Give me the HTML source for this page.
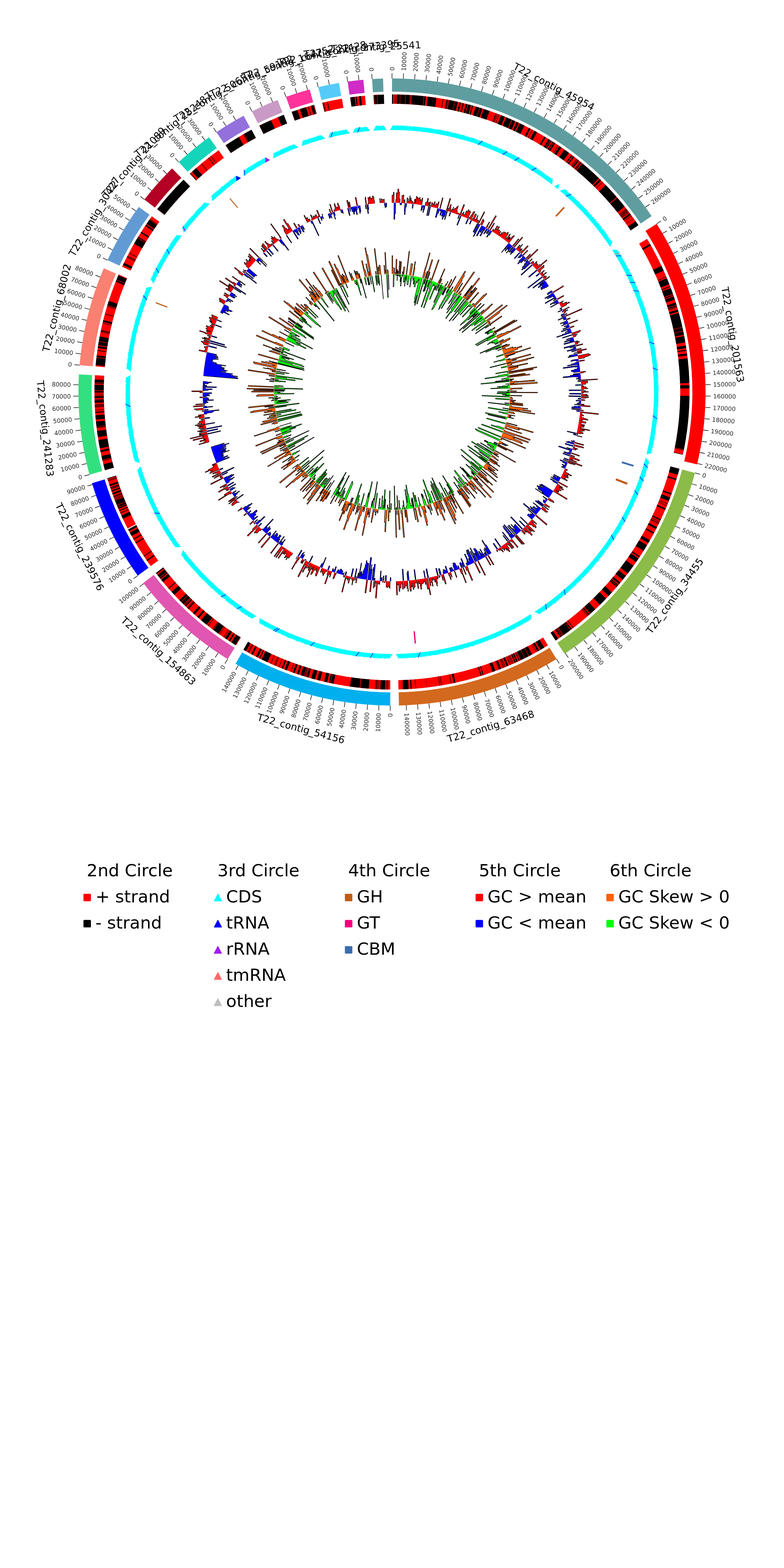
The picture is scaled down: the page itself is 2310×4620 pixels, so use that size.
<!DOCTYPE html><html><head><meta charset="utf-8"><title>Circos</title><style>html,body{margin:0;padding:0;background:#fff;}svg{display:block;}text{font-family:"DejaVu Sans","Liberation Sans",sans-serif;}</style></head><body><svg width="2310" height="4620" viewBox="0 0 2310 4620"><rect width="2310" height="4620" fill="#fff"/><path d="M1155 231A924 924 0 0 1 1920 636.8L1887.8 658.7A885 885 0 0 0 1155 270Z" fill="#5F9EA0"/><path d="M1934.8 659.4A924 924 0 0 1 2054 1368.3L2016.1 1359.3A885 885 0 0 0 1901.9 680.3Z" fill="#FF0000"/><path d="M2047.7 1393.4A924 924 0 0 1 1663.5 1926.5L1642 1893.9A885 885 0 0 0 2010 1383.3Z" fill="#8BBB48"/><path d="M1639.7 1941.7A924 924 0 0 1 1175.5 2078.8L1174.6 2039.8A885 885 0 0 0 1619.3 1908.5Z" fill="#D2691E"/><path d="M1149.8 2079A924 924 0 0 1 694 1955.8L713.4 1922A885 885 0 0 0 1150.1 2040Z" fill="#00B0EE"/><path d="M670.8 1942A924 924 0 0 1 422.1 1717.7L453.1 1694A885 885 0 0 0 691.3 1908.8Z" fill="#E056B0"/><path d="M405.9 1695.9A924 924 0 0 1 271 1423.8L308.3 1412.4A885 885 0 0 0 437.5 1673.1Z" fill="#0000FF"/><path d="M263.6 1398.4A924 924 0 0 1 232.5 1103.1L271.4 1105.3A885 885 0 0 0 301.2 1388.1Z" fill="#33E080"/><path d="M234.4 1075.9A924 924 0 0 1 305.9 790.6L341.7 805.9A885 885 0 0 0 273.2 1079.3Z" fill="#FA8072"/><path d="M316.7 766.4A924 924 0 0 1 409 609.8L440.5 632.8A885 885 0 0 0 352.1 782.8Z" fill="#629BD3"/><path d="M425.5 587.9A924 924 0 0 1 507 496.3L534.4 524.1A885 885 0 0 0 456.3 611.8Z" fill="#B40024"/><path d="M526.7 477.5A924 924 0 0 1 615.9 404.5L638.7 436.2A885 885 0 0 0 553.2 506.1Z" fill="#14D4BA"/><path d="M637.6 389.4A924 924 0 0 1 717.9 340.9L736.4 375.3A885 885 0 0 0 659.5 421.7Z" fill="#9370DB"/><path d="M742.3 328.3A924 924 0 0 1 818 294.6L832.2 331A885 885 0 0 0 759.7 363.2Z" fill="#C99AC6"/><path d="M842.6 285.4A924 924 0 0 1 912.4 263.4L922.7 301A885 885 0 0 0 855.8 322.1Z" fill="#FF3399"/><path d="M937.7 256.9A924 924 0 0 1 998.8 244.3L1005.4 282.7A885 885 0 0 0 946.9 294.8Z" fill="#56CBF9"/><path d="M1024.3 240.3A924 924 0 0 1 1070.6 234.9L1074.2 273.7A885 885 0 0 0 1029.8 278.9Z" fill="#D02BC4"/><path d="M1096.3 232.9A924 924 0 0 1 1128.7 231.4L1129.8 270.4A885 885 0 0 0 1098.8 271.8Z" fill="#5F9EA0"/><path d="M1155 231L1155 215.7M1188.4 231.6L1189 216.3M1221.8 233.4L1222.9 218.2M1255.1 236.4L1256.8 221.2M1288.3 240.7L1290.5 225.5M1321.3 246.1L1324.1 231M1354.1 252.7L1357.4 237.8M1386.6 260.5L1390.4 245.7M1418.8 269.5L1423.2 254.8M1450.7 279.6L1455.6 265.1M1482.2 290.9L1487.6 276.6M1513.2 303.3L1519.2 289.2M1543.8 316.8L1550.3 302.9M1573.9 331.4L1580.8 317.8M1603.4 347.1L1610.9 333.7M1632.4 363.9L1640.3 350.8M1660.7 381.7L1669.1 368.9M1688.3 400.5L1697.2 388M1715.3 420.3L1724.6 408.1M1741.5 441L1751.2 429.2M1767 462.7L1777.1 451.2M1791.6 485.3L1802.2 474.2M1815.4 508.8L1826.4 498.1M1838.4 533.1L1849.7 522.8M1860.4 558.2L1872.1 548.4M1881.6 584.2L1893.6 574.7M1901.8 610.8L1914.1 601.8M1934.8 659.4L1947.7 651.1M1952.2 687.9L1965.4 680.2M1968.6 717.1L1982.1 709.8M1983.9 746.8L1997.7 740M1998.2 777L2012.1 770.8M2011.3 807.8L2025.5 802.1M2023.3 839L2037.7 833.8M2034.2 870.6L2048.7 865.9M2043.9 902.6L2058.6 898.5M2052.4 935L2067.3 931.3M2059.8 967.6L2074.8 964.5M2066 1000.5L2081.1 997.9M2071 1033.5L2086.1 1031.5M2074.8 1066.7L2090 1065.3M2077.4 1100.1L2092.6 1099.2M2078.7 1133.5L2094 1133.1M2078.9 1166.9L2094.2 1167.1M2077.9 1200.4L2093.2 1201.1M2075.6 1233.7L2090.9 1235M2072.2 1267L2087.4 1268.9M2067.5 1300.1L2082.6 1302.5M2061.7 1333L2076.7 1336M2054.6 1365.7L2069.5 1369.2M2047.7 1393.4L2062.5 1397.3M2038.5 1425.5L2053.1 1430M2028.1 1457.3L2042.6 1462.3M2016.6 1488.7L2030.9 1494.2M2004 1519.7L2018.1 1525.7M1990.2 1550.2L2004.1 1556.7M1975.4 1580.1L1989 1587.2M1959.5 1609.5L1972.8 1617.1M1942.5 1638.3L1955.5 1646.3M1924.5 1666.5L1937.2 1675M1905.5 1694L1917.9 1703M1885.5 1720.8L1897.6 1730.2M1864.5 1746.9L1876.3 1756.7M1842.6 1772.2L1854 1782.4M1819.9 1796.7L1830.9 1807.3M1796.2 1820.3L1806.8 1831.3M1771.7 1843.1L1781.9 1854.5M1746.4 1864.9L1756.2 1876.7M1720.3 1885.9L1729.7 1898M1693.5 1905.9L1702.4 1918.3M1666 1924.9L1674.4 1937.6M1639.7 1941.7L1647.7 1954.7M1610.9 1958.7L1618.5 1972M1581.5 1974.7L1588.6 1988.2M1551.6 1989.6L1558.2 2003.4M1521.1 2003.4L1527.2 2017.4M1490.2 2016.1L1495.8 2030.3M1458.8 2027.6L1463.9 2042.1M1427.1 2038L1431.6 2052.7M1394.9 2047.3L1398.9 2062.1M1362.5 2055.4L1365.9 2070.3M1329.8 2062.3L1332.6 2077.3M1296.8 2068.1L1299.2 2083.2M1263.7 2072.6L1265.5 2087.8M1230.4 2075.9L1231.6 2091.2M1197 2078L1197.7 2093.3M1149.8 2079L1149.8 2094.3M1116.4 2078.2L1115.8 2093.5M1083 2076.2L1081.8 2091.4M1049.7 2073L1048 2088.2M1016.6 2068.6L1014.3 2083.7M983.6 2063L980.8 2078M950.9 2056.2L947.5 2071.1M918.4 2048.2L914.5 2063M886.2 2039L881.8 2053.7M854.4 2028.7L849.4 2043.2M823 2017.3L817.5 2031.6M792 2004.7L786 2018.8M761.5 1991L755 2004.9M731.5 1976.2L724.5 1989.8M702.1 1960.4L694.6 1973.7M670.8 1942L662.8 1955M642.7 1924L634.2 1936.7M615.2 1904.9L606.2 1917.3M588.4 1884.9L579 1897M562.4 1863.9L552.5 1875.6M537.1 1842L526.9 1853.4M512.6 1819.2L502 1830.2M489 1795.5L478 1806.1M466.3 1771L454.9 1781.2M444.4 1745.7L432.7 1755.4M423.5 1719.6L411.4 1728.9M405.9 1695.9L393.5 1704.8M386.8 1668.4L374.1 1676.9M368.7 1640.3L355.7 1648.3M351.7 1611.5L338.4 1619.1M335.7 1582.2L322.1 1589.2M320.7 1552.2L306.9 1558.8M306.9 1521.8L292.9 1527.8M294.2 1490.8L279.9 1496.4M282.6 1459.5L268.2 1464.5M272.2 1427.7L257.5 1432.2M263.6 1398.4L248.9 1402.4M255.4 1365.9L240.5 1369.4M248.4 1333.2L233.3 1336.2M242.5 1300.3L227.4 1302.7M237.8 1267.2L222.7 1269.1M234.4 1233.9L219.1 1235.2M232.1 1200.6L216.8 1201.3M231.1 1167.1L215.8 1167.4M231.2 1133.7L215.9 1133.4M234.4 1075.9L219.1 1074.6M237.9 1042.7L222.7 1040.8M242.5 1009.5L227.4 1007.1M248.4 976.6L233.4 973.7M255.4 943.9L240.5 940.4M263.7 911.5L248.9 907.5M273.1 879.4L258.5 874.8M283.6 847.7L269.2 842.6M295.3 816.3L281.1 810.7M316.7 766.4L302.8 760M331.3 736.3L317.7 729.4M347 706.8L333.6 699.4M363.7 677.8L350.6 669.9M381.5 649.5L368.7 641.2M400.3 621.9L387.8 613M425.5 587.9L413.4 578.5M446.5 561.9L434.8 552.1M468.4 536.6L457 526.4M491.2 512.2L480.3 501.5M526.7 477.5L516.3 466.3M551.7 455.2L541.7 443.6M577.4 433.8L567.8 421.9M603.8 413.4L594.7 401.1M637.6 389.4L629.1 376.7M665.7 371.2L657.6 358.2M694.4 354L686.7 340.7M742.3 328.3L735.4 314.6M772.5 313.9L766.1 300M803.2 300.6L797.3 286.5M842.6 285.4L837.4 271M874.3 274.7L869.6 260.1M906.3 265.1L902.2 250.4M937.7 256.9L934.1 242M970.4 249.6L967.3 234.6M1024.3 240.3L1022.2 225.1M1057.5 236.2L1055.9 220.9M1096.3 232.9L1095.4 217.6" stroke="#1e1e1e" stroke-width="1.8" fill="none"/><g font-size="17.6" fill="#262626"><text x="1155" y="208.5" transform="rotate(-90 1155 208.5)" text-anchor="start" dy="0.37em">0</text><text x="1189.3" y="209.1" transform="rotate(-87.9 1189.3 209.1)" text-anchor="start" dy="0.37em">10000</text><text x="1223.5" y="211" transform="rotate(-85.9 1223.5 211)" text-anchor="start" dy="0.37em">20000</text><text x="1257.6" y="214.1" transform="rotate(-83.8 1257.6 214.1)" text-anchor="start" dy="0.37em">30000</text><text x="1291.6" y="218.4" transform="rotate(-81.7 1291.6 218.4)" text-anchor="start" dy="0.37em">40000</text><text x="1325.4" y="224" transform="rotate(-79.6 1325.4 224)" text-anchor="start" dy="0.37em">50000</text><text x="1358.9" y="230.7" transform="rotate(-77.6 1358.9 230.7)" text-anchor="start" dy="0.37em">60000</text><text x="1392.3" y="238.7" transform="rotate(-75.5 1392.3 238.7)" text-anchor="start" dy="0.37em">70000</text><text x="1425.3" y="247.9" transform="rotate(-73.4 1425.3 247.9)" text-anchor="start" dy="0.37em">80000</text><text x="1457.9" y="258.3" transform="rotate(-71.3 1457.9 258.3)" text-anchor="start" dy="0.37em">90000</text><text x="1490.2" y="269.8" transform="rotate(-69.3 1490.2 269.8)" text-anchor="start" dy="0.37em">100000</text><text x="1522" y="282.5" transform="rotate(-67.2 1522 282.5)" text-anchor="start" dy="0.37em">110000</text><text x="1553.3" y="296.4" transform="rotate(-65.1 1553.3 296.4)" text-anchor="start" dy="0.37em">120000</text><text x="1584.1" y="311.4" transform="rotate(-63 1584.1 311.4)" text-anchor="start" dy="0.37em">130000</text><text x="1614.4" y="327.4" transform="rotate(-61 1614.4 327.4)" text-anchor="start" dy="0.37em">140000</text><text x="1644" y="344.6" transform="rotate(-58.9 1644 344.6)" text-anchor="start" dy="0.37em">150000</text><text x="1673" y="362.8" transform="rotate(-56.8 1673 362.8)" text-anchor="start" dy="0.37em">160000</text><text x="1701.3" y="382.1" transform="rotate(-54.7 1701.3 382.1)" text-anchor="start" dy="0.37em">170000</text><text x="1728.9" y="402.4" transform="rotate(-52.7 1728.9 402.4)" text-anchor="start" dy="0.37em">180000</text><text x="1755.8" y="423.6" transform="rotate(-50.6 1755.8 423.6)" text-anchor="start" dy="0.37em">190000</text><text x="1781.9" y="445.9" transform="rotate(-48.5 1781.9 445.9)" text-anchor="start" dy="0.37em">200000</text><text x="1807.1" y="469" transform="rotate(-46.5 1807.1 469)" text-anchor="start" dy="0.37em">210000</text><text x="1831.5" y="493" transform="rotate(-44.4 1831.5 493)" text-anchor="start" dy="0.37em">220000</text><text x="1855" y="518" transform="rotate(-42.3 1855 518)" text-anchor="start" dy="0.37em">230000</text><text x="1877.6" y="543.7" transform="rotate(-40.2 1877.6 543.7)" text-anchor="start" dy="0.37em">240000</text><text x="1899.3" y="570.3" transform="rotate(-38.2 1899.3 570.3)" text-anchor="start" dy="0.37em">250000</text><text x="1919.9" y="597.6" transform="rotate(-36.1 1919.9 597.6)" text-anchor="start" dy="0.37em">260000</text><text x="1953.8" y="647.3" transform="rotate(-32.4 1953.8 647.3)" text-anchor="start" dy="0.37em">0</text><text x="1971.7" y="676.5" transform="rotate(-30.4 1971.7 676.5)" text-anchor="start" dy="0.37em">10000</text><text x="1988.4" y="706.4" transform="rotate(-28.3 1988.4 706.4)" text-anchor="start" dy="0.37em">20000</text><text x="2004.1" y="736.8" transform="rotate(-26.2 2004.1 736.8)" text-anchor="start" dy="0.37em">30000</text><text x="2018.7" y="767.8" transform="rotate(-24.1 2018.7 767.8)" text-anchor="start" dy="0.37em">40000</text><text x="2032.1" y="799.3" transform="rotate(-22.1 2032.1 799.3)" text-anchor="start" dy="0.37em">50000</text><text x="2044.4" y="831.3" transform="rotate(-20 2044.4 831.3)" text-anchor="start" dy="0.37em">60000</text><text x="2055.6" y="863.7" transform="rotate(-17.9 2055.6 863.7)" text-anchor="start" dy="0.37em">70000</text><text x="2065.5" y="896.5" transform="rotate(-15.8 2065.5 896.5)" text-anchor="start" dy="0.37em">80000</text><text x="2074.3" y="929.6" transform="rotate(-13.8 2074.3 929.6)" text-anchor="start" dy="0.37em">90000</text><text x="2081.8" y="963" transform="rotate(-11.7 2081.8 963)" text-anchor="start" dy="0.37em">100000</text><text x="2088.2" y="996.7" transform="rotate(-9.6 2088.2 996.7)" text-anchor="start" dy="0.37em">110000</text><text x="2093.3" y="1030.6" transform="rotate(-7.6 2093.3 1030.6)" text-anchor="start" dy="0.37em">120000</text><text x="2097.2" y="1064.6" transform="rotate(-5.5 2097.2 1064.6)" text-anchor="start" dy="0.37em">130000</text><text x="2099.8" y="1098.8" transform="rotate(-3.4 2099.8 1098.8)" text-anchor="start" dy="0.37em">140000</text><text x="2101.2" y="1133" transform="rotate(-1.3 2101.2 1133)" text-anchor="start" dy="0.37em">150000</text><text x="2101.4" y="1167.2" transform="rotate(0.7 2101.4 1167.2)" text-anchor="start" dy="0.37em">160000</text><text x="2100.4" y="1201.5" transform="rotate(2.8 2100.4 1201.5)" text-anchor="start" dy="0.37em">170000</text><text x="2098.1" y="1235.7" transform="rotate(4.9 2098.1 1235.7)" text-anchor="start" dy="0.37em">180000</text><text x="2094.5" y="1269.7" transform="rotate(7 2094.5 1269.7)" text-anchor="start" dy="0.37em">190000</text><text x="2089.8" y="1303.7" transform="rotate(9 2089.8 1303.7)" text-anchor="start" dy="0.37em">200000</text><text x="2083.8" y="1337.4" transform="rotate(11.1 2083.8 1337.4)" text-anchor="start" dy="0.37em">210000</text><text x="2076.6" y="1370.9" transform="rotate(13.2 2076.6 1370.9)" text-anchor="start" dy="0.37em">220000</text><text x="2069.5" y="1399.2" transform="rotate(15 2069.5 1399.2)" text-anchor="start" dy="0.37em">0</text><text x="2060" y="1432.1" transform="rotate(17 2060 1432.1)" text-anchor="start" dy="0.37em">10000</text><text x="2049.4" y="1464.7" transform="rotate(19.1 2049.4 1464.7)" text-anchor="start" dy="0.37em">20000</text><text x="2037.6" y="1496.8" transform="rotate(21.2 2037.6 1496.8)" text-anchor="start" dy="0.37em">30000</text><text x="2024.7" y="1528.6" transform="rotate(23.2 2024.7 1528.6)" text-anchor="start" dy="0.37em">40000</text><text x="2010.6" y="1559.8" transform="rotate(25.3 2010.6 1559.8)" text-anchor="start" dy="0.37em">50000</text><text x="1995.4" y="1590.5" transform="rotate(27.4 1995.4 1590.5)" text-anchor="start" dy="0.37em">60000</text><text x="1979.1" y="1620.6" transform="rotate(29.5 1979.1 1620.6)" text-anchor="start" dy="0.37em">70000</text><text x="1961.7" y="1650.1" transform="rotate(31.5 1961.7 1650.1)" text-anchor="start" dy="0.37em">80000</text><text x="1943.2" y="1679" transform="rotate(33.6 1943.2 1679)" text-anchor="start" dy="0.37em">90000</text><text x="1923.8" y="1707.2" transform="rotate(35.7 1923.8 1707.2)" text-anchor="start" dy="0.37em">100000</text><text x="1903.3" y="1734.6" transform="rotate(37.8 1903.3 1734.6)" text-anchor="start" dy="0.37em">110000</text><text x="1881.8" y="1761.3" transform="rotate(39.8 1881.8 1761.3)" text-anchor="start" dy="0.37em">120000</text><text x="1859.4" y="1787.2" transform="rotate(41.9 1859.4 1787.2)" text-anchor="start" dy="0.37em">130000</text><text x="1836" y="1812.3" transform="rotate(44 1836 1812.3)" text-anchor="start" dy="0.37em">140000</text><text x="1811.8" y="1836.5" transform="rotate(46.1 1811.8 1836.5)" text-anchor="start" dy="0.37em">150000</text><text x="1786.7" y="1859.8" transform="rotate(48.1 1786.7 1859.8)" text-anchor="start" dy="0.37em">160000</text><text x="1760.8" y="1882.2" transform="rotate(50.2 1760.8 1882.2)" text-anchor="start" dy="0.37em">170000</text><text x="1734.1" y="1903.7" transform="rotate(52.3 1734.1 1903.7)" text-anchor="start" dy="0.37em">180000</text><text x="1706.6" y="1924.1" transform="rotate(54.4 1706.6 1924.1)" text-anchor="start" dy="0.37em">190000</text><text x="1678.4" y="1943.6" transform="rotate(56.4 1678.4 1943.6)" text-anchor="start" dy="0.37em">200000</text><text x="1651.5" y="1960.8" transform="rotate(58.4 1651.5 1960.8)" text-anchor="start" dy="0.37em">0</text><text x="1622" y="1978.3" transform="rotate(60.4 1622 1978.3)" text-anchor="start" dy="0.37em">10000</text><text x="1591.9" y="1994.6" transform="rotate(62.5 1591.9 1994.6)" text-anchor="start" dy="0.37em">20000</text><text x="1561.3" y="2009.9" transform="rotate(64.6 1561.3 2009.9)" text-anchor="start" dy="0.37em">30000</text><text x="1530.1" y="2024" transform="rotate(66.7 1530.1 2024)" text-anchor="start" dy="0.37em">40000</text><text x="1498.4" y="2037" transform="rotate(68.7 1498.4 2037)" text-anchor="start" dy="0.37em">50000</text><text x="1466.2" y="2048.9" transform="rotate(70.8 1466.2 2048.9)" text-anchor="start" dy="0.37em">60000</text><text x="1433.7" y="2059.5" transform="rotate(72.9 1433.7 2059.5)" text-anchor="start" dy="0.37em">70000</text><text x="1400.8" y="2069" transform="rotate(75 1400.8 2069)" text-anchor="start" dy="0.37em">80000</text><text x="1367.5" y="2077.3" transform="rotate(77 1367.5 2077.3)" text-anchor="start" dy="0.37em">90000</text><text x="1334" y="2084.4" transform="rotate(79.1 1334 2084.4)" text-anchor="start" dy="0.37em">100000</text><text x="1300.3" y="2090.3" transform="rotate(81.2 1300.3 2090.3)" text-anchor="start" dy="0.37em">110000</text><text x="1266.3" y="2094.9" transform="rotate(83.2 1266.3 2094.9)" text-anchor="start" dy="0.37em">120000</text><text x="1232.2" y="2098.3" transform="rotate(85.3 1232.2 2098.3)" text-anchor="start" dy="0.37em">130000</text><text x="1198" y="2100.5" transform="rotate(87.4 1198 2100.5)" text-anchor="start" dy="0.37em">140000</text><text x="1149.7" y="2101.5" transform="rotate(-89.7 1149.7 2101.5)" text-anchor="end" dy="0.37em">0</text><text x="1115.5" y="2100.7" transform="rotate(-87.6 1115.5 2100.7)" text-anchor="end" dy="0.37em">10000</text><text x="1081.3" y="2098.6" transform="rotate(-85.5 1081.3 2098.6)" text-anchor="end" dy="0.37em">20000</text><text x="1047.2" y="2095.3" transform="rotate(-83.5 1047.2 2095.3)" text-anchor="end" dy="0.37em">30000</text><text x="1013.2" y="2090.8" transform="rotate(-81.4 1013.2 2090.8)" text-anchor="end" dy="0.37em">40000</text><text x="979.4" y="2085.1" transform="rotate(-79.3 979.4 2085.1)" text-anchor="end" dy="0.37em">50000</text><text x="945.9" y="2078.1" transform="rotate(-77.2 945.9 2078.1)" text-anchor="end" dy="0.37em">60000</text><text x="912.6" y="2069.9" transform="rotate(-75.2 912.6 2069.9)" text-anchor="end" dy="0.37em">70000</text><text x="879.7" y="2060.6" transform="rotate(-73.1 879.7 2060.6)" text-anchor="end" dy="0.37em">80000</text><text x="847.1" y="2050" transform="rotate(-71 847.1 2050)" text-anchor="end" dy="0.37em">90000</text><text x="814.9" y="2038.3" transform="rotate(-68.9 814.9 2038.3)" text-anchor="end" dy="0.37em">100000</text><text x="783.2" y="2025.4" transform="rotate(-66.9 783.2 2025.4)" text-anchor="end" dy="0.37em">110000</text><text x="751.9" y="2011.4" transform="rotate(-64.8 751.9 2011.4)" text-anchor="end" dy="0.37em">120000</text><text x="721.2" y="1996.2" transform="rotate(-62.7 721.2 1996.2)" text-anchor="end" dy="0.37em">130000</text><text x="691" y="1980" transform="rotate(-60.6 691 1980)" text-anchor="end" dy="0.37em">140000</text><text x="659" y="1961.2" transform="rotate(-58.4 659 1961.2)" text-anchor="end" dy="0.37em">0</text><text x="630.2" y="1942.7" transform="rotate(-56.3 630.2 1942.7)" text-anchor="end" dy="0.37em">10000</text><text x="602" y="1923.2" transform="rotate(-54.3 602 1923.2)" text-anchor="end" dy="0.37em">20000</text><text x="574.6" y="1902.7" transform="rotate(-52.2 574.6 1902.7)" text-anchor="end" dy="0.37em">30000</text><text x="547.9" y="1881.2" transform="rotate(-50.1 547.9 1881.2)" text-anchor="end" dy="0.37em">40000</text><text x="522" y="1858.7" transform="rotate(-48 522 1858.7)" text-anchor="end" dy="0.37em">50000</text><text x="497" y="1835.4" transform="rotate(-46 497 1835.4)" text-anchor="end" dy="0.37em">60000</text><text x="472.8" y="1811.1" transform="rotate(-43.9 472.8 1811.1)" text-anchor="end" dy="0.37em">70000</text><text x="449.5" y="1786" transform="rotate(-41.8 449.5 1786)" text-anchor="end" dy="0.37em">80000</text><text x="427.1" y="1760" transform="rotate(-39.7 427.1 1760)" text-anchor="end" dy="0.37em">90000</text><text x="405.7" y="1733.3" transform="rotate(-37.7 405.7 1733.3)" text-anchor="end" dy="0.37em">100000</text><text x="387.6" y="1709.1" transform="rotate(-35.8 387.6 1709.1)" text-anchor="end" dy="0.37em">0</text><text x="368.1" y="1680.9" transform="rotate(-33.8 368.1 1680.9)" text-anchor="end" dy="0.37em">10000</text><text x="349.6" y="1652.1" transform="rotate(-31.7 349.6 1652.1)" text-anchor="end" dy="0.37em">20000</text><text x="332.1" y="1622.6" transform="rotate(-29.6 332.1 1622.6)" text-anchor="end" dy="0.37em">30000</text><text x="315.7" y="1592.6" transform="rotate(-27.5 315.7 1592.6)" text-anchor="end" dy="0.37em">40000</text><text x="300.4" y="1561.9" transform="rotate(-25.5 300.4 1561.9)" text-anchor="end" dy="0.37em">50000</text><text x="286.3" y="1530.7" transform="rotate(-23.4 286.3 1530.7)" text-anchor="end" dy="0.37em">60000</text><text x="273.2" y="1499" transform="rotate(-21.3 273.2 1499)" text-anchor="end" dy="0.37em">70000</text><text x="261.4" y="1466.9" transform="rotate(-19.2 261.4 1466.9)" text-anchor="end" dy="0.37em">80000</text><text x="250.7" y="1434.3" transform="rotate(-17.2 250.7 1434.3)" text-anchor="end" dy="0.37em">90000</text><text x="241.9" y="1404.3" transform="rotate(-15.3 241.9 1404.3)" text-anchor="end" dy="0.37em">0</text><text x="233.5" y="1371.1" transform="rotate(-13.2 233.5 1371.1)" text-anchor="end" dy="0.37em">10000</text><text x="226.3" y="1337.6" transform="rotate(-11.1 226.3 1337.6)" text-anchor="end" dy="0.37em">20000</text><text x="220.3" y="1303.9" transform="rotate(-9 220.3 1303.9)" text-anchor="end" dy="0.37em">30000</text><text x="215.5" y="1269.9" transform="rotate(-7 215.5 1269.9)" text-anchor="end" dy="0.37em">40000</text><text x="212" y="1235.9" transform="rotate(-4.9 212 1235.9)" text-anchor="end" dy="0.37em">50000</text><text x="209.7" y="1201.7" transform="rotate(-2.8 209.7 1201.7)" text-anchor="end" dy="0.37em">60000</text><text x="208.6" y="1167.4" transform="rotate(-0.8 208.6 1167.4)" text-anchor="end" dy="0.37em">70000</text><text x="208.8" y="1133.2" transform="rotate(1.3 208.8 1133.2)" text-anchor="end" dy="0.37em">80000</text><text x="212" y="1074" transform="rotate(4.9 212 1074)" text-anchor="end" dy="0.37em">0</text><text x="215.5" y="1039.9" transform="rotate(7 215.5 1039.9)" text-anchor="end" dy="0.37em">10000</text><text x="220.3" y="1006" transform="rotate(9.1 220.3 1006)" text-anchor="end" dy="0.37em">20000</text><text x="226.3" y="972.3" transform="rotate(11.1 226.3 972.3)" text-anchor="end" dy="0.37em">30000</text><text x="233.5" y="938.8" transform="rotate(13.2 233.5 938.8)" text-anchor="end" dy="0.37em">40000</text><text x="242" y="905.6" transform="rotate(15.3 242 905.6)" text-anchor="end" dy="0.37em">50000</text><text x="251.6" y="872.7" transform="rotate(17.4 251.6 872.7)" text-anchor="end" dy="0.37em">60000</text><text x="262.4" y="840.2" transform="rotate(19.4 262.4 840.2)" text-anchor="end" dy="0.37em">70000</text><text x="274.4" y="808.1" transform="rotate(21.5 274.4 808.1)" text-anchor="end" dy="0.37em">80000</text><text x="296.3" y="756.9" transform="rotate(24.9 296.3 756.9)" text-anchor="end" dy="0.37em">0</text><text x="311.2" y="726.1" transform="rotate(26.9 311.2 726.1)" text-anchor="end" dy="0.37em">10000</text><text x="327.3" y="695.9" transform="rotate(29 327.3 695.9)" text-anchor="end" dy="0.37em">20000</text><text x="344.5" y="666.2" transform="rotate(31.1 344.5 666.2)" text-anchor="end" dy="0.37em">30000</text><text x="362.7" y="637.2" transform="rotate(33.2 362.7 637.2)" text-anchor="end" dy="0.37em">40000</text><text x="381.9" y="608.9" transform="rotate(35.2 381.9 608.9)" text-anchor="end" dy="0.37em">50000</text><text x="407.7" y="574.1" transform="rotate(37.9 407.7 574.1)" text-anchor="end" dy="0.37em">0</text><text x="429.2" y="547.4" transform="rotate(39.9 429.2 547.4)" text-anchor="end" dy="0.37em">10000</text><text x="451.7" y="521.6" transform="rotate(42 451.7 521.6)" text-anchor="end" dy="0.37em">20000</text><text x="475.1" y="496.5" transform="rotate(44.1 475.1 496.5)" text-anchor="end" dy="0.37em">30000</text><text x="511.4" y="461" transform="rotate(47.2 511.4 461)" text-anchor="end" dy="0.37em">0</text><text x="537" y="438.1" transform="rotate(49.2 537 438.1)" text-anchor="end" dy="0.37em">10000</text><text x="563.3" y="416.2" transform="rotate(51.3 563.3 416.2)" text-anchor="end" dy="0.37em">20000</text><text x="590.4" y="395.3" transform="rotate(53.4 590.4 395.3)" text-anchor="end" dy="0.37em">30000</text><text x="625" y="370.8" transform="rotate(55.9 625 370.8)" text-anchor="end" dy="0.37em">0</text><text x="653.8" y="352.1" transform="rotate(58 653.8 352.1)" text-anchor="end" dy="0.37em">10000</text><text x="683.1" y="334.5" transform="rotate(60.1 683.1 334.5)" text-anchor="end" dy="0.37em">20000</text><text x="732.2" y="308.2" transform="rotate(63.5 732.2 308.2)" text-anchor="end" dy="0.37em">0</text><text x="763.2" y="293.4" transform="rotate(65.5 763.2 293.4)" text-anchor="end" dy="0.37em">10000</text><text x="794.6" y="279.8" transform="rotate(67.6 794.6 279.8)" text-anchor="end" dy="0.37em">20000</text><text x="835" y="264.2" transform="rotate(70.2 835 264.2)" text-anchor="end" dy="0.37em">0</text><text x="867.4" y="253.2" transform="rotate(72.3 867.4 253.2)" text-anchor="end" dy="0.37em">10000</text><text x="900.3" y="243.4" transform="rotate(74.4 900.3 243.4)" text-anchor="end" dy="0.37em">20000</text><text x="932.4" y="235" transform="rotate(76.4 932.4 235)" text-anchor="end" dy="0.37em">0</text><text x="965.9" y="227.6" transform="rotate(78.5 965.9 227.6)" text-anchor="end" dy="0.37em">10000</text><text x="1021.1" y="218" transform="rotate(81.9 1021.1 218)" text-anchor="end" dy="0.37em">0</text><text x="1055.1" y="213.8" transform="rotate(83.9 1055.1 213.8)" text-anchor="end" dy="0.37em">10000</text><text x="1094.9" y="210.4" transform="rotate(86.4 1094.9 210.4)" text-anchor="end" dy="0.37em">0</text></g><g font-size="29" fill="#000"><text x="1627.4" y="264.5" transform="rotate(27.9 1627.4 264.5)" text-anchor="middle">T22_contig_45954</text><text x="2149" y="987.8" transform="rotate(80.5 2149 987.8)" text-anchor="middle">T22_contig_201563</text><text x="1996.7" y="1761.6" transform="rotate(-54.2 1996.7 1761.6)" text-anchor="middle">T22_contig_34455</text><text x="1448.9" y="2150" transform="rotate(-16.5 1448.9 2150)" text-anchor="middle">T22_contig_63468</text><text x="884.3" y="2156.6" transform="rotate(15.1 884.3 2156.6)" text-anchor="middle">T22_contig_54156</text><text x="460.2" y="1925.5" transform="rotate(42 460.2 1925.5)" text-anchor="middle">T22_contig_154863</text><text x="225.5" y="1615.8" transform="rotate(63.6 225.5 1615.8)" text-anchor="middle">T22_contig_239576</text><text x="123.2" y="1263.9" transform="rotate(84 123.2 1263.9)" text-anchor="middle">T22_contig_241283</text><text x="177.2" y="909.9" transform="rotate(284.1 177.2 909.9)" text-anchor="middle">T22_contig_68002</text><text x="286.6" y="643.2" transform="rotate(300.5 286.6 643.2)" text-anchor="middle">T22_contig_30427</text><text x="402" y="484.9" transform="rotate(311.7 402 484.9)" text-anchor="middle">T22_contig_21089</text><text x="517" y="374.6" transform="rotate(320.7 517 374.6)" text-anchor="middle">T22_contig_252487</text><text x="633.7" y="292.3" transform="rotate(328.9 633.7 292.3)" text-anchor="middle">T22_contig_50657</text><text x="745.7" y="233.9" transform="rotate(336 745.7 233.9)" text-anchor="middle">T22_contig_59142</text><text x="852.1" y="193.6" transform="rotate(342.5 852.1 193.6)" text-anchor="middle">T22_contig_164752</text><text x="951.2" y="167.8" transform="rotate(348.3 951.2 167.8)" text-anchor="middle">T22_contig_27428</text><text x="1037.7" y="153.9" transform="rotate(353.3 1037.7 153.9)" text-anchor="middle">T22_contig_273395</text><text x="1108.7" y="148.1" transform="rotate(357.4 1108.7 148.1)" text-anchor="middle">T22_contig_25541</text></g><circle cx="1155" cy="1155" r="863" fill="none" stroke="#FF0000" stroke-width="27.4" transform="rotate(-90 1155 1155)" stroke-dasharray="0.00 0.00 841.84 47.00 649.71 42.22 627.50 26.35 457.45 23.94 445.99 25.16 314.52 25.44 124.94 3.12 156.90 24.71 278.50 25.46 275.94 24.70 170.05 25.61 114.64 25.44 107.70 24.70 87.65 25.62 77.43 24.54 68.38 24.41 58.29 24.10 43.54 24.09 30.27 26.56"/><circle cx="1155" cy="1155" r="863" fill="none" stroke="#000" stroke-width="27.4" transform="rotate(-90 1155 1155)" stroke-dasharray="0.00 0.00 3.27 5.26 1.50 3.84 9.10 1.41 14.16 1.41 11.37 1.41 1.90 2.76 35.06 1.41 5.05 4.93 21.13 0.00 4.69 18.69 1.41 9.77 3.17 1.41 1.41 1.84 15.72 1.41 8.09 5.09 4.32 3.97 1.41 1.41 2.14 5.70 5.18 1.88 8.18 3.02 3.31 7.91 11.14 1.41 7.93 3.72 10.88 0.00 6.79 19.60 2.51 2.34 1.41 3.36 1.41 5.51 11.79 4.25 16.99 1.88 9.69 4.51 7.07 3.04 14.94 14.47 5.24 5.45 1.41 6.04 8.49 24.87 4.36 9.74 5.52 1.41 3.10 3.68 1.41 0.14 1.41 1.42 4.60 10.25 1.41 2.98 7.40 10.74 15.88 9.97 3.03 2.68 4.12 8.45 1.41 1.41 1.41 1.41 3.32 4.45 1.52 1.41 2.71 2.30 0.54 0.00 56.22 0.00 7.16 3.62 5.87 5.64 1.41 11.48 2.30 0.00 45.28 2.49 8.45 0.00 24.99 7.54 1.41 1.41 1.41 1.41 2.08 1.41 1.41 1.41 1.41 3.39 0.74 0.00 4.76 3.21 1.45 8.53 0.78 9.45 14.01 64.03 4.84 67.00 15.07 18.67 1.41 3.75 12.79 0.00 5.95 6.05 2.28 3.65 0.80 0.00 17.61 2.00 2.94 2.44 9.57 9.17 6.73 1.41 3.64 2.12 1.64 6.00 5.89 3.81 18.74 0.00 12.49 0.00 11.20 1.41 9.85 1.41 1.12 0.00 9.17 3.32 18.74 9.37 7.62 4.87 2.95 7.78 6.06 8.06 0.14 0.00 71.84 6.25 9.37 21.87 62.47 0.00 3.12 0.00 90.58 1.41 1.41 11.76 1.05 42.22 12.49 0.00 5.35 12.22 3.98 40.93 4.26 8.23 10.66 1.45 0.38 6.62 1.50 4.07 1.41 8.21 4.38 30.05 3.79 3.70 1.41 2.90 1.41 1.41 1.00 9.62 6.46 11.27 4.05 21.71 9.18 7.39 8.41 0.00 10.70 19.10 3.52 4.17 12.49 13.00 11.99 0.00 15.68 9.21 14.34 10.75 5.83 2.92 3.39 1.41 3.42 20.52 12.49 0.00 1.41 10.72 0.37 0.00 24.99 18.74 18.74 2.82 3.62 2.07 1.41 1.92 0.66 51.38 2.01 4.89 3.59 1.41 5.44 0.00 17.82 1.41 1.54 1.10 2.36 1.41 4.11 7.74 9.03 38.92 12.67 4.27 5.82 2.77 1.41 13.58 9.88 1.41 11.85 1.41 12.13 3.02 2.53 4.02 3.73 2.07 3.74 4.08 1.41 2.64 1.41 3.38 1.87 5.46 5.18 3.47 1.41 2.13 1.41 1.44 1.41 6.60 4.00 1.41 1.73 10.67 8.54 27.27 2.50 3.53 0.60 0.00 2.10 75.99 5.05 3.89 0.43 2.78 1.41 27.00 1.48 3.56 1.41 36.79 0.54 31.45 1.41 11.18 2.95 6.11 16.32 43.40 2.78 2.20 1.41 2.40 3.71 0.00 10.09 3.94 1.41 2.55 1.41 1.41 1.81 1.41 0.98 18.74 21.87 0.00 2.47 1.97 8.06 0.00 18.74 0.00 1.41 48.57 8.36 1.41 3.71 5.26 9.00 12.24 8.75 6.58 11.16 8.61 5.91 1.96 1.41 1.41 2.24 1.41 9.03 6.13 4.94 7.38 5.70 5.04 1.41 11.98 6.89 5.24 3.83 8.07 1.41 10.01 1.45 1.41 1.54 9.80 1.41 10.09 18.59 5.11 2.41 4.89 5.75 10.92 4.80 7.72 1.41 1.41 1.46 5.16 8.68 26.56 14.08 5.57 3.93 6.25 7.29 3.14 1.47 13.09 1.41 3.07 14.27 0.00 4.47 1.56 1.77 15.29 1.78 3.71 21.39 8.58 5.33 10.89 6.44 17.09 3.33 1.41 1.41 5.07 2.93 1.41 2.11 1.90 9.17 1.41 6.94 21.35 11.59 12.04 2.49 23.31 8.94 2.79 3.88 1.41 9.00 3.92 3.45 43.19 3.57 12.10 2.34 42.33 3.12 9.37 3.12 9.37 9.37 0.00 1.41 4.84 6.25 34.36 10.01 6.71 2.02 5.33 2.68 4.07 3.76 1.41 1.41 0.08 4.20 1.41 14.46 1.80 1.41 1.41 1.41 2.09 1.41 1.41 2.77 4.21 2.63 0.00 2.66 4.00 3.71 3.55 2.06 1.41 1.35 0.00 1.41 3.50 4.96 9.93 1.41 1.58 1.43 2.55 2.07 24.71 17.53 10.31 1.41 1.41 11.47 11.30 5.95 5.59 24.27 8.73 17.95 9.04 2.31 1.41 14.77 5.73 7.02 0.00 5.21 7.23 3.05 4.01 1.41 7.62 1.41 1.30 2.21 1.41 1.77 5.05 7.33 1.41 1.41 3.71 5.34 2.45 1.55 4.59 1.41 1.79 3.77 1.65 16.13 3.22 2.01 1.42 8.45 41.90 21.54 1.49 5.50 13.16 2.06 6.36 5.73 2.57 6.85 0.00 3.51 1.41 13.82 12.86 1.41 1.88 2.60 20.15 1.41 2.70 5.47 17.76 1.41 21.24 1.41 2.50 13.43 59.35 3.12 0.00 2.00 1.41 13.73 32.83 7.04 18.13 1.41 1.41 1.64 8.66 1.41 29.83 18.74 1.43 3.21 13.21 4.02 20.37 4.62 2.64 12.97 0.00 1.41 1.41 1.41 35.26 114.64 25.44 2.07 6.35 15.81 19.18 1.52 25.21 1.90 6.45 1.41 52.50 45.21 14.34 1.41 1.41 25.29 25.62 21.87 0.00 15.38 21.98 0.13 0.00 18.09 24.54 15.62 0.00 1.41 8.11 6.10 0.00 12.49 5.96 1.92 6.73 7.62 1.41 1.01 24.41 1.42 1.41 1.41 9.38 1.97 66.81 12.49 3.12 3.12 6.25 6.25 37.96 8.34 1.41 18.96 26.56"/><path d="M1148.9 383A772 772 0 0 1 1626.8 543.9L1628.7 529.8 1628.2 526.8 1624.9 528 1624.8 524.2 1621.7 524.5 1620.9 521.4 1616.8 523 1617 518.5 1613.9 519.3 1613.7 516.1 1609.6 517.6 1610.1 513.5 1606.3 515.4 1606.4 510.9 1602.7 512.2 1602.8 508.4 1599.1 509.1 1599 505.8 1595.7 506.3 1594.8 502.9 1591.7 504.2 1591.2 500.5 1588.2 500.4 1587.6 498.1 1583.8 500.2 1584.3 496 1580.7 496.6 1579.9 493.1 1577.2 493.4 1576.3 490.9 1573.6 491.4 1572.4 488.4 1569.6 489.5 1568.9 486.2 1565.6 487.8 1565.6 484.2 1562.2 486.1 1562 482 1558.2 483.8 1558.5 479.9 1555.6 480.7 1555.1 477.8 1551.5 479.9 1551.2 475.6 1547.3 477.8 1547.6 473.5 1544.5 474.7 1543.8 471.3 1540.4 473.6 1540.1 469.2 1536.6 471.1 1536.5 467.2 1532.6 468.8 1532.2 464.9 1529 466.4 1528.2 462.7 1524.4 464.1 1524.1 460.5 1520.3 462.5 1520.4 458.5 1516.8 459.9 1515.9 456.2 1513.3 456.7 1512.1 454.3 1508.6 457 1508.4 452.4 1505.6 452.7 1504.7 450.5 1501.3 452.2 1500.6 448.5 1497.5 450.7 1496.9 446.7 1493 449 1492.6 444.7 1489.8 444.9 1488.6 442.8 1486.3 443.3 1484.6 440.9 1480.9 443.6 1480.2 438.9 1477.7 439.5 1476.2 437.1 1472.4 439.4 1471.7 435.1 1468.7 437 1467.6 433.3 1463.9 435.6 1463.5 431.5 1460.5 433.1 1459.6 429.9 1456.6 432.3 1455.7 428.2 1451.8 431 1451.2 426.4 1447.5 429.2 1446.6 424.6 1444 426.1 1442.8 423.1 1439.5 425.2 1438.7 421.4 1435.5 423.3 1434.4 419.8 1431.3 421.7 1430.7 418.4 1427.5 420.1 1426.7 416.9 1423.7 417.9 1422.3 415.3 1419.6 417.3 1418.8 414 1416 416.2 1415.3 412.8 1412.3 414.6 1411.5 411.5 1408.1 414.4 1407 410 1403.9 411.7 1403 408.6 1400 410.8 1398.4 407.1 1396.1 408.2 1394.1 405.7 1391.3 406.7 1390 404.4 1386.7 406.2 1385 402.9 1381.5 405.6 1380.2 401.4 1376.6 404.4 1375.7 400.1 1372.4 402.9 1370.9 398.7 1368.5 399.9 1367.2 397.7 1364.6 398.5 1363.2 396.5 1360.5 398.6 1359.3 395.5 1356.6 398.5 1355.7 394.5 1352.6 396 1350.7 393.2 1348.4 394.6 1347.1 392.3 1344.3 394 1342.9 391.3 1339.8 393.1 1338.2 390.1 1334.9 393.3 1333.2 388.9 1330.2 391.3 1328.5 387.9 1326.3 388.7 1324.3 386.9 1321.9 388.4 1320.2 386 1317.9 387.6 1316.5 385.3 1313.4 388.1 1311.8 384.3 1308.8 386.2 1307 383.3 1304.2 386.9 1303.2 382.6 1300.9 384.6 1299.2 381.8 1296.8 383 1295.2 381.1 1292.9 383 1291.5 380.4 1289.2 383.2 1287.9 379.8 1285.3 382.9 1283.6 379.1 1280.8 382.2 1279.1 378.4 1276.4 381.7 1274.4 377.6 1271.9 381 1270.6 377 1268.1 378.3 1265.9 376.4 1263.3 379.4 1262 375.8 1259.4 378 1257.7 375.2 1255 377.8 1252.8 374.6 1250 377.7 1247.8 374 1245.8 376.4 1243.9 373.5 1241.6 377.2 1239.6 373.1 1237.5 375.4 1235.2 372.6 1233 375.9 1231 372.2 1228.6 374.3 1226.4 371.7 1224.2 374.8 1222.4 371.4 1220.5 372.8 1218.2 371 1215.5 374.9 1213.3 370.7 1210.7 373.3 1208.5 370.3 1206.1 373.6 1204.5 370.1 1202.3 373.9 1200.5 369.8 1197.9 371.8 1195.5 369.5 1193 372.8 1190.9 369.3 1188.7 371.1 1186.5 369.1 1184.4 371.4 1181.9 369 1179.9 370.5 1178.2 368.8 1176.1 372.2 1173.8 368.7 1171.1 370.7 1169.1 368.6 1166.5 371.8 1164.6 368.6 1162 370.9 1159.7 368.5 1157.3 369.9 1156 372ZM1649.5 562.1A772 772 0 0 1 1797.6 727.1L1804.2 714.1 1804.3 711.2 1800.5 710.7 1801.5 707.1 1797.6 707.1 1799.1 703.7 1794.6 704 1796.3 699.7 1791.9 700.5 1794.1 696.6 1790.1 696.4 1791.5 693 1787.2 693.9 1789.1 689.7 1786 689.1 1786.2 685.8 1783.2 685.8 1783.9 682.7 1781 681.8 1780.9 678.7 1778.4 678.3 1778.2 675.2 1773.6 675.5 1775.4 671.6 1771.1 672.6 1772.7 668.2 1769.4 667.7 1769.6 664.3 1765.6 664.5 1767 661 1764.3 660.8 1764.6 658.1 1761.1 658.4 1762.2 655.1 1758.4 655.7 1759.4 651.8 1755.6 652.2 1756.4 648.1 1753.7 647.6 1753.5 644.7 1750.1 645.3 1750.9 641.7 1747 641.9 1747.8 638.1 1743.7 638.7 1744.6 634.5 1742 634.3 1742.1 631.7 1738.3 632.7 1739.3 628.5 1734.5 629.3 1736.1 625 1733.2 624.6 1733.3 621.9 1729.5 622.4 1730.1 618.5 1727.7 618 1727.4 615.6 1724.5 615.6 1724.5 612.6 1721.5 612.8 1721.9 609.9 1718.7 609.6 1718.5 606.4 1714.7 606.9 1715.4 603.2 1712.8 602.8 1712.6 600.4 1708 601.4 1709.5 597.2 1706.9 596.9 1706.5 594.2 1703.9 593.9 1703.6 591.4 1700.2 591.8 1700.3 588.2 1696.9 588.2 1697 585.1 1693 586.3 1693.7 582 1690.6 581.8 1690.6 579.1 1687.7 579 1687.4 576 1684.1 576.9 1684.1 573.1 1680.2 574.4 1681.1 570.4 1678.2 570.1 1677.9 567.5 1674.3 568.8 1675 564.9 1670.9 566.2 1671.8 562.1 1669.4 561.9 1668.5 559.2 1666.2 559.1 1665.7 556.8 1662 558.3ZM1803.3 735.8A772 772 0 0 1 1904.7 1339.1L1919.2 1335.4 1921 1333.3 1918.8 1330.3 1922 1329 1918.8 1325.9 1922.9 1324.9 1919.5 1321.9 1923.8 1320.7 1922.2 1317.9 1924.8 1316.2 1922.5 1313.3 1925.7 1312 1923.2 1309.2 1926.6 1307.4 1924.2 1304.4 1927.5 1302.7 1925.1 1299.8 1928.3 1298.4 1927.1 1295.7 1929.2 1293.6 1927.9 1291 1930 1288.9 1927.6 1286.2 1930.7 1284.6 1927.3 1281.7 1931.5 1280.2 1929.8 1277.5 1932.2 1275.5 1929.6 1273.1 1932.8 1271.4 1930.3 1268.7 1933.5 1266.8 1930.3 1263.7 1934.2 1261.9 1931.5 1259.1 1934.8 1257.3 1931.2 1254.2 1935.4 1252.5 1933.8 1250.4 1936 1248 1932.4 1245.4 1936.5 1243.6 1934.7 1241.1 1937 1239.1 1935.5 1236.6 1937.5 1234.6 1936.2 1232.4 1937.9 1230.6 1935.1 1227.9 1938.3 1225.8 1937.1 1223.8 1938.7 1221.8 1935.5 1219.8 1939 1217.9 1936.2 1215.9 1939.3 1214 1936.4 1211.4 1939.6 1209.7 1937.7 1207.6 1939.9 1205.1 1936.6 1202.7 1940.2 1200.4 1936.8 1198.1 1940.4 1196.5 1938.7 1193.9 1940.6 1191.7 1938.2 1189.4 1940.8 1187.6 1937.8 1184.8 1941 1182.6 1939.3 1180.1 1941.2 1178 1938.7 1175.9 1941.3 1174.1 1938.2 1171.5 1941.4 1169.1 1938.4 1167 1941.4 1165.1 1937.9 1162.9 1941.5 1161.2 1938.2 1158.7 1941.5 1156.8 1938.7 1154.8 1941.5 1152.6 1939.2 1150.3 1941.5 1148.2 1939.7 1145.6 1941.4 1143.8 1939.8 1141.3 1941.3 1138.9 1939.5 1137 1941.2 1134.7 1937.1 1133 1941.1 1130.3 1937.6 1128.1 1941 1126.1 1937.5 1124.3 1940.8 1121.8 1937 1119.8 1940.6 1117.1 1936.8 1114.9 1940.3 1112.1 1938.3 1109.9 1940.1 1107.5 1938 1105.1 1939.7 1102.4 1937.5 1100.7 1939.5 1098.3 1936.4 1096.1 1939.1 1093.3 1935.6 1091.4 1938.7 1089.1 1935.9 1087.5 1938.4 1085.4 1934.5 1083.6 1938 1081.1 1935.2 1079.1 1937.6 1076.4 1935.6 1074.8 1937.2 1072.5 1934.7 1070.4 1936.6 1067.7 1933.5 1066 1936.1 1063 1933.6 1061.5 1935.6 1058.9 1933 1057.4 1935.1 1054.8 1931.6 1052.6 1934.4 1049.6 1931.4 1047.8 1933.8 1044.9 1931.4 1043.4 1933.2 1040.8 1931.2 1039 1932.6 1036.7 1929.6 1035 1931.8 1032.2 1928.7 1030.7 1931.2 1028.1 1929.1 1026.2 1930.5 1023.9 1927.2 1022 1929.7 1019.3 1926.7 1017.8 1928.9 1014.7 1926.6 1012.8 1928.1 1010.4 1924.5 1009 1927.3 1006.2 1925 1004.2 1926.5 1002.1 1924.4 1000.1 1925.6 997.6 1922 996.5 1924.9 994.1 1923 992.5 1924 989.9 1921.6 988 1922.9 985.1 1920.1 983.4 1921.9 980.6 1919 978.8 1920.9 976 1918.2 974.6 1919.9 972 1915.6 970.5 1918.9 967.8 1916.6 966.5 1917.8 963.5 1914.3 962 1916.6 958.8 1913.6 957.1 1915.5 954.5 1912.2 953.3 1914.5 950.6 1911.7 949.1 1913.2 946 1910.3 945 1912.3 942.6 1910 941.3 1911.1 938.6 1907.7 936.9 1909.9 934.4 1907 933.1 1908.6 929.9 1905.2 928.2 1907.2 925.3 1904.5 924.2 1906.1 921.7 1901.7 921.1 1905 918.2 1900.7 917.1 1903.5 913.5 1901.3 912.2 1902.3 909.9 1899.8 908.9 1901.2 906.4 1897 905.2 1899.8 902.4 1897 900.7 1898.2 897.7 1893.8 896.7 1896.7 893.2 1893.2 891.9 1895 888.5 1893 887.1 1893.5 884.4 1889.1 884.1 1892.1 880.5 1887.6 879.6 1890.5 876.3 1886.2 875.4 1888.7 871.7 1884.3 871.1 1887.2 867.7 1883.7 866.7 1885.5 863.4 1883 862.4 1884 859.7 1880.9 858.5 1882.3 855.6 1879.7 854.4 1880.5 851.3 1877.2 850 1878.7 847.1 1876.8 846 1877.1 843.3 1873.2 842.2 1875.2 838.9 1872.5 837.2 1873.2 834.4 1869.7 833.7 1871.3 830.2 1868.4 829.2 1869.5 826.2 1866.7 824.7 1867.6 822.1 1863.8 821.9 1865.9 818.5 1863.3 817.3 1863.8 814.2 1861.4 813.3 1862 810.3 1858.6 809.2 1860 806.3 1857.2 804.8 1857.8 801.9 1853.8 801 1855.8 798 1853.1 796.8 1853.9 794.2 1851.4 792.8 1851.8 790.3 1848.8 789.3 1849.8 786.4 1845.9 786.3 1847.7 782.5 1844.1 781.7 1845.7 778.7 1842.8 777.5 1843.5 774.8 1841 773.6 1841.2 770.6 1837.7 770 1839 766.7 1834.9 766.8 1837.1 763.4 1833.2 762.8 1834.7 759.3 1831.4 758.8 1832.7 755.9 1830.7 755 1830.7 752.5 1827.8 752.1 1828.5 748.8 1825.4 748.5 1826.4 745.4 1821.8 745.6 1824.3 742 1821.5 740.7 1821.8 737.9 1817.7 737.8 1816.3 735.8ZM1902.4 1348.3A772 772 0 0 1 1574.8 1802.9L1587 1808.7 1590.8 1809.7 1591.8 1806.9 1595 1806.9 1594.4 1802.5 1598.2 1804.7 1597.6 1800.4 1601.3 1802.6 1602.2 1799.9 1605 1800.1 1606.2 1797.3 1608.6 1797.5 1608.7 1793.8 1612 1795.1 1612.1 1790.9 1615.9 1792.3 1617 1789.8 1619.7 1789.5 1619.7 1786 1622.9 1787.2 1624.2 1784.5 1626.6 1784.4 1626 1780.6 1629.7 1782.1 1630.8 1779.3 1633.7 1779 1634 1776.4 1637 1776.5 1638.1 1774 1640.3 1773.9 1640.6 1771.2 1643.8 1771.1 1643.6 1767.1 1647.5 1768.2 1647 1763.8 1651 1765.4 1650.1 1761.3 1654.2 1762.8 1653.5 1758.9 1657.1 1760.4 1656.3 1755.7 1660.8 1757.3 1659.7 1753 1664.2 1754.4 1664.7 1752 1667.6 1751.5 1667.1 1747 1671.2 1748.4 1671.6 1746.1 1674.5 1745.5 1674.3 1741.9 1677.7 1742.6 1677.8 1738.9 1681.3 1739.4 1680.4 1735.6 1684.1 1736.9 1684.1 1733.5 1687.2 1734.1 1686.8 1729.9 1690.7 1730.9 1689.8 1727.2 1693.9 1727.9 1692.9 1723.8 1697 1725 1697.4 1722.4 1699.8 1722.3 1698.9 1717.6 1703.5 1718.7 1702.7 1714.5 1706.8 1715.5 1705.8 1711.7 1709.6 1712.7 1710.1 1710.3 1712.9 1709.4 1712 1704.8 1716.1 1706.1 1715.1 1701.5 1719.6 1702.5 1720 1700.1 1722.2 1699.8 1721.7 1695.9 1725.3 1696.7 1725.2 1694.2 1728 1693.8 1727.2 1690.4 1731.1 1690.5 1730.6 1687.3 1733.7 1687.7 1733.5 1684.9 1736.6 1684.5 1735 1680.4 1739.1 1681.7 1738.6 1678.2 1742 1678.5 1741.5 1675.4 1744.9 1675.2 1744.7 1671.7 1747.8 1671.9 1747.4 1669.2 1750.4 1668.9 1748.9 1664.5 1753.5 1665.2 1753.6 1662.5 1756.5 1661.7 1754.8 1657.4 1759.6 1658.1 1759.7 1655.3 1762.2 1654.8 1762.1 1652.2 1764.8 1651.7 1763.6 1648.3 1767.4 1648.5 1766.5 1645.5 1769.9 1645.4 1768.3 1641.3 1772.7 1641.8 1773 1638.8 1775.5 1638.2 1774.6 1634.5 1778.5 1634.4 1778.3 1632 1781.2 1630.9 1780.4 1627.6 1783.8 1627.4 1781.9 1623.2 1786.7 1623.5 1785 1619.8 1789 1620.4 1788.7 1617.8 1791.2 1617.4 1790.6 1614.6 1793.4 1614.3 1792.5 1611.5 1795.8 1611 1795.4 1608 1798.2 1607.7 1797.9 1604.4 1800.6 1604.1 1799.5 1601.1 1803 1600.8 1801 1597 1805.3 1597.4 1804.3 1594.4 1807.8 1593.7 1806.7 1590.8 1810.2 1590.1 1809.7 1587.6 1812.6 1586.4 1811.3 1583 1815.2 1582.5 1813.8 1579 1817.8 1578.5 1816.4 1574.7 1820.1 1574.7 1818.8 1571.5 1822.6 1570.8 1822.6 1567.8 1825.2 1566.5 1823.2 1562.4 1827.7 1562.5 1827.8 1559.5 1830.1 1558.6 1829.2 1555.6 1832.2 1554.9 1830 1551 1834.4 1551.2 1832 1547.2 1836.5 1547.6 1836.1 1544.4 1839.1 1543.1 1838.6 1540.2 1841.5 1538.9 1839.2 1534.7 1843.8 1534.6 1842.9 1531.8 1845.7 1531.1 1845.5 1528.4 1847.9 1527.1 1846.5 1524.1 1849.9 1523.5 1848.2 1519.6 1852 1519.4 1849.8 1515.5 1854.1 1515.3 1853 1511.7 1856.2 1511.2 1854.9 1508 1858.1 1507.5 1855.6 1504.2 1859.8 1504 1857.8 1500.7 1861.6 1500.4 1860.1 1497.6 1863.5 1496.4 1862.3 1493.3 1865.5 1492.3 1864.4 1489.6 1867.3 1488.5 1866.1 1485.5 1869.1 1484.5 1866.9 1481.3 1870.8 1480.9 1869 1477.6 1872.7 1476.8 1870.5 1473.9 1874.4 1472.9 1872.9 1470 1876.1 1469.1 1875.7 1466.7 1877.7 1465.4 1875.3 1461.7 1879.4 1461.4 1877.7 1458 1881 1457.4 1879.2 1454.4 1882.8 1453.2 1880.2 1450.2 1884.4 1449.1 1881.9 1445.5 1886.1 1444.9 1884.8 1442.2 1887.7 1440.9 1886.9 1437.9 1889.4 1436.5 1888.4 1433.5 1891.1 1431.9 1890.1 1429.2 1892.7 1427.6 1890.1 1423.9 1894.5 1422.9 1893.2 1420.5 1895.9 1419 1895.3 1416.5 1897.3 1414.8 1896.2 1412.2 1898.9 1410.4 1896.7 1407.3 1900.3 1406.2 1899 1403.5 1901.6 1402.2 1899.9 1399.4 1902.9 1398.2 1901.8 1395.7 1904.3 1393.9 1902.3 1390.9 1905.6 1389.9 1902.7 1386.9 1906.9 1385.8 1903.8 1382.5 1908.3 1381.2 1907.2 1378.7 1909.6 1376.8 1906.9 1373.3 1910.9 1372.3 1907.7 1368.7 1912.1 1368.1 1910.1 1365.2 1913.4 1363.4 1911.5 1360.4 1911.2 1357.9ZM1565.1 1809A772 772 0 0 1 1166 1926.9L1173.3 1938.6 1175.6 1941.2 1177.9 1938.2 1180 1941.1 1182.2 1937.9 1184.9 1940.9 1187.2 1938.2 1189.1 1940.8 1191.1 1937.7 1193.5 1940.6 1195.7 1938.8 1198.4 1940.3 1200.4 1937.3 1202.9 1940 1205.3 1936.7 1207.7 1939.7 1209.9 1935.9 1212.2 1939.4 1214.7 1937.4 1217.1 1939 1218.8 1937.3 1221.3 1938.7 1223.6 1937.2 1226.3 1938.3 1228.1 1934.4 1230.4 1937.9 1232.4 1935 1234.6 1937.5 1236.2 1934.9 1238.8 1937 1240.7 1935.5 1243.1 1936.5 1244.6 1933.4 1247.4 1936.1 1249.1 1933.7 1251.1 1935.6 1252.9 1933.6 1255.4 1935.1 1257.3 1931.2 1259.9 1934.5 1261.7 1930.8 1264.5 1933.8 1266.5 1932.2 1268.9 1933.2 1270.5 1929.2 1272.9 1932.6 1274.7 1928.5 1277.1 1932 1278.6 1929.1 1281.5 1931.3 1283.5 1929.1 1285.6 1930.6 1287 1928.4 1289.3 1929.9 1291.1 1926.5 1293.6 1929.2 1294.8 1925.1 1298 1928.4 1299.7 1924.9 1302.4 1927.6 1303.7 1923.3 1307 1926.7 1308.9 1924.8 1311.3 1925.8 1312.9 1922 1315.3 1925 1317.5 1922.8 1319.9 1924 1322 1921.7 1324.4 1923.1 1326.3 1921.2 1328.7 1922.1 1330.5 1918.2 1333.3 1921 1334.9 1917.1 1337.6 1920 1339.5 1916.7 1342.5 1918.8 1343.5 1914.8 1346.4 1917.8 1348 1916 1350.3 1916.9 1351.5 1912.7 1354.6 1915.7 1355.9 1912.3 1358.4 1914.7 1359.7 1912.5 1362.2 1913.7 1363.2 1909.8 1366.1 1912.7 1366.9 1908.3 1370.2 1911.5 1371.2 1907.4 1374.5 1910.3 1375.3 1906.5 1378.7 1909 1379.6 1905.8 1382.9 1907.8 1384.2 1903.6 1387.2 1906.4 1388.6 1902.8 1392 1904.9 1393.4 1903 1395.9 1903.7 1396.9 1900.4 1399.6 1902.5 1400.8 1898.6 1404.3 1900.9 1405.5 1897.3 1408.3 1899.6 1409.4 1895.5 1412.9 1898 1413.8 1894.9 1416.8 1896.7 1418 1894.2 1420.7 1895.3 1422 1892.1 1424.8 1893.8 1425.4 1889.4 1428.5 1892.4 1429.8 1888.5 1433.1 1890.7 1433.9 1887.7 1436.8 1889.3 1437.7 1885.4 1440.5 1887.8 1441.2 1883.9 1444.2 1886.4 1445.2 1882.4 1448.4 1884.7 1450 1882 1453.1 1882.8 1454 1878.4 1457.3 1881.1 1458.1 1878.4 1461.1 1879.5 1461.9 1876 1465.2 1877.8 1466 1873.7 1469.7 1875.8 1470.6 1872.8 1473.3 1874.2 1474.4 1872 1477.2 1872.5 1477.8 1867.8 1481 1870.7 1481.3 1866.7 1484.6 1869.1 1484.8 1864.6 1488.4 1867.4 1488.9 1863.1 1492.7 1865.3 1493.9 1862.4 1496.6 1863.5 1497.6 1860.6 1500.4 1861.6 1501.2 1859.3 1504.2 1859.8 1504.2 1855.3 1508.2 1857.7 1508.5 1853.2 1512 1855.8 1512.8 1853.3 1515.4 1854.1 1516.8 1851.1 1519.3 1852 1520 1848.3 1523.6 1849.8 1524.2 1845.7 1527.4 1847.7 1528.3 1844 1532 1845.3 1533.1 1842.4 1536.2 1842.9 1536.9 1839.3 1539.8 1840.9 1540.5 1837.2 1543.8 1838.7 1544.2 1834.1 1548.2 1836.2 1548.7 1833.4 1551.9 1834 1552.3 1830.8 1555.9 1831.7 1556.5 1828.3 1559.6 1829.5 1559.5 1825.9 1562.9 1827.4 1562.9 1823.7 1566.2 1825.4 1564.9 1822.1ZM1156.8 1927A772 772 0 0 1 764.6 1821L764.5 1835.2 765.1 1838.1 768.2 1836.7 768.7 1840.1 772.5 1838.7 772.8 1842.4 776.8 1840.4 777 1844.7 779.6 1844.1 780.7 1846.7 784.6 1844.7 785 1849 788.3 1847.6 789.1 1851.2 793.1 1849 793.1 1853.3 796.6 1851.1 796.6 1855.1 800 1852.8 800.5 1857.1 804.1 1854.7 804.3 1859 807.6 1857.2 807.9 1860.8 811.4 1857.9 812 1862.7 815.8 1860.3 816.3 1864.8 819.8 1863.7 820.4 1866.8 823.6 1865.1 824.1 1868.5 827.8 1865.7 828.5 1870.5 831.6 1869.3 832.9 1872.5 836.5 1870.4 836.9 1874.3 840.2 1871.4 840.9 1876 844.5 1874 844.9 1877.8 847.7 1877.1 849.4 1879.7 851.9 1878.7 853.5 1881.4 857 1879.4 857.5 1883.1 861 1881 861.8 1884.8 865 1882.8 866.2 1886.5 869.5 1883.6 870.1 1888.1 872.9 1887.2 874.5 1889.8 877.4 1889.3 879 1891.5 882.3 1888.8 882.9 1892.9 886.4 1890.1 887.3 1894.5 890.1 1892.5 891.6 1896.1 894.6 1892.9 895.3 1897.4 897.8 1896.1 898.8 1898.6 901.7 1897.8 903.5 1900.2 906.6 1897.8 907.8 1901.6 910.8 1899.5 911.8 1903 914.6 1901.5 916.2 1904.4 919.8 1901.7 920.6 1905.8 923.4 1904 924.7 1907 927.6 1903.9 928.5 1908.2 930.9 1907.5 933 1909.5 935.8 1908.9 937.9 1911 940.7 1909.8 941.9 1912.1 944.8 1910.4 946.1 1913.3 948.7 1912.5 950.4 1914.4 953.5 1911.9 954.7 1915.6 958.2 1912.3 959 1916.7 962 1914.5 963.1 1917.7 966.1 1915.3 967.6 1918.8 970.3 1916.8 971.8 1919.9 974.8 1916.7 975.8 1920.8 978.8 1918.9 980.1 1921.8 983.3 1919 984.3 1922.8 987.2 1919.9 988.6 1923.7 991.6 1920.8 993.1 1924.6 995.4 1922.4 997.1 1925.5 999.5 1923 1000.7 1926.2 1003.2 1925 1005 1927.1 1007.8 1925.6 1009.2 1927.9 1012.2 1926.3 1013.6 1928.7 1016.6 1926.2 1018 1929.5 1021 1927.4 1023 1930.3 1025.1 1928.7 1026.6 1930.9 1029 1928.2 1030.3 1931.6 1033.1 1928.4 1034.6 1932.2 1037.4 1929.7 1039.4 1933 1042 1931.7 1044 1933.6 1046.7 1932.3 1048.4 1934.2 1051.2 1931.5 1053.2 1934.9 1055.8 1933.4 1057.4 1935.4 1059.7 1933.7 1062.1 1936 1064.9 1932.3 1066.7 1936.5 1068.9 1934.2 1071 1937 1073 1935.7 1075.2 1937.4 1077.6 1934.1 1079.4 1937.9 1082.1 1935.6 1083.7 1938.3 1085.8 1934.6 1087.9 1938.6 1090.1 1936.3 1091.9 1939 1094.5 1936.1 1096.1 1939.3 1098.8 1936.9 1101 1939.6 1103.6 1938.4 1105.3 1939.9 1107.5 1936.4 1109.5 1940.2 1112.1 1938.5 1113.8 1940.4 1115.9 1938.7 1118.1 1940.6 1120.3 1938 1122.1 1940.8 1124.8 1937.9 1127.2 1941 1129.6 1937.2 1131.5 1941.1 1133.5 1939.6 1135.8 1941.3 1137.6 1937.7 1139.6 1941.3 1141.9 1938.9 1143.9 1941.4 1146 1937.4 1148.3 1941.5 1149.7 1938ZM755.7 1815.7A772 772 0 0 1 539 1620.3L535 1632.3 533.1 1636.5 537.8 1636.1 535.9 1640 540 1639.8 538.6 1643.5 542.6 1643.1 541.4 1647 543.9 1647.8 544.4 1650.8 547.5 1650.5 547.1 1654 550.2 1654.8 550.2 1657.8 554 1657.6 553 1661.1 555.8 1661.9 556.2 1665 560.2 1664.6 559.4 1668.6 563 1668.7 562.5 1672.2 565.7 1672.1 565.2 1675.3 568.8 1674.6 567.8 1678.2 571.6 1678.4 570.9 1681.7 574.8 1680.9 573.7 1684.7 577.9 1683.4 576.6 1688 580.2 1687.6 579.7 1691.2 583.7 1690.3 582.3 1694.1 586 1693.3 585.3 1697.3 588 1697.9 588.3 1700.4 591.9 1700.5 591.4 1703.6 594.5 1703.2 594.6 1706.8 597.4 1706.9 597.5 1709.8 602.1 1708.8 600.9 1713.2 605 1712.6 604.1 1716.3 607.9 1715 606.8 1719 611 1718.1 610.1 1722.1 613.1 1721.7 613.3 1725.2 617.4 1724.2 616.7 1728.5 620.3 1728.5 620 1731.5 622.9 1732 623.3 1734.6 627.1 1733.2 626.4 1737.3 629.8 1737.3 630.2 1740.8 633.7 1739.7 633.4 1743.7 637.1 1743 637 1746.8 641.1 1745.2 640.1 1749.5 643 1748.9 643 1752.1 646.3 1751.6 646.2 1754.8 650.5 1753.1 649.9 1757.8 652.4 1758.3 653 1760.4 656.1 1760.3 656.4 1763.2 660.1 1761.6 659.2 1765.6 663.6 1764.1 663.1 1768.7 666.4 1768 666.5 1771.4 669.7 1771 670.1 1774.2 673 1773.9 673.3 1776.7 676.4 1776.6 677.1 1779.7 679.9 1779.4 680.8 1782.5 684.6 1781.1 684.3 1785.1 688.6 1783.7 687.9 1787.7 690.9 1787.2 691.6 1790.5 694 1790.6 694.9 1792.8 699.1 1791.1 698.3 1795.3 702.1 1793.2 701.6 1797.7 705.5 1796 705.6 1800.5 709.4 1798.6 708.9 1802.7 711.7 1802.8 712.4 1805.2 715 1804.6 715.6 1807.3 719.2 1806.5 719.7 1810 722.4 1809.6 723.2 1812.4 725.8 1812.2 726.5 1814.5 730.6 1812.5 730.5 1817.1 733.2 1816.8 733.8 1819.2 737.3 1817.9 737.9 1821.8 741.3 1821.2 741.7 1824.2 743.9 1821.4ZM532.7 1611.8A772 772 0 0 1 414.6 1373.8L406 1383.7 403.4 1386.7 407.4 1387.6 404.7 1390.9 408.5 1392.2 406.2 1395.7 409.2 1396.8 407.4 1399.4 409.8 1401.2 408.8 1403.6 411.3 1405.4 410.3 1407.9 413.5 1408.9 411.7 1412.2 414.4 1413.3 413.1 1416.2 416.2 1417.4 414.7 1420.6 416.9 1421.9 416.1 1424.4 418.5 1426.1 417.6 1428.5 419.7 1430.4 419.2 1432.8 423.4 1433.1 420.7 1436.9 422.8 1438 422.1 1440.3 426.5 1441.2 423.7 1444.3 428.1 1445.1 425.3 1448.4 428.2 1450 427.2 1453.2 431.9 1454.1 429 1457.4 431.9 1458.9 430.6 1461.4 434.7 1462 432.3 1465.4 436.8 1465.5 434.1 1469.5 436.4 1470.7 435.7 1473.1 440 1473.6 437.4 1477 440.2 1477.9 439 1480.5 442.5 1481.6 440.8 1484.4 444.1 1485.1 442.8 1488.6 446.8 1489 444.8 1492.8 447.7 1494.3 446.7 1496.9 450.6 1497.2 448.4 1500.3 451.6 1500.7 450.1 1503.8 453.9 1504.5 451.9 1507.4 455 1508.5 454 1511.6 456.9 1512.6 456.2 1515.9 459.2 1517.2 458.3 1520 461.9 1520.5 460.5 1524.1 464.2 1524.6 462.5 1527.9 464.6 1528.9 464.2 1531.1 466.7 1532.4 466.3 1534.9 470.1 1535.4 468.4 1538.6 472.6 1538.4 470.6 1542.5 473.1 1543.8 472.7 1546.2 476.6 1546.6 475 1550.2 478.9 1550.6 477.5 1554.4 480.1 1554.9 479.7 1558.1 482.9 1558.8 482.2 1562.3 485.2 1562.8 484.5 1566 487.3 1566.7 486.7 1569.6 489.9 1570.2 489.1 1573.5 492.2 1574 491.4 1577.1 494.4 1577.5 493.5 1580.5 497.2 1581.1 496.2 1584.6 499.7 1585 498.5 1588.1 500.8 1588.9 500.8 1591.6 504.2 1591.9 503.4 1595.5 507.5 1595.1 505.9 1599.2 509 1599.6 508.6 1603 511.4 1604.1 511.1 1606.6 513.7 1607.3 513.7 1610.3 517.8 1609.7 515.9 1613.5 519.6 1612.6ZM411.9 1364.2A772 772 0 0 1 384.6 1105.6L372.8 1112 369.6 1114.2 372.3 1116.6 369.4 1118.3 370.6 1120.5 369.2 1122.8 371.8 1125.1 369 1127.4 372.6 1130 368.8 1132.2 371.4 1134.4 368.7 1136.3 371.8 1138.4 368.6 1140.5 372.1 1142.3 368.6 1144.5 372.1 1146.4 368.5 1148.7 371.7 1150.7 368.5 1152.7 372.3 1155.2 368.5 1157.5 372.1 1160 368.5 1162.2 370.9 1164.6 368.6 1166.7 371.5 1168.5 368.7 1170.6 372 1172.9 368.8 1175.1 370.6 1177.4 368.9 1179.5 371.4 1181.6 369 1184.2 370.5 1186.1 369.2 1188.5 371.5 1190.5 369.4 1192.7 371.5 1194.4 369.6 1196.6 372.4 1198.7 369.9 1201.4 374 1203.5 370.2 1206.1 373.1 1208.1 370.5 1210.7 373.4 1212.7 370.8 1215.4 373.7 1217.3 371.2 1219.8 373.6 1222.1 371.6 1224.6 375.8 1226.4 372 1229.1 374.2 1231.2 372.5 1233.8 376.1 1235.3 372.8 1237.5 376.9 1239.5 373.3 1241.8 376.1 1243.9 373.8 1246 376.2 1248.1 374.3 1250.5 376.7 1252 374.8 1254.4 376.4 1256.5 375.4 1259.1 379.4 1261.1 376 1263.7 380.4 1265.3 376.7 1268.5 380.4 1270 377.3 1272.5 379.3 1274.2 378 1276.7 381.2 1278.4 378.6 1280.6 380.6 1282.4 379.3 1285.1 383.1 1287 380.1 1289.5 383 1290.8 380.8 1293.3 383.8 1295 381.6 1297.7 383.8 1299.4 382.3 1301.7 385.3 1303.7 383.1 1306 386.1 1307.5 383.9 1310.1 387.5 1311.6 384.8 1314.2 388.5 1316 385.8 1319 388.7 1320.9 386.8 1323.5 390.1 1325.4 387.9 1328.5 391.1 1329.6 388.8 1332.6 390.9 1333.9 389.6 1336.1 393.7 1337.5 390.8 1340.8 393.1 1342.6 391.8 1345.2 394.6 1346.9 392.9 1349.4 395.1 1350.9 393.9 1353.1 397.9 1354.7 395 1357.4 397.3 1358.7 399.4 1360.3ZM385.3 1095A772 772 0 0 1 448 844.9L434.6 846.8 431 847.8 431.6 850.3 429.3 851.8 432.2 855.1 427.6 855.8 428.6 858.1 426.2 859.3 427.7 862.1 424.7 863.1 427.3 866.5 422.9 867.5 423.8 870.1 421.5 871.2 421.9 874 419.8 875.5 422 878.2 418.4 879.3 420.1 882.1 417.1 882.9 418.2 885.7 415.6 887 418.3 890.5 413.9 891.5 414.7 893.8 412.4 895.8 414.1 899.1 410.9 900.2 412.2 902.8 409.6 904.2 412.4 907.9 408.1 908.7 409.6 911.9 406.6 913.3 409.5 916.1 405.4 916.9 406.3 919.9 404 921.2 407.1 924.9 402.6 925.9 404.9 929.3 401.1 930.9 404.2 934.2 399.9 935.1 402.5 938.1 398.6 939.5 399.9 941.9 397.5 943.3 399.5 945.7 396.6 946.8 397.8 949.5 395.4 951.2 398.7 954.3 394.2 955.4 396 957.8 393.3 959.1 395.8 962 392.2 963.3 395.2 966.4 391.2 967.4 393.7 970.7 390 972.4 392.1 975.5 389 976.7 390.2 978.9 388.1 980.3 390.2 983 387.3 984.3 390.3 987.2 386.3 988.6 388.8 991.4 385.4 992.6 388.5 995.4 384.6 996.6 385.9 998.8 383.8 1000.6 387.3 1003.9 382.8 1005.7 384.2 1008.2 382 1010.1 384.9 1013 381.1 1014.8 384.1 1017.3 380.4 1018.4 382.7 1021 379.7 1022.5 383.1 1025.6 378.9 1027.2 381 1029.6 378.2 1031.6 381.7 1034.6 377.6 1035.9 378.6 1038.4 377 1040 378.8 1042.6 376.3 1044.7 377.8 1047 375.7 1048.9 379.4 1052 375 1054 377.7 1056.5 374.5 1058 376.3 1060.2 374 1062.3 376.9 1064.5 373.5 1066 376.8 1068.4 373.1 1070 374.1 1072.8 372.6 1075.1 375 1077.5 372.1 1079.7 373.9 1082.4 371.7 1084.6 373.8 1086.7 375 1087ZM452.1 835.8A772 772 0 0 1 535.3 694.6L521 692.8 518.3 693.2 519.5 697 515.8 696.7 516.1 700.1 512.9 700.8 513.3 703.4 510.3 704.5 510.5 707.7 507.5 708.6 508.1 712 504.8 712.4 505 715.5 502 716.6 502.1 719 499.7 720.1 501.4 724.4 496.8 724.5 498.3 728.4 494.1 728.6 496 732.2 491.9 732.1 493.1 735.2 489.4 735.9 490 739.1 487.1 739.7 487.4 742.8 484.5 743.8 484.7 747 482.1 747.9 483.1 750.6 479.8 751.6 480.9 754.6 477.5 755.5 479.8 759.7 475.2 759.5 477.5 763 473 763.2 474.1 766.3 470.9 767 472.9 770.5 468.9 770.6 469.7 773.9 466.7 774.5 468.7 777.7 464.6 778.2 465.6 781.2 462.4 782.3 463.5 785 460.7 785.5 462.7 789.4 458.6 789.5 460.1 793.2 456.5 793.5 457.4 796.9 454.2 798.1 455.6 801.2 452 802.3 452.2 804.9 450.2 806 452.3 809.8 448.1 810.2 450.6 813.4 446.2 814.2 446.9 816.9 444.4 817.9 447 821.4 442.6 821.8 445 824.8ZM541.8 686A772 772 0 0 1 618 600.4L604.6 596.9 601.3 596.5 600.6 599.4 597.8 599.9 598.2 602.9 595 602.8 595.4 606.8 591.5 606.3 592.1 610.1 588.3 609.6 587.8 612.4 585.2 612.9 584.8 615.3 582.5 615.7 582.4 619 579.3 619.2 579.3 622.1 576.1 622.6 575.9 625.8 573.2 625.7 574.6 629.7 570.1 629.2 571.2 633.5 566.9 632.8 568.4 637.1 564 636.1 564.1 639.4 561.1 639.4 562 643.4 558 642.9 557.7 645.5 555.1 646.3 555.2 649.7 552.2 649.8 552.1 653.2 549 653.7 550.5 657.5 546.3 657 546.1 660.1 543.4 660.5 544.3 663.6 540.6 664 541 666.7 538.2 667 540.1 671 535.7 670.1 537.4 673.7ZM625.6 593.1A772 772 0 0 1 709.6 524.5L696.2 517.9 693.3 518.3 693.6 522.1 689.6 521 690 524.7 686.3 523.4 686.8 527.2 683.1 525.8 682.3 528.2 679.9 528.2 679.3 530.7 676.6 530.7 676 534.1 672.7 533.8 673.3 537.9 669.2 536.5 669 539.8 665.6 539.3 665.8 543.4 662.1 542.1 661.7 545.8 658.5 545 658.8 549.1 654.8 548 654.6 550.6 651.7 550.6 651 553.1 648.6 553.2 649.6 557.5 645.3 556 644.9 559.2 641.9 558.9 642.5 563.4 638.5 561.9 637.6 564.5 635 565 634.5 568 631.6 567.9 631 571.2 628.2 571 627.8 573.8 625.1 573.8 624.8 576.4 622 576.7 623.3 580.2ZM717.7 518.8A772 772 0 0 1 795.2 472L783.2 464.5 779.9 463.7 779.7 467.4 776.6 465.5 776.1 468.9 772.6 467.7 771.7 471.1 768.7 469.9 768.3 473.9 764.5 472.3 763.2 475 760.7 474.5 759.7 477.4 756.8 476.8 755.4 479.4 752.5 479.3 751.5 482.5 748.2 481.9 747.7 484.7 744.6 484.1 744.3 488.1 741 486.3 740 489 737.4 488.5 737.6 492.5 734.2 490.6 732.9 493 730.1 493.1 729.5 496.1 726.8 495.3 726.5 499.3 723.2 497.6 723.4 502 719.6 500 719.7 503.4 716.3 502.2 717.4 505.7ZM804.8 467A772 772 0 0 1 879.1 434L868.7 426.7 865 423.9 864.5 427.8 861.1 425.5 860.4 429.2 857.1 427.1 856 429.6 853.5 428.6 851.9 431.3 849.1 430.4 848.2 432.9 845.8 431.8 844.9 435.4 842.1 433.4 840.8 436.3 837.9 435.3 837 438.6 833.9 437.1 832.7 439.4 829.7 438.9 828 441.3 825.5 440.8 824.8 445.5 821.2 442.9 820.7 446.2 817.3 444.7 816.4 448.3 813.3 446.6 812.9 450.1 809.8 448.3 808.9 451 806 450.2 806.1 454ZM888.3 430.5A772 772 0 0 1 958.2 408.5L948.5 399.8 945.3 397 944.3 400.7 941.3 398.1 939.3 400.1 936.6 399.4 934.6 401.6 931.8 400.8 930.7 405.3 927.7 402.1 926.5 404.2 923.7 403.3 922.5 407.2 919.5 404.6 918.4 407.4 915.2 406 914.4 410.4 911.4 407.2 909.9 409.3 907.1 408.6 906.2 412.9 903.3 409.9 902.1 412.3 899.4 411.2 897.4 413.5 894.6 412.9 893.1 415.3 890.7 414.2 891.2 417.8ZM967.6 406.1A772 772 0 0 1 1030.5 393.1L1021.6 382.5 1018.9 380.4 1017.6 384 1015.3 381 1013.1 383.5 1010.2 381.9 1008.2 385.3 1005.3 382.9 1003.5 385.1 1000.7 383.8 999.7 388.1 997 384.5 995.4 388 993 385.4 991 387.7 988.4 386.3 987 388.3 984.5 387.2 983.4 390.7 980.5 388.1 978.6 391.4 975.7 389.2 974.6 393 971.3 390.2 971.8 393.7ZM1039.8 391.6A772 772 0 0 1 1090.5 385.7L1082.6 375.7 1080 372.1 1078.4 375.8 1075.9 372.5 1073.9 375 1071.3 373 1069.6 377.1 1066.8 373.5 1065.3 376.4 1062.9 373.9 1060.8 376.3 1058.6 374.4 1056.5 376.9 1054.1 375 1052.4 376.8 1049.9 375.5 1048.6 379.2 1045.5 376.2 1045.2 379.7ZM1099.9 385A772 772 0 0 1 1139.1 383.2L1131.7 371.8 1129.2 368.9 1126.8 371.3 1124.3 369.1 1122.7 373 1119.9 369.3 1117.6 373.4 1115.6 369.5 1113.7 371.1 1111.7 369.7 1109.4 371.3 1107 370 1106.2 373.5Z" fill="#00FFFF"/><path d="M1632.9 548.7L1644.5 558L1648.1 541.7Z" fill="#00FFFF"/><path d="M1814.1 754.1L1830.8 753.6M1408.7 426.4L1421.2 415.5M1481 455.8L1494.6 446.2M1516 473.2L1530 464.2M1566.1 502.2L1580.8 494.3M1667.2 578.1L1683 572.7M1845.4 810.8L1862.1 811.7M1855.4 831.4L1871.9 832.8M1866.2 856L1882.7 858M1912.3 1007.8L1928.1 1013.1M1923.2 1083.7L1938.4 1090.6M1923.3 1224.9L1937 1234.4M1897 1366.4L1908.6 1378.2M1884.9 1404.9L1895.9 1417.4M1869.8 1445.3L1880.1 1458.3M1833 1523.1L1841.8 1537.3M1801.3 1576.3L1808.9 1591.1M1662.2 1736.4L1665.5 1752.7M1607.8 1779.6L1609.6 1796.2M1238.3 1922L1231.7 1937.2M1099.8 1924.5L1090.6 1938.4M1058.3 1920.4L1048.3 1933.7M926.9 1892L914.7 1903.4M824.1 1851.9L810.4 1861.5M819.2 1849.6L805.5 1859M712.5 1787L697.5 1794.1M666.3 1752L650.8 1758M471.3 1512.4L454.7 1511.8M384.7 1198.1L369.8 1190.7M432.8 883.6L422.2 870.8M468.2 803.5L459.1 789.6M499.3 748.5L491.4 733.8M721.4 516.9L720 500.3M974.9 404.8L979.5 388.8M1053.6 390.2L1059.9 374.8" stroke="#0000FF" stroke-width="1.7" fill="none"/><path d="M1810.7 748.5L1827.1 747.5" stroke="#FF6A6A" stroke-width="1.8" fill="none"/><path d="M546.2 681.1L539 666.8" stroke="#A020F0" stroke-width="2.6" fill="none"/><path d="M696.9 533.6L710 524.2L695.5 517.9Z" fill="#0000FF"/><path d="M781.7 479.3L795.9 471.6L782.4 463.5Z" fill="#A020F0"/><path d="M1637.9 637.2L1662.4 610.9" stroke="#BF5B17" stroke-width="4.6" fill="none"/><path d="M1814.6 1412.2L1848.2 1425.3" stroke="#BF5B17" stroke-width="6" fill="none"/><path d="M492.7 904.7L459 892" stroke="#BF5B17" stroke-width="3.2" fill="none"/><path d="M700.4 612.2L677.3 584.6" stroke="#BF5B17" stroke-width="2.6" fill="none"/><path d="M1832.1 1362L1866.5 1372.5" stroke="#386CB0" stroke-width="5.2" fill="none"/><path d="M1220.4 1860L1223.7 1895.8" stroke="#F0027F" stroke-width="3.8" fill="none"/><defs><clipPath id="gco"><path fill-rule="evenodd" d="M0 0H2310V2400H0Z M1155 1155 m-557.2 0a557.2 557.2 0 1 0 1114.4 0a557.2 557.2 0 1 0 -1114.4 0Z"/></clipPath><clipPath id="gci"><circle cx="1155" cy="1155" r="557.8"/></clipPath><clipPath id="gcb"><path fill-rule="evenodd" d="M0 0H2310V2400H0Z M1155 1155 m-558.6 0a558.6 558.6 0 1 0 1117.2 0a558.6 558.6 0 1 0 -1117.2 0Z M1155 1155 m-557 0a557 557 0 1 0 1114 0a557 557 0 1 0 -1114 0Z"/></clipPath><clipPath id="sko"><path fill-rule="evenodd" d="M0 0H2310V2400H0Z M1155 1155 m-347.2 0a347.2 347.2 0 1 0 694.4 0a347.2 347.2 0 1 0 -694.4 0Z"/></clipPath><clipPath id="ski"><circle cx="1155" cy="1155" r="347.8"/></clipPath><clipPath id="skb"><path fill-rule="evenodd" d="M0 0H2310V2400H0Z M1155 1155 m-348.6 0a348.6 348.6 0 1 0 697.2 0a348.6 348.6 0 1 0 -697.2 0Z M1155 1155 m-347 0a347 347 0 1 0 694 0a347 347 0 1 0 -694 0Z"/></clipPath><path id="gcp" d="M1155 597.2L1155 575.2 1156.9 575.2 1156.9 574.3 1159 574.3 1159 566.3 1161.3 566.4 1160.5 646.1 1163.2 646.1 1163.4 629.8 1165.2 629.8 1166 588 1167.5 588.1 1167.9 567.9 1169.8 567.9 1169.8 569.9 1171.8 569.9 1172.2 557 1175.2 557.1 1174.9 565.6 1177.3 565.7 1176.6 586.3 1179.1 586.4 1178.4 603 1181.1 603.1 1181.1 603.8 1183.1 603.9 1184.5 576 1187.5 576.1 1187.6 574.6 1190.1 574.7 1189 592.3 1191.3 592.5 1191.6 588.2 1193.4 588.3 1191 622.7 1192.1 622.8 1191.4 632.2 1193.4 632.4 1195.1 609.8 1197.5 610 1199.6 583 1201.2 583.1 1201 585.8 1203.7 586 1203.2 592.6 1204.6 592.8 1204.5 593.9 1206 594 1207.6 577.1 1209 577.3 1207.7 591.4 1209.6 591.6 1210.4 583.3 1211.9 583.5 1211.2 590.3 1213.4 590.6 1213.1 593.4 1214.3 593.5 1214.3 593.3 1216.5 593.6 1214.3 613.7 1216.4 613.9 1218.4 596.8 1220.5 597 1221.7 586.8 1224.5 587.1 1223.4 595.8 1224.8 596 1226.9 578.8 1229.3 579.1 1229 581.1 1231 581.4 1230.3 586.3 1231.6 586.5 1231.9 583.9 1234.3 584.3 1234.4 584.1 1236.1 584.3 1236.5 581.6 1238.3 581.9 1237.1 590.6 1239.3 590.9 1239.8 587.5 1241 587.7 1240.3 592.3 1242.7 592.7 1244.1 583.3 1246 583.6 1240.1 621.1 1241.2 621.3 1241.7 618 1243.9 618.4 1245.3 609.9 1246.8 610.2 1246.9 609.7 1248.3 610 1245.6 625.5 1247.4 625.8 1248.6 618.6 1250 618.9 1254.1 595.8 1256.7 596.3 1256.9 595 1258.3 595.2 1260.3 584.3 1262.7 584.7 1260.4 596.6 1262.3 596.9 1262.5 595.9 1264.6 596.4 1257.1 635.1 1258.8 635.4 1267 594.3 1269.3 594.8 1261.1 634.9 1263.1 635.3 1269.1 606.3 1270.4 606.6 1272.5 596.4 1274.7 596.9 1273.4 602.8 1275.7 603.3 1276.4 600.1 1277.5 600.4 1277.1 601.9 1278.7 602.3 1280.5 594.2 1282.7 594.7 1280.4 604.8 1283 605.4 1283.7 602.3 1285 602.6 1285.7 599.5 1287.4 599.9 1287.1 601.3 1289.8 601.9 1291.6 594.5 1294 595 1282.7 640.5 1284 640.9 1284.3 639.6 1286.2 640.1 1289.2 628.3 1291.6 628.9 1303.5 583 1305.5 583.5 1295.6 621 1297.9 621.6 1298.1 621.2 1299.3 621.5 1296 633.7 1298.4 634.3 1301.2 624.3 1303.8 625 1300.5 636.7 1302 637.1 1302.4 635.4 1304.8 636.1 1302.1 645.4 1304.4 646.1 1306.9 637.8 1309.4 638.5 1325.6 584.5 1328 585.3 1309.4 646.5 1311 647 1321.4 613.5 1323.6 614.1 1327.3 602.3 1330 603.1 1327.5 610.9 1328.8 611.3 1327.5 615.3 1329.3 615.9 1322.7 636.4 1324.6 637 1330.9 617.8 1333.1 618.5 1335.8 610.4 1337.1 610.8 1334.4 618.7 1335.9 619.2 1336.4 617.8 1338 618.3 1339.6 613.7 1341 614.2 1341.3 613.4 1343.8 614.3 1345.4 609.7 1347.7 610.5 1349 606.6 1350.6 607.2 1345.6 621.4 1348.1 622.3 1346.6 626.2 1348.1 626.8 1347.9 627.4 1350.2 628.3 1350.4 627.5 1351.5 627.9 1351.2 628.8 1353.8 629.8 1348.6 643.4 1350.3 644 1366.1 602.7 1368.9 603.7 1346 662.7 1348.1 663.5 1361.8 628.7 1364 629.6 1366 624.6 1367.8 625.3 1365.4 631.2 1367.8 632.1 1367.3 633.4 1368.9 634.1 1374.3 621 1375.4 621.4 1374.3 624.1 1376.8 625.1 1379.9 617.7 1381.7 618.4 1380.2 622.2 1382.7 623.3 1383.8 620.7 1385.5 621.4 1384.5 623.8 1386.8 624.8 1371.9 658.9 1374.1 659.9 1383 639.8 1385 640.7 1388.4 633.1 1390 633.9 1394.3 624.2 1396 625 1396.9 623 1399.2 624.1 1382.7 659.8 1384.7 660.7 1392.6 643.8 1393.8 644.3 1400.4 630.1 1402.2 631 1402.2 631.1 1404.2 632.1 1398.1 644.9 1400.3 645.9 1399.4 647.9 1401.1 648.7 1408 634.6 1409.1 635.2 1405 643.4 1407 644.4 1405.3 647.7 1407.2 648.6 1406.5 650 1407.5 650.5 1408.5 648.7 1410.6 649.7 1393.9 682.9 1395.8 683.9 1426.5 623.9 1428.3 624.9 1397 685.5 1399.3 686.7 1394.3 696.2 1396 697.1 1423.3 645.2 1424.4 645.8 1423.4 647.7 1425.4 648.7 1424.7 650.1 1426.6 651.1 1403.7 693.5 1405.4 694.4 1405 695.1 1406.1 695.7 1414.1 681 1416 682 1414.8 684.1 1416.5 685.1 1421.3 676.4 1423.4 677.6 1413.9 694.3 1416.2 695.6 1425.6 679 1426.6 679.6 1441.3 654 1442.9 654.9 1437.4 664.6 1438.4 665.2 1424.9 688.6 1426.6 689.6 1429.4 684.7 1430.7 685.5 1460.1 635.3 1462.6 636.8 1432.4 687.6 1433.7 688.4 1434.4 687.1 1436.5 688.3 1455.2 657.3 1457.3 658.6 1433.4 697.9 1435.4 699 1439.8 691.9 1441.9 693.2 1453.4 674.7 1454.5 675.4 1453.1 677.6 1454.5 678.4 1454 679.2 1455.4 680.2 1464.9 665.2 1467.2 666.7 1461.5 675.6 1463.6 677 1469.7 667.6 1472 669.2 1466.6 677.5 1468.1 678.4 1469 676.9 1470.3 677.7 1470.5 677.4 1472.6 678.8 1469.5 683.5 1471.7 685 1474.2 681.3 1475.9 682.5 1471.5 688.9 1473.6 690.3 1472.6 691.8 1473.6 692.5 1479.2 684.4 1480.3 685.1 1477.1 689.7 1478.9 691 1484.6 682.8 1486.3 684 1486.4 683.9 1488.7 685.5 1489.2 684.8 1491.2 686.2 1490.7 686.8 1492.8 688.3 1496.1 683.8 1498.2 685.3 1496.3 688 1497.9 689.2 1490.7 699.1 1492.1 700.2 1490.5 702.4 1491.9 703.4 1502.3 689.5 1503.7 690.5 1501.1 693.8 1502.2 694.6 1499 698.9 1500 699.7 1495.5 705.5 1496.5 706.2 1502.6 698.1 1503.9 699 1499.7 704.6 1500.8 705.4 1503 702.5 1504.4 703.5 1510.2 696 1511.5 697 1514.1 693.6 1515.8 694.9 1477.8 743.4 1478.6 744.1 1486.5 734.1 1488 735.3 1494.5 727.1 1496.2 728.5 1487.6 739.2 1488.9 740.3 1498 728.9 1499 729.8 1495.8 733.8 1497.7 735.4 1496.5 736.8 1497.7 737.8 1491.4 745.5 1492.2 746.1 1527.3 703.5 1529.2 705.1 1498.5 742 1500.5 743.7 1538.5 698.5 1540.2 699.9 1503.6 743.1 1505.1 744.4 1508.9 739.9 1510.1 741 1503.3 748.9 1504.7 750 1509.4 744.6 1510.3 745.4 1531.2 721.4 1533.1 723.1 1527.9 729.1 1529.7 730.6 1539.3 719.7 1540.2 720.5 1532.2 729.5 1533.8 731 1532.4 732.6 1533.6 733.7 1531.7 735.7 1532.9 736.8 1536.9 732.4 1538.9 734.2 1515.1 760.4 1516.9 762.1 1539.3 737.8 1540.4 738.8 1554.3 723.7 1556.5 725.8 1525.6 758.9 1526.8 760.1 1529 757.9 1530.7 759.6 1531 759.2 1531.8 760 1553.7 737.1 1555.3 738.7 1538.7 756 1540.3 757.5 1528.2 770 1529.9 771.6 1525.1 776.5 1526.7 778.1 1539.1 765.5 1540.5 766.9 1534 773.3 1535.4 774.7 1561.7 748.4 1563.5 750.2 1544.4 769.1 1546 770.7 1583.3 734.1 1585.1 736 1549 771.2 1550.4 772.7 1544.6 778.3 1546.2 780 1538.4 787.6 1539.4 788.7 1567.1 762.3 1568.5 763.8 1536.7 793.9 1538.5 795.8 1543.2 791.4 1544.6 793 1569.8 769.6 1571.5 771.5 1572.2 770.8 1573.1 771.8 1571.6 773.2 1573 774.6 1534.9 809.3 1536.3 810.9 1581.5 770.2 1582.7 771.6 1580.4 773.7 1582 775.5 1580.2 777.1 1581.9 779 1583.4 777.8 1585.2 779.8 1582.3 782.3 1584.1 784.3 1590.3 778.9 1592.1 781 1610.4 765.3 1612 767.2 1594.8 781.8 1595.5 782.7 1557.5 814.9 1559.3 817 1602.1 781.2 1603.6 783 1601.2 785 1602.1 786.2 1602.4 786 1603.3 787 1591.8 796.4 1593.5 798.5 1591 800.6 1592 801.9 1579.3 812.2 1581 814.4 1603.4 796.6 1604.4 797.9 1598.9 802.2 1600.1 803.7 1598.6 805 1600.2 807.1 1599.5 807.6 1600.7 809.1 1609.6 802.2 1610.5 803.4 1602.8 809.4 1603.5 810.3 1555 847.6 1556.3 849.3 1604.5 812.5 1605.3 813.5 1604.6 814 1605.5 815.2 1608.7 812.8 1610.2 814.8 1608.4 816.1 1609.6 817.8 1569.9 847.3 1571.2 849.1 1618.5 814.3 1619.7 815.9 1589.4 838 1590.9 840.2 1600.5 833.2 1601.4 834.4 1585.4 845.9 1586.9 847.9 1597 840.7 1598.4 842.6 1597.4 843.3 1598.2 844.4 1592.6 848.3 1593.8 850 1594.9 849.3 1596.3 851.3 1594.2 852.8 1594.9 853.9 1602.1 848.9 1603 850.1 1608.5 846.4 1609.2 847.4 1616.8 842.2A557.8 557.8 0 0 0 1155 597.2ZM1625.8 855.8L1613.1 863.8 1614.2 865.5 1612.6 866.6 1613.8 868.5 1622.7 862.9 1623.4 864 1659.3 841.7 1660.7 844 1605.3 878 1606.4 879.8 1617.7 872.9 1618.8 874.7 1611.5 879.1 1612.1 880.1 1613.7 879.2 1614.4 880.3 1621.1 876.3 1621.7 877.3 1629.1 872.9 1630.5 875.2 1631.2 874.8 1632.6 877.1 1606 892.6 1607.1 894.5 1635.6 878.1 1636.2 879.1 1633.8 880.5 1634.9 882.6 1629.9 885.4 1630.6 886.7 1659.8 870.2 1661.1 872.6 1633.4 888.1 1633.9 889.1 1620.8 896.4 1621.8 898.1 1630.9 893.1 1632.1 895.3 1637.9 892.1 1638.7 893.6 1639.6 893.1 1640.3 894.3 1622 904.2 1622.8 905.7 1659.3 886.3 1660 887.6 1655.3 890.1 1656.1 891.7 1656.7 891.3 1657.4 892.7 1655.7 893.6 1656.8 895.7 1669.3 889.3 1669.9 890.5 1668.3 891.3 1669.4 893.6 1677.4 889.5 1678.4 891.6 1668.6 896.5 1669.6 898.4 1650.5 907.9 1651.1 908.9 1648.9 910 1649.4 911 1651.2 910.2 1652.1 912 1652.4 911.8 1653.4 913.8 1643.8 918.4 1644.5 919.8 1676.8 904.3 1677.6 905.9 1666.9 911 1667.6 912.6 1655.6 918.2 1656.4 920 1672.9 912.3 1673.5 913.6 1666 917.1 1666.9 919.1 1664.8 920.1 1665.6 921.7 1653.4 927.3 1654.1 928.7 1653.1 929.2 1653.8 930.8 1670.2 923.4 1671.1 925.5 1654.7 932.8 1655.7 935 1713.9 909.4 1714.8 911.6 1644.3 942.2 1644.9 943.8 1659.5 937.5 1660.5 939.8 1661.2 939.6 1661.8 941.1 1660.5 941.7 1661.3 943.7 1679.1 936.3 1680.1 938.6 1667.9 943.6 1668.8 945.5 1650.9 952.8 1651.6 954.5 1662.3 950.2 1663.1 952.2 1659.4 953.7 1659.8 954.7 1660.7 954.4 1661.2 955.7 1660.9 955.8 1661.3 956.8 1654.8 959.4 1655.2 960.5 1701.3 942.6 1702.1 944.6 1671.5 956.3 1672.1 958 1662 961.8 1662.6 963.3 1666.8 961.7 1667.5 963.4 1668.6 963 1669.4 965 1658.2 969.1 1658.9 971.3 1690.5 959.8 1691.4 962.3 1653.7 975.8 1654.4 977.9 1671.2 971.9 1671.9 973.7 1673.7 973 1674.4 975.2 1664.8 978.5 1665.4 980.1 1673.9 977.1 1674.7 979.5 1656.9 985.5 1657.3 986.7 1640.2 992.4 1640.8 994.2 1681.8 980.7 1682.3 982 1709.7 973 1710.6 975.7 1706.1 977.1 1706.7 978.9 1657.4 994.7 1657.9 996.4 1695 984.7 1695.3 985.9 1701.1 984.1 1701.5 985.2 1697.6 986.4 1698.1 988.1 1696.6 988.5 1697.4 991 1668.9 999.6 1669.5 1001.6 1680.9 998.2 1681.6 1000.5 1665 1005.4 1665.4 1006.5 1662.7 1007.3 1663.1 1008.5 1678.2 1004.2 1678.8 1006.1 1685.6 1004.2 1686.1 1005.7 1661.4 1012.7 1662 1015 1702.1 1004 1702.4 1005.1 1697.6 1006.4 1698 1008.1 1706.9 1005.7 1707.5 1007.8 1702.8 1009 1703.4 1011.5 1702.2 1011.8 1702.6 1013.4 1661.6 1024 1662.3 1026.6 1716.5 1012.9 1717 1015 1678.7 1024.5 1679 1025.6 1689.6 1022.9 1690.2 1025.4 1690.1 1025.5 1690.4 1027 1684 1028.5 1684.4 1030 1671 1033.2 1671.5 1035.4 1712.5 1025.9 1713 1028.1 1684.1 1034.7 1684.6 1036.9 1727.5 1027.3 1728.1 1029.9 1713.8 1033 1714.3 1035.2 1690.5 1040.3 1690.8 1041.7 1713.6 1036.9 1714.2 1039.8 1677.1 1047.5 1677.5 1049.8 1682.4 1048.9 1682.6 1050 1673.5 1051.8 1673.8 1053.6 1735 1041.6 1735.6 1044.3 1739.3 1043.6 1739.8 1046.4 1734.8 1047.4 1735.1 1048.5 1729.7 1049.5 1729.9 1050.7 1722.2 1052.1 1722.6 1054.5 1684.6 1061.2 1684.8 1062.5 1681.9 1063 1682.2 1064.8 1697.1 1062.2 1697.5 1064.2 1721.7 1060.1 1722.1 1062.6 1699.1 1066.3 1699.4 1068 1693.5 1068.9 1693.8 1070.7 1683.7 1072.3 1684 1074.6 1672.1 1076.4 1672.4 1078.3 1704.1 1073.6 1704.3 1075 1702.3 1075.3 1702.5 1077 1659.3 1083.2 1659.6 1085.7 1695 1080.9 1695.1 1082.1 1702.4 1081.1 1702.7 1083.8 1700.6 1084.1 1700.8 1085.4 1701 1085.4 1701.2 1086.8 1692.9 1087.9 1693 1089 1691.7 1089.2 1691.9 1090.4 1683.1 1091.4 1683.4 1094 1685.4 1093.8 1685.6 1095.4 1690.1 1094.9 1690.4 1097.5 1725.2 1093.8 1725.4 1095.9 1718.7 1096.6 1718.9 1098.7 1689.2 1101.7 1689.4 1103.9 1703.1 1102.6 1703.3 1104 1680 1106.2 1680.2 1108.4 1659.1 1110.3 1659.4 1113 1696.4 1109.9 1696.5 1111.1 1704.1 1110.5 1704.2 1112.3 1703.7 1112.4 1703.8 1114.5 1698.3 1114.9 1698.5 1117 1706.7 1116.4 1706.8 1118.6 1704.5 1118.8 1704.6 1119.9 1760.3 1116.3 1760.5 1118.4 1702.2 1121.9 1702.3 1124.1 1731.2 1122.5 1731.3 1125.2 1731.3 1125.2 1731.5 1128.1 1724.4 1128.4 1724.5 1130.1 1725.4 1130.1 1725.5 1132.4 1695.6 1133.6 1695.7 1135.8 1717.2 1135 1717.2 1137.3 1719.9 1137.2 1719.9 1138.5 1717.3 1138.6 1717.3 1139.9 1726.6 1139.6 1726.7 1141.8 1728.8 1141.8 1728.8 1144.3 1732.2 1144.3 1732.2 1145.4 1719.2 1145.7 1719.2 1148.3 1676.6 1148.8 1676.6 1151.1 1725.2 1150.7 1725.2 1152 1721.4 1152.1 1721.4 1153.7 1733.5 1153.7 1733.5 1155.6 1720.2 1155.6 1720.2 1157 1717.3 1157 1717.3 1159 1678.6 1158.7 1678.6 1161.3 1729.8 1161.9 1729.8 1163.3 1727.3 1163.2 1727.3 1164.9 1733 1165 1733 1167 1675.8 1165.8 1675.8 1168 1734.1 1169.5 1734 1171.8 1726 1171.5 1725.9 1173.6 1704.5 1172.9 1704.4 1174.7 1702.8 1174.6 1702.8 1176.4 1721.9 1177.2 1721.9 1179 1723.2 1179.1 1723.2 1180.3 1697.3 1179.2 1697.2 1181.3 1707.2 1181.8 1707.1 1183.7 1708.6 1183.8 1708.5 1185.8 1705.3 1185.7 1705.2 1187.8 1700.4 1187.5 1700.3 1189.6 1721 1190.9 1720.9 1193 1692.9 1191.1 1692.8 1192.6 1738.6 1195.8 1738.3 1198.8 1704.6 1196.2 1704.5 1197.9 1691.2 1196.8 1691 1199.2 1684.8 1198.7 1684.6 1201.3 1712.9 1203.7 1712.7 1205.8 1684.7 1203.3 1684.5 1205.5 1719.1 1208.8 1718.8 1211.2 1699.1 1209.2 1698.8 1211.9 1763.2 1218.7 1762.9 1221.4 1714.6 1216.1 1714.3 1218.8 1713.2 1218.6 1712.9 1221.2 1717.5 1221.7 1717.4 1222.9 1719.7 1223.2 1719.4 1225.9 1713.7 1225.2 1713.4 1227.6 1713.2 1227.6 1712.9 1229.7 1720 1230.6 1719.7 1232.3 1727.4 1233.4 1727.1 1235.5 1732.6 1236.3 1732.3 1238.3 1718 1236.2 1717.8 1237.7 1711.7 1236.8 1711.4 1238.3 1715.4 1238.9 1715.1 1241.3 1726.9 1243.1 1726.4 1245.9 1725.5 1245.8 1725.3 1247.3 1712.4 1245.2 1712 1247.7 1712.7 1247.9 1712.3 1249.9 1722.5 1251.6 1722.1 1254.1 1712.5 1252.4 1712.3 1253.9 1721 1255.4 1720.7 1256.7 1721.1 1256.8 1720.6 1259.5 1712.8 1258.1 1712.4 1260.4 1709.8 1259.9 1709.5 1261.4 1737.5 1266.8 1737.1 1269.1 1714.4 1264.6 1714.1 1266.2 1721.9 1267.8 1721.4 1270.4 1716.1 1269.3 1715.6 1271.6 1709.2 1270.3 1708.7 1272.7 1717.8 1274.6 1717.4 1276.4 1718.3 1276.6 1717.9 1278.3 1710.4 1276.6 1709.9 1278.7 1671.5 1270.1 1671.1 1271.9 1702.5 1279 1702 1281 1689.7 1278.2 1689.2 1280.6 1714.9 1286.7 1714.7 1287.8 1697.7 1283.8A557.8 557.8 0 0 0 1625.8 855.8ZM1693.9 1298.9L1689.8 1297.8 1689.3 1299.7 1683.8 1298.2 1683.3 1300.1 1719.5 1310 1718.8 1312.5 1673.3 1299.8 1672.6 1302.4 1668.3 1301.2 1667.8 1302.7 1719.6 1317.6 1718.8 1320.4 1707.9 1317.2 1707.6 1318.3 1665.9 1306 1665.1 1308.7 1693.2 1317.1 1692.9 1318.3 1692 1318 1691.6 1319.1 1702 1322.3 1701.4 1324.2 1693.8 1321.8 1693.4 1322.9 1697.6 1324.2 1696.8 1326.6 1669.9 1318.1 1669.5 1319.1 1676.6 1321.4 1676 1323.3 1646.9 1313.8 1646.1 1316.3 1679.5 1327.2 1679 1328.8 1678.8 1328.7 1678.2 1330.6 1677.4 1330.3 1676.9 1331.7 1707.5 1342.1 1706.8 1344.2 1673.4 1332.7 1673 1334.1 1662.3 1330.4 1661.7 1331.9 1662 1332 1661.5 1333.2 1693.3 1344.4 1692.4 1346.8 1659.3 1334.9 1658.6 1337 1706.4 1354.3 1706 1355.5 1707.3 1355.9 1706.4 1358.5 1688.5 1351.9 1687.5 1354.5 1683 1352.8 1682.4 1354.1 1699.3 1360.5 1698.4 1362.7 1662.6 1349.1 1661.9 1351.1 1715 1371.6 1714 1374.1 1660.1 1353 1659.4 1354.7 1694.7 1368.7 1694.1 1370.2 1684.4 1366.4 1683.9 1367.7 1650.9 1354.4 1650 1356.6 1658.5 1360 1657.6 1362.3 1665.7 1365.7 1664.7 1368.2 1665.4 1368.5 1664.9 1369.6 1666.5 1370.2 1665.9 1371.6 1656.6 1367.6 1655.8 1369.4 1659.9 1371.1 1659.5 1372.1 1659.4 1372.1 1658.6 1374.1 1658.8 1374.2 1658.2 1375.6 1654.9 1374.2 1654.2 1375.8 1672.2 1383.8 1671.1 1386.3 1669.1 1385.4 1668.1 1387.8 1667.7 1387.6 1667 1389.1 1666.7 1388.9 1665.9 1390.9 1676.1 1395.6 1675.6 1396.8 1684.2 1400.8 1683.3 1402.6 1675.1 1398.8 1674.6 1399.8 1671.9 1398.5 1670.9 1400.5 1674.2 1402.1 1673.3 1403.9 1664.1 1399.4 1663.3 1401.1 1674.8 1406.7 1673.7 1409 1668.1 1406.3 1667.2 1408.1 1667 1408 1666.1 1409.7 1663.3 1408.4 1662.4 1410.1 1671.9 1414.9 1670.7 1417.2 1632.5 1397.8 1631.6 1399.8 1643.1 1405.7 1641.9 1407.8 1630.1 1401.7 1629.4 1403 1629.5 1403 1628.8 1404.5 1632.1 1406.2 1630.9 1408.5 1623.8 1404.7 1623.2 1405.8 1628.3 1408.5 1627.7 1409.7 1672.3 1433.8 1670.9 1436.3 1622.6 1409.9 1621.5 1412 1629.7 1416.5 1628.7 1418.4 1648.9 1429.6 1648.4 1430.6 1657.8 1435.9 1656.7 1437.9 1649.3 1433.7 1648.5 1435.2 1660.3 1441.9 1659.1 1444 1648.7 1438 1647.4 1440.3 1654.1 1444.2 1652.7 1446.7 1648.4 1444.2 1647.4 1446 1646.1 1445.2 1645 1446.9 1646.8 1448 1646 1449.2 1638.4 1444.7 1637.8 1445.7 1645.1 1450.2 1643.7 1452.5 1671.2 1469.3 1669.6 1471.8 1595.5 1426.1 1594.5 1427.8 1597.5 1429.6 1596.8 1430.9 1590.4 1426.9 1589.8 1428 1602.2 1435.8 1601.2 1437.5 1590.3 1430.5 1589.4 1431.8 1596.8 1436.5 1595.9 1438 1583.4 1430 1582.1 1432.1 1585.5 1434.4 1584.8 1435.6 1589.3 1438.6 1588.4 1440 1586.3 1438.5 1585.1 1440.3 1598.4 1449.1 1597.2 1450.9 1601.4 1453.7 1600.8 1454.6 1578 1439.3 1577.3 1440.3 1631.3 1476.7 1630.1 1478.5 1632.5 1480.1 1631.6 1481.4 1624.5 1476.5 1623.5 1478 1600.4 1462.1 1599.6 1463.4 1607.1 1468.6 1605.9 1470.4 1609.2 1472.7 1608.4 1473.9 1608.8 1474.2 1607.6 1476 1602.1 1472.1 1600.8 1473.8 1601.6 1474.4 1600.2 1476.3 1601.8 1477.4 1600.4 1479.3 1619.8 1493.5 1618.2 1495.7 1611.9 1491.1 1610.6 1492.9 1585.2 1474.1 1583.7 1476.2 1616.6 1500.9 1615.7 1502.2 1579 1474.6 1577.4 1476.7 1607.9 1499.9 1606.3 1501.9 1613.9 1507.8 1612.4 1509.7 1610.1 1507.9 1608.6 1509.8 1571.4 1480.7 1570.6 1481.7 1581.7 1490.4 1580.1 1492.5 1584.8 1496.2 1583.6 1497.7 1582.5 1496.9 1581.1 1498.6 1573.1 1492.1 1572.3 1493.1 1571.3 1492.3 1569.6 1494.4 1579.7 1502.6 1578.2 1504.4 1562.9 1491.8 1561.5 1493.5 1566.1 1497.2 1565 1498.5 1574.5 1506.4 1573.1 1508.1 1543.4 1483 1541.8 1484.9 1612.1 1544.8 1610.1 1547.2 1555.7 1500.2 1554.8 1501.3 1567.9 1512.7 1566.3 1514.6 1566.4 1514.7 1565.4 1516 1562.6 1513.5 1561.3 1515 1565.2 1518.5 1563.8 1520 1556.8 1513.8 1555.1 1515.8 1555.5 1516.1 1553.8 1518 1581.7 1543.4 1580.5 1544.7 1574.9 1539.6 1573.9 1540.7 1569 1536.2 1567.4 1537.9 1577.9 1547.7 1577.1 1548.6 1580.1 1551.4 1578.6 1553 1580 1554.4 1578.8 1555.7 1574.1 1551.3 1572.6 1552.9 1564.1 1544.8 1562.5 1546.5 1562.6 1546.5 1561.8 1547.4 1559.4 1545 1558.2 1546.2 1534.2 1522.9 1532.9 1524.3 1575.2 1565.6 1573.7 1567.2 1570.1 1563.6 1568.8 1565 1559.8 1556.1 1558.5 1557.3 1566.2 1565 1564.2 1567.1 1531.6 1534.3 1530 1535.9 1568.5 1575 1567.2 1576.3 1567.6 1576.8 1566.3 1578.1 1558.8 1570.3 1557.7 1571.4 1548.7 1562.1 1547.7 1563.1 1552 1567.7 1550.7 1569 1506.2 1522.4 1504.4 1524.1 1547.6 1569.7 1545.8 1571.3 1547.6 1573.2 1546 1574.7 1517.8 1544.4 1516.9 1545.2 1517.4 1545.7 1515.5 1547.5 1516.5 1548.5 1514.6 1550.3 1515.1 1550.8 1513.2 1552.5 1506.4 1545 1505.4 1545.8 1518.3 1560.2 1517.3 1561.2 1518.1 1562 1517.1 1562.9 1511.4 1556.5 1509.6 1558.1 1499.6 1546.7 1498.1 1548 1545.2 1602 1542.9 1604 1496.4 1550.1 1495.2 1551.1 1539.6 1602.8 1537.9 1604.2 1513.9 1576.1 1512.8 1577 1486.2 1545.7 1484.4 1547.3 1506.5 1573.6 1504.5 1575.3 1483.2 1549.7 1481.5 1551.2 1485 1555.4 1483.7 1556.4 1500.6 1577.1 1499.5 1577.9 1526.7 1611.4 1524.3 1613.4 1511.4 1597.3 1510.4 1598.2 1507.8 1595 1506.5 1596.1 1505.1 1594.4 1503.7 1595.4 1481.5 1567.4 1479.9 1568.7 1514.5 1612.7 1512.2 1614.5 1483.2 1577.3 1481.8 1578.4 1510.4 1615.4 1508.3 1617 1499.1 1605 1497.2 1606.5 1494.5 1602.9 1492.3 1604.6 1501 1616.2 1499.5 1617.4 1499.7 1617.6 1498.4 1618.6 1502.8 1624.5 1500.6 1626.1 1492.4 1614.9 1491.1 1615.8 1495.1 1621.3 1494 1622.1 1489.5 1615.9 1487.4 1617.4 1487.2 1617.1 1486.1 1617.9 1488.2 1620.9 1486.3 1622.2 1482.6 1617 1481.3 1617.9 1459.4 1586.8 1457.4 1588.2 1483.6 1625.7 1482 1626.8 1478.2 1621.2 1476.7 1622.2 1474.9 1619.7 1474 1620.4 1474.3 1620.8 1472.6 1622 1471.3 1620.1 1469.4 1621.5 1455.2 1600.4 1452.9 1602 1467.2 1623.5 1465.1 1624.9 1466 1626.1 1465.7 1626.3 1462 1620.7A557.8 557.8 0 0 0 1693.9 1298.9ZM1447.6 1629.9L1432.3 1605 1430.4 1606.1 1421.4 1591.4 1419.6 1592.5 1433.8 1616.1 1431.7 1617.4 1430.1 1614.6 1428.7 1615.5 1427.8 1613.9 1426.7 1614.6 1455.5 1663.4 1453.4 1664.6 1426.4 1618.6 1425.3 1619.2 1431.4 1629.6 1430 1630.5 1428.5 1627.9 1426.3 1629.2 1446.5 1664.6 1444.5 1665.7 1425.3 1631.9 1423.7 1632.8 1415.3 1617.8 1413.7 1618.6 1420.3 1630.4 1419.1 1631 1422.3 1636.8 1420.8 1637.6 1415.5 1627.9 1414.5 1628.5 1411.9 1623.9 1409.6 1625.1 1416.4 1637.6 1414.1 1638.8 1403.9 1619.5 1402.2 1620.4 1399.6 1615.5 1397.7 1616.5 1397.5 1616.1 1395.3 1617.2 1405.1 1636.2 1404 1636.8 1399.9 1629 1397.9 1630 1430.6 1693.9 1428.4 1695.1 1395 1629 1393.9 1629.6 1386.2 1614.2 1384.7 1614.9 1396.4 1638.2 1394.1 1639.4 1386.7 1624.5 1385.2 1625.2 1415.6 1687.3 1412.8 1688.6 1379.1 1619 1376.8 1620.1 1382.1 1631.2 1380.4 1632 1375.3 1621 1373.6 1621.8 1376.4 1627.8 1375.1 1628.4 1384.7 1649 1383.4 1649.6 1381.4 1645.2 1380 1645.8 1383.8 1654 1382.5 1654.6 1383.4 1656.4 1382 1657.1 1370.7 1632.1 1368.3 1633.1 1376.6 1651.7 1375 1652.5 1376.9 1656.9 1375.8 1657.4 1376.1 1658.2 1374.2 1659 1374.2 1658.8 1372.9 1659.4 1380.4 1676.7 1379.3 1677.2 1393 1709.1 1390.2 1710.3 1377.4 1680 1374.9 1681.1 1359.9 1645.3 1357.6 1646.3 1362.5 1658.4 1360.3 1659.3 1373.7 1692.2 1371.9 1693 1357.2 1656.7 1355.1 1657.5 1355.8 1659.1 1354 1659.8 1363.1 1682.8 1361.3 1683.5 1374.2 1716.5 1372.2 1717.3 1361.5 1689.4 1359.3 1690.3 1350.3 1666.5 1348.3 1667.2 1350 1671.9 1348.6 1672.4 1348.7 1672.9 1347.6 1673.3 1344.8 1665.7 1343.6 1666.1 1340.7 1658.3 1338.5 1659.1 1338.4 1658.8 1336.5 1659.5 1336.1 1658.4 1333.9 1659.2 1336.2 1665.5 1334.5 1666.2 1346.6 1700.8 1344.8 1701.5 1337 1679.2 1334.6 1680.1 1331.8 1671.8 1329.5 1672.5 1329.3 1671.9 1327.6 1672.4 1329.1 1676.9 1327.3 1677.5 1325.9 1673 1323.9 1673.7 1332.5 1700 1331.1 1700.4 1328.6 1692.7 1325.9 1693.6 1330.1 1706.8 1327.6 1707.6 1323.9 1695.5 1322.6 1695.9 1314 1668 1311.5 1668.7 1314.6 1678.8 1313.4 1679.2 1313.9 1680.7 1312 1681.3 1311.5 1679.7 1309.9 1680.2 1309.4 1678.4 1308.1 1678.8 1307.8 1677.9 1305.3 1678.6 1306.9 1684.1 1304.8 1684.7 1314.8 1720.2 1312.1 1721 1306.3 1700 1304.2 1700.6 1306.6 1709.4 1304.8 1709.9 1295.3 1674.8 1293.5 1675.3 1293.7 1675.8 1291.6 1676.4 1297.4 1698.5 1295.4 1699 1296 1701 1293.3 1701.6 1286.4 1674.3 1283.8 1674.9 1291.2 1704.8 1290.1 1705.1 1289.2 1701.5 1287.5 1701.9 1288.7 1707 1286.9 1707.4 1289.6 1718.5 1287.6 1719 1289.3 1726.4 1287.7 1726.7 1283.3 1707.8 1281.4 1708.2 1283.1 1715.3 1281.8 1715.6 1280.2 1708.4 1278.8 1708.7 1277.7 1703.9 1275.4 1704.4 1276.7 1710 1275.3 1710.3 1274.3 1705.7 1272.1 1706.1 1276.5 1726.6 1274.6 1727 1271.9 1713.9 1270.6 1714.2 1270.9 1715.9 1268.4 1716.4 1270.2 1725.6 1267.7 1726.1 1257.8 1676 1255.1 1676.5 1269.6 1752 1267.1 1752.5 1263.4 1733 1261.7 1733.4 1262.1 1735.5 1259.6 1736 1249.8 1681.5 1247.8 1681.8 1254.9 1721.9 1253.4 1722.1 1251.7 1712.3 1249.3 1712.8 1249.7 1715.3 1248.3 1715.5 1248.1 1714.5 1246.8 1714.7 1247.6 1719.6 1245 1720.1 1245 1720.1 1242.3 1720.5 1243 1725 1241.4 1725.3 1242.9 1735.6 1240 1736 1237.3 1717.5 1236 1717.7 1236.3 1719.5 1234.3 1719.8 1233.4 1713.9 1231.3 1714.2 1234 1733.8 1231.5 1734.2 1229.4 1718.1 1227 1718.4 1221.9 1678.4 1219.8 1678.7 1224.7 1718.3 1222.4 1718.5 1223.7 1729.2 1220.9 1729.5 1221.3 1732.4 1219.2 1732.7 1219.7 1736.6 1217.3 1736.8 1215.4 1719 1213.5 1719.2 1214.6 1729.3 1212.8 1729.5 1212.3 1724.6 1210.9 1724.8 1212.3 1739.5 1210.9 1739.6 1211.2 1742.7 1209.8 1742.8 1209.4 1738.3 1208 1738.5 1202.9 1682.2 1200.8 1682.4 1201.2 1687.2 1198.9 1687.4 1203.5 1742.3 1202.2 1742.4 1201.4 1732.8 1198.9 1733 1198.3 1724.6 1195.7 1724.8 1195.7 1725.7 1194.1 1725.9 1194.3 1729 1193.1 1729.1 1193.3 1732.9 1191.1 1733.1 1187.6 1676.8 1185.2 1676.9 1188.7 1735.9 1186.2 1736.1 1185.3 1720.4 1183.6 1720.5 1183.6 1720.8 1181.5 1720.9 1182 1730.8 1180.1 1730.8 1180.2 1733.6 1178 1733.7 1178.4 1742.3 1175.6 1742.4 1174.9 1723.5 1172.1 1723.6 1172 1720.8 1170.3 1720.9 1171.2 1753.1 1168.7 1753.2 1168.6 1746.1 1168.1 1746.1 1167.4 1712.7A557.8 557.8 0 0 0 1447.6 1629.9ZM1151.9 1712.8L1151.9 1701.9 1149.6 1701.9 1149.3 1733 1147.4 1733 1147.5 1730.7 1146 1730.7 1146 1727.2 1144.3 1727.1 1144.3 1728 1142.2 1728 1142.2 1731.2 1140 1731.1 1140 1729.9 1137.6 1729.8 1138.6 1695.7 1135.7 1695.6 1134.9 1716.5 1133.3 1716.4 1133.3 1715.8 1130.7 1715.7 1131.6 1696.9 1129.6 1696.8 1128.7 1715.1 1126 1715 1126.7 1702 1124.3 1701.8 1124.3 1703.2 1122 1703 1123.2 1682.5 1121.4 1682.4 1118.8 1722.1 1116.7 1721.9 1116.8 1719.9 1114.2 1719.7 1114.2 1720.1 1112.3 1719.9 1109.1 1762 1106.1 1761.8 1109.6 1718.4 1108.1 1718.3 1108.4 1715.4 1106.4 1715.3 1105.2 1729.3 1103.2 1729.1 1105.4 1704.1 1103.2 1703.9 1100.5 1732.9 1099.3 1732.7 1106.1 1662.5 1103.9 1662.3 1103.8 1663.7 1102.6 1663.6 1101.7 1672.7 1099.8 1672.5 1092.2 1743.5 1089 1743.1 1096.5 1676.9 1094.6 1676.7 1096.2 1663.6 1095.1 1663.5 1093.4 1677.3 1090.8 1677 1095 1642.9 1093.2 1642.7 1093.2 1642.9 1091.7 1642.7 1078.2 1747.2 1075.1 1746.8 1086.8 1660.3 1084.3 1659.9 1083.7 1663.6 1082.1 1663.4 1083 1657.3 1080.6 1657 1081.4 1651.9 1079.7 1651.7 1077.7 1664.4 1076.4 1664.2 1074.9 1674.2 1073.6 1674 1072.8 1679.3 1071.3 1679.1 1069.5 1690.2 1068 1690 1067.7 1691.5 1065.7 1691.1 1067 1683.4 1065.4 1683.1 1063 1697.5 1061.5 1697.2 1063.6 1685.6 1061.2 1685.2 1065.8 1659.3 1064.1 1659 1056.4 1701.3 1055.2 1701.1 1057.4 1688.7 1055.3 1688.3 1049.8 1717.5 1047.9 1717.1 1051.2 1699.6 1048.9 1699.1 1046.9 1709.2 1045.5 1709 1052 1675.8 1049.9 1675.3 1043 1709.8 1040.8 1709.3 1037.9 1723.3 1036.4 1723 1038.9 1711.1 1036.9 1710.6 1037.7 1706.9 1035.2 1706.4 1041.8 1675.8 1039.3 1675.3 1032.6 1705.3 1030.6 1704.8 1027.5 1718.3 1025.3 1717.8 1028.2 1705 1025.6 1704.4 1024.3 1710 1022.9 1709.7 1024.5 1703 1022.4 1702.5 1021.8 1705.2 1019 1704.5 1009.1 1744.8 1006.8 1744.2 1021.6 1685.3 1019 1684.7 1014.7 1701.2 1012.7 1700.7 1013.3 1698.4 1011.7 1698 1014.5 1687.4 1013.4 1687.1 1012.5 1690.3 1010.2 1689.7 1010.3 1689.2 1008.8 1688.8 1010.2 1683.8 1009 1683.5 1009.7 1680.8 1007.7 1680.2 1007.2 1682 1005.7 1681.6 1007 1676.9 1005.6 1676.5 1005.3 1677.7 1002.7 1677 1001 1682.7 998.7 1682.1 999.6 1679.3 997.1 1678.5 997.1 1678.7 995.8 1678.3 994.2 1683.4 992.7 1682.9 989.2 1694.2 987.9 1693.8 984.9 1703.6 983 1703 982.2 1705.6 980.5 1705.1 991.5 1670.4 989 1669.6 986.3 1678.1 984.1 1677.4 983.1 1680.3 980.7 1679.5 982.1 1675.2 980.8 1674.8 972.1 1700.8 970.8 1700.4 972.8 1694.4 970.3 1693.6 972.2 1688.1 970.4 1687.5 958.9 1720.5 956.4 1719.6 965.5 1693.7 963.2 1692.9 972.1 1667.9 969.6 1667 963.2 1684.5 960.8 1683.6 961 1683 959.5 1682.5 956.6 1690.4 954.9 1689.7 952.4 1696.2 950.6 1695.5 952.1 1691.4 949.5 1690.4 950.7 1687.2 948.5 1686.3 950 1682.4 947.6 1681.5 945.6 1686.5 943.9 1685.8 961 1642.9 959.4 1642.3 952.1 1660.4 950 1659.5 948.9 1662.2 946.9 1661.4 932 1697.6 930.1 1696.8 930.8 1695.3 928.7 1694.4 933.1 1684.1 931.4 1683.4 934.5 1676.1 932.7 1675.3 930.5 1680.5 929 1679.9 929.2 1679.4 927.9 1678.9 927.2 1680.4 925.1 1679.5 920.6 1689.8 919 1689.1 917.3 1692.9 914.9 1691.8 924.6 1670.3 923.2 1669.7 919.6 1677.8 918.3 1677.2 918.8 1676.2 917.1 1675.4 905.7 1700.2 903.7 1699.3 918.2 1667.9 916.3 1667.1 909.8 1681.2 907.4 1680.1 911.5 1671.5 909.7 1670.6 907.9 1674.4 905.4 1673.2 921.9 1639 919.8 1638 901.9 1674.7 900.7 1674.1 902.1 1671.1 900.7 1670.4 892.8 1686.5 890.7 1685.4 900.8 1665.3 898.3 1664 880.2 1699.9 877.3 1698.5 902.3 1649.7 900.7 1648.9 900.8 1648.7 898.9 1647.7 895.5 1654.2 894.4 1653.6 890.9 1660.4 888.6 1659.2 892 1652.8 890.7 1652.2 887.4 1658.4 885.6 1657.5 897.8 1634.8 895.9 1633.8 894.2 1637 892 1635.8 896.8 1626.9 895.8 1626.4 893.2 1631 891 1629.8 879.7 1650.1 878.6 1649.5 872.8 1659.8 871.3 1659 860.9 1677.4 859.2 1676.4 890 1622.1 887.6 1620.7 872.5 1647 871.9 1646.7 876.7 1638.4A557.8 557.8 0 0 0 1151.9 1712.8ZM862.7 1630.1L859 1636.2 857.3 1635.1 851.1 1645 849.8 1644.2 850.3 1643.4 848.1 1642.1 843.3 1649.7 842.3 1649 846 1643.2 843.8 1641.8 844.9 1640.1 843.4 1639.1 840.1 1644.4 837.7 1642.9 844.2 1632.9 842.9 1632.1 843.2 1631.6 840.9 1630.1 838.4 1633.8 836.6 1632.6 842.1 1624.4 840.6 1623.4 834.6 1632.4 832.9 1631.3 834.8 1628.5 833.3 1627.5 821.3 1645.2 819.1 1643.7 837.5 1616.9 836.2 1616.1 835.2 1617.5 833.2 1616.2 814.8 1642.7 812.5 1641.1 821.8 1627.8 819.4 1626.2 809.4 1640.3 807.6 1639 833.9 1602.2 832.6 1601.3 840.8 1590.1 839.5 1589.2 833 1598.1 830.9 1596.6 831.4 1595.9 830.2 1595 826.7 1599.7 825.2 1598.6 838 1581.4 836.7 1580.4 798.8 1631 797 1629.6 822.2 1596.2 820.4 1594.8 825.3 1588.4 824.1 1587.5 819.6 1593.3 818.3 1592.3 828.2 1579.6 826.1 1578 826.6 1577.5 824.7 1576 819.3 1582.9 817.6 1581.6 816.2 1583.4 814.5 1582 819 1576.3 817 1574.7 818.2 1573.2 816.7 1572 817.2 1571.4 815.7 1570.2 806.9 1580.9 805.2 1579.5 809.1 1574.7 807.5 1573.4 814.4 1565.1 813 1563.9 771.2 1613.8 768.8 1611.7 796.7 1578.8 795.1 1577.5 798.3 1573.7 797 1572.6 798 1571.4 796.3 1569.9 797.2 1568.8 795.5 1567.3 791.8 1571.6 789.7 1569.7 762.7 1600.4 760.8 1598.8 797.5 1557.4 795.9 1556 794.2 1557.9 792.4 1556.3 796 1552.2 794.5 1550.9 786.7 1559.4 784.9 1557.9 788.2 1554.3 786.8 1553 786.8 1552.9 785.5 1551.7 805.2 1530.5 803.7 1529.1 774.7 1559.9 772.8 1558.1 767.7 1563.5 765.9 1561.8 757.1 1571.1 755.8 1569.9 754.7 1571.1 752.7 1569.1 750.8 1571 749.5 1569.7 750.3 1568.9 749.4 1568 754.9 1562.4 753.5 1561 771 1543.3 769.2 1541.4 730.8 1579.9 728.5 1577.7 745.3 1561.1 743.6 1559.4 780.6 1523.1 778.7 1521.2 765.9 1533.7 764.1 1531.9 755 1540.6 754.1 1539.7 749.4 1544.2 747.9 1542.6 759 1532.1 757.5 1530.5 747.9 1539.6 746 1537.6 737.5 1545.5 735.9 1543.8 759.8 1521.6 759 1520.7 758.1 1521.6 757.3 1520.7 752.4 1525.2 751.6 1524.4 749.5 1526.3 747.6 1524.3 748.4 1523.7 747.5 1522.7 754.6 1516.3 752.9 1514.5 752.6 1514.7 750.9 1512.8 757.4 1507 756.5 1506 757.7 1504.9 756.1 1503.1 755.9 1503.3 755.1 1502.4 741.5 1514.1 739.8 1512.2 735.5 1515.9 733.7 1513.8 736.3 1511.6 735 1510 739.8 1505.9 738.4 1504.2 719.8 1519.8 718.2 1517.9 730.2 1507.9 728.9 1506.3 728.2 1506.9 726.5 1504.8 738 1495.4 736.9 1494.1 730.1 1499.6 728.9 1498.1 733 1494.8 731.7 1493.2 743.1 1484.1 741.6 1482.2 735.3 1487.2 734.2 1485.9 725.1 1493 723.9 1491.5 709.1 1503 708.1 1501.6 702 1506.3 700.9 1504.9 708.5 1499 707.9 1498.3 712.6 1494.7A557.8 557.8 0 0 0 862.7 1630.1ZM702.8 1481.5L704.7 1480.1 703.4 1478.4 699.2 1481.4 698.5 1480.4 684.9 1490 683.3 1487.8 682.8 1488.1 682 1487.1 684.6 1485.2 683.2 1483.2 691.2 1477.6 690.4 1476.5 717.2 1457.9 716.1 1456.4 674.4 1485.1 673.6 1484 680.3 1479.4 679.1 1477.6 699.2 1463.9 698.3 1462.5 674.4 1478.6 673.1 1476.6 694.3 1462.4 693.4 1461 695.5 1459.6 694.6 1458.2 699.5 1454.9 698.3 1453 706 1448 705.1 1446.5 693.9 1453.8 692.8 1452 689.1 1454.4 687.6 1452.1 696.4 1446.6 695.4 1445.1 677.4 1456.5 676.2 1454.6 644.6 1474.4 643.4 1472.5 666 1458.4 665.4 1457.4 662 1459.5 660.7 1457.3 693.2 1437.4 692.4 1436 689.3 1438 688.4 1436.5 687.3 1437.1 686.5 1435.8 669.6 1445.9 668.9 1444.8 667.2 1445.7 666.1 1443.9 695.1 1426.8 694.1 1425 663.4 1442.9 662.2 1440.9 645.3 1450.7 643.8 1448.1 688.9 1422.3 687.6 1420 657.9 1436.8 657.4 1435.7 664.6 1431.6 663.7 1430 649.3 1438 648.1 1435.8 676.4 1420 675.5 1418.3 675.5 1418.3 674.8 1417.1 685.1 1411.5 684.4 1410.3 690.7 1406.9 689.9 1405.5 679.1 1411.3 678.1 1409.6 671.8 1412.9 670.9 1411.1 683 1404.6 682.4 1403.3 689.3 1399.6 688.2 1397.4 684 1399.6 683 1397.8 669.5 1404.8 668.9 1403.6 621.7 1427.7 620.6 1425.4 653.4 1408.8 652.6 1407.4 650.4 1408.4 649.3 1406.2 648.8 1406.4 647.8 1404.2 670.8 1392.9 669.8 1390.9 630.9 1409.8 630.2 1408.4 635 1406.1 634.5 1404.9 689.7 1378.4 688.8 1376.4 626.2 1406.1 625.1 1403.8 642 1395.8 640.8 1393.2 636.1 1395.4 635.2 1393.6 627.5 1397.1 626.5 1394.9 656.8 1381.2 655.6 1378.7 618.7 1395.3 617.8 1393.2 623.9 1390.5 623.3 1389.2 626.6 1387.7 626 1386.4 620 1389.1 618.8 1386.4 605.4 1392.2 604.6 1390.3 614.8 1385.9 613.9 1383.7 624.9 1379 624.4 1377.8 628.8 1376 628 1374.1 628 1374.1 627.1 1371.9 634.2 1368.9 633.8 1367.8 626 1371 625.2 1368.9 675.9 1348.4 675.1 1346.2 662.2 1351.3 661.4 1349.3 661.5 1349.3 661.1 1348.2 671.6 1344.1 670.7 1341.9 656.3 1347.5 655.4 1345.1 659.3 1343.6 658.6 1341.8 652.5 1344.1 652.1 1343 656.1 1341.5 655.5 1340 659 1338.7 658.3 1336.9 656.2 1337.7 655.6 1336.2 651.2 1337.8 650.8 1336.6 676.1 1327.5 675.8 1326.4 662.3 1331.2 661.7 1329.5 665.5 1328.1 665.1 1326.9 651.5 1331.7 651.2 1330.6 664.3 1326.1 663.4 1323.6 666.6 1322.6 665.7 1320.1 650.1 1325.4 649.5 1323.6 659.6 1320.3 659.3 1319.3 666.1 1317 665.4 1315 656.9 1317.8 656.2 1315.7 665.6 1312.7 664.8 1310.2 674.9 1307 674.4 1305.5 655.1 1311.6 654.4 1309.3 660.9 1307.3 660.3 1305.4 621.3 1317.3A557.8 557.8 0 0 0 702.8 1481.5ZM616.9 1301.9L586.2 1310.3 585.8 1308.7 599.3 1305.1 598.9 1303.6 603.1 1302.5 602.6 1300.6 605.2 1299.9 604.6 1297.7 589.6 1301.6 588.9 1299 605.5 1294.8 605.1 1293.5 600.2 1294.7 599.6 1292.3 601.4 1291.8 601.1 1290.5 569.1 1298.4 568.4 1295.6 596.9 1288.8 596.4 1286.7 600.4 1285.8 600 1284.1 561 1293.2 560.6 1291.2 650.2 1270.7 649.9 1268.9 587.3 1283 587 1281.3 592.7 1280.1 592.3 1278.5 587.8 1279.5 587.3 1277 641.9 1265.3 641.4 1262.9 588.3 1274 588 1272.5 596.1 1270.8 595.8 1269.4 582.5 1272.1 582.1 1270.3 653.9 1255.9 653.5 1253.8 590.6 1266.1 590.3 1264.5 600.5 1262.5 600.1 1260.4 585.9 1263.1 585.5 1261.4 588.9 1260.7 588.7 1259.5 588.1 1259.6 587.8 1258.1 598.1 1256.2 597.8 1254.8 582.7 1257.5 582.2 1255.2 632.7 1246.4 632.4 1244.7 575.7 1254.4 575.4 1252.3 594.4 1249.1 594 1246.6 582.9 1248.4 582.6 1246.9 588.9 1245.9 588.6 1244.2 587.6 1244.3 587.2 1241.5 597.3 1240 597 1237.6 592.5 1238.2 592.1 1235.7 618.1 1232 617.7 1229.5 587.3 1233.7 586.9 1231.3 589.3 1231 588.9 1228.6 575.1 1230.4 574.9 1228.3 592.8 1226 592.6 1224.4 584.7 1225.3 584.4 1222.7 609.6 1219.7 609.4 1217.4 625.3 1215.6 625.1 1213.9 629.2 1213.4 628.9 1210.8 645.3 1209.1 645.1 1207.2 595.6 1212.3 595.3 1210.1 613.5 1208.3 613.3 1205.8 578.4 1209.1 578.2 1207.1 577.2 1207.1 577.1 1205.9 572.5 1206.4 572.4 1204.9 609.8 1201.7 609.7 1200.3 626.9 1198.9 626.8 1197.1 608.1 1198.6 607.9 1196.4 570.3 1199.3 570.1 1196.4 602.8 1194.1 602.6 1191.4 576.7 1193.1 576.6 1190.9 606.3 1189 606.2 1186.8 612.9 1186.4 612.7 1183.9 609.1 1184.1 609 1181.6 602.9 1181.9 602.9 1180.7 629 1179.5 628.9 1177.6 615.4 1178.2 615.3 1175.9 612.5 1176 612.5 1174.9 614 1174.8 613.9 1173 613.4 1173 613.3 1171.3 589 1172 588.9 1169.7 608 1169.2 607.9 1166.5 618.1 1166.3 618 1164.7 613.8 1164.7 613.7 1162.1 616.1 1162.1 616.1 1159.9 623.5 1159.8 623.5 1157 588.6 1157.1 588.6 1155.6 591 1155.6 591 1154.1 565.1 1154 565.1 1151.6 601.1 1151.8 601.1 1150.1 613.2 1150.3 613.2 1148 625.1 1148.2 625.1 1145.8 606 1145.4 606.1 1143.9 602.4 1143.9 602.5 1141.4 637.7 1142.2 637.8 1139.8 599.9 1138.7 599.9 1136.9 609.4 1137.2 609.5 1135.3 603.5 1135 603.6 1133 601 1132.9 601.1 1130.6 612 1131 612.1 1128.9 616 1129.1 616.1 1127.3 623.2 1127.7 623.3 1126 610.5 1125.3 610.5 1124.4 598.1 1123.7A557.8 557.8 0 0 0 616.9 1301.9ZM599.2 1107.3L701 1116 701.2 1113.7 697.3 1113.4 697.4 1112 690.2 1111.3 690.5 1109.2 700.2 1110.1 700.3 1108.7 686.8 1107.3 687 1105.9 681.4 1105.4 681.6 1103.3 680.3 1103.2 680.4 1101.6 685.8 1102.2 685.9 1101.1 666.1 1098.8 666.2 1097.8 650.9 1096 651.2 1093.8 664 1095.4 664.1 1094.3 665.4 1094.5 665.6 1092.5 669.7 1093 669.9 1091.9 661 1090.8 661.1 1089.5 659.8 1089.3 660 1087.5 650.1 1086.1 650.4 1084.4 660.8 1085.9 661.1 1083.7 653 1082.5 653.3 1080.7 650.4 1080.3 650.7 1078.5 652.2 1078.7 652.5 1076.7 665.2 1078.7 665.4 1077.2 633.6 1072.2 633.8 1070.8 637.6 1071.4 637.9 1069.2 629 1067.7 629.2 1066.3 624.8 1065.5 625.2 1063.1 626.3 1063.3 626.4 1062.2 623.6 1061.7 623.8 1060.4 626.8 1060.9 627.2 1058.4 633.3 1059.5 633.5 1058.2 642.8 1059.9 643 1058.8 636.1 1057.5 636.6 1054.9 642.7 1056.1 643.1 1053.8 634.2 1052.1 634.6 1050.1 640.9 1051.4 641.3 1049.5 631.4 1047.5 631.9 1045.3 637.8 1046.5 638.2 1044.4 586.3 1033.3 586.6 1032.1 587.1 1032.2 587.4 1030.7 602.3 1033.9 602.7 1032.1 603.5 1032.3 604 1030 605.2 1030.2 605.8 1027.6 605.2 1027.5 605.8 1025.2 601.6 1024.2 602.2 1021.5 602.9 1021.7 603.2 1020.4 608.8 1021.8 609.4 1019.7 637.6 1026.7 638.2 1024.2 600 1014.5 600.4 1012.9 599 1012.5 599.5 1010.6 596.5 1009.8 596.9 1008.3 592.9 1007.2 593.5 1004.8 666.9 1024.4 667.4 1022.6 600.6 1004.5 601.1 1002.9 601 1002.9 601.6 1001 661.5 1017.7 662.2 1015.4 595.5 996.5 595.8 995.1 607.8 998.6 608.2 997.3 601.1 995.2 601.7 993.4 613.4 996.8 614 994.9 617.1 995.8 617.7 993.9 615.9 993.4 616.6 991.1 610.8 989.3 611.4 987.6 638.3 995.9 639 993.6 604.3 982.8 604.8 981.3 587.9 976 588.6 973.9 612.3 981.5 612.7 980.3 611.6 980 612 978.8 610.9 978.4 611.3 977.2 608.1 976.1 608.8 974 619.8 977.7 620.2 976.5 608 972.5 608.5 971.1 609.4 971.4 610.1 969.1 606.5 967.9 607.1 966.1 610.2 967.2 611 964.9 610.6 964.8 611.1 963.3 607.1 961.9 608 959.2 622.3 964.4 622.8 963.2 626.1 964.4 626.6 963.1 618.8 960.2 619.6 958 623.6 959.5 624.5 957 622.8 956.4 623.6 954.3 651.9 965 652.5 963.2 622.5 951.8 623 950.5 618.5 948.8 619 947.5 623.2 949.2 623.8 947.9 617.5 945.4 618 944.1 622.9 946.1 623.8 943.8 618.8 941.8 619.6 939.9 618.1 939.3 618.7 937.8 616.1 936.8 617.1 934.4 652.1 948.7 652.9 947 623.7 934.9 624.4 933.2 625.8 933.8 626.6 932 624 930.9 624.7 929.2 623.3 928.6 624 927.1 642.4 935A557.8 557.8 0 0 0 599.2 1107.3ZM648.9 920.4L656.4 923.9 657.4 921.8 656.4 921.3 657.2 919.7 674.8 928.1 675.6 926.4 665.6 921.6 666.3 920.2 664.3 919.2 664.9 918.1 657.9 914.7 658.5 913.4 662.8 915.5 663.3 914.5 672.3 918.9 672.8 917.8 670.9 916.9 672 914.7 680.1 918.7 681.1 916.8 683.9 918.2 684.3 917.2 667.7 908.8 668.5 907.2 673.1 909.5 674.2 907.4 672.2 906.3 673.4 903.9 656.6 895.2 657.4 893.7 646.3 887.9 647.6 885.5 653.6 888.7 654.4 887.2 645.4 882.4 646.7 880 646.2 879.7 647.3 877.8 669 889.6 670.3 887.4 669.1 886.7 670 885.1 680 890.7 680.8 889.3 674 885.5 675.3 883.2 685.6 889 686.5 887.4 665.4 875.3 666.2 873.9 659.1 869.8 660.5 867.4 666.3 870.8 667.7 868.3 661 864.4 662.1 862.4 689.3 878.6 690.3 877 692 878 693.1 876 687.9 872.8 689.2 870.6 696.5 875 697.4 873.5 692.1 870.2 693.1 868.6 665 851.2 666.4 848.9 676.3 855.2 677.3 853.6 671.2 849.8 672.7 847.4 676.5 849.8 677.4 848.4 646.6 828.7 647.9 826.6 675 844.1 676 842.6 673 840.6 673.7 839.6 708.9 862.6 709.8 861.2 674 837.6 675.2 835.8 723.4 867.9 724.6 866.1 689.1 842.3 690.1 840.8 689.2 840.3 690.2 838.8 663.9 820.9 665.4 818.6 686.6 833.1 688 831 710.7 846.7 711.9 845 706.4 841.2 707.8 839.1 712.3 842.3 713.2 841.1 712 840.2 712.8 839.1 706.7 834.7 708.1 832.7 684.4 815.7 685.6 814 721.9 840.4 722.8 839.2 712.6 831.7 712.6 831.7 704.6 825.9A557.8 557.8 0 0 0 648.9 920.4ZM714.6 812.7L703 803.6 704.1 802.2 702 800.6 703 799.4 690.9 789.9 692.3 788 730 817.9 731.1 816.4 754.8 835.3 756 833.8 715.1 800.8 716.1 799.5 717.6 800.8 718.5 799.7 745.3 821.6 746.8 819.8 717 795.4 717.8 794.5 721.5 797.6 723.1 795.6 748.4 816.6 749.9 814.7 750.1 814.8 751.8 812.8 751.4 812.4 752.7 810.8 755.6 813.3 756.9 811.8 725.8 785.1 727.3 783.3 720.3 777.2 721.6 775.7 719.1 773.5 720.1 772.4 725.5 777.2 727.4 775 725.9 773.7 727.1 772.4 726.4 771.9 728.4 769.7 724.1 765.9 725.7 764 734.9 772.3 736.4 770.7 732.8 767.3 734.2 765.8 736.8 768.3 737.8 767.2 734 763.7 735.4 762.3 737.3 764 738.6 762.6 730.8 755.3 732.3 753.7 738.6 759.7 739.5 758.7 738.1 757.5 739 756.6 732.8 750.6 733.9 749.5 733.3 749 734.5 747.8 767.1 779.5 768 778.6 761 771.8 762.7 770.1 761.6 769 763.5 767.1 770.4 773.9 771.2 773.1 783.7 785.5 784.8 784.4 772.1 771.7 773.2 770.6 735.7 732.8 737.4 731.2 786.2 780.8 786.6 780.5 763.8 757.3A557.8 557.8 0 0 0 714.6 812.7ZM775.7 746L785.8 756.9 787.8 755 774.7 740.8 776.1 739.5 769.5 732.2 770.6 731.2 776.6 737.9 777.5 737.1 778.4 738.2 780.5 736.3 770.2 724.8 771 724 798.8 755.2 800.2 753.9 772 722 774 720.3 773.1 719.3 775.2 717.4 803.6 750.1 805.8 748.3 788.3 727.9 789.7 726.7 788.3 724.9 789.6 723.8 780 712.5 782.2 710.6 787.6 717.1 788.7 716.2 792.8 721 794.7 719.5 796.9 722.1 798.5 720.7 797.8 719.7 799.9 718 818.3 740.7 820 739.3 802.3 717.3 804.1 715.9 799.3 709.9 800.7 708.7 805.1 714.2 807 712.7 798.9 702.4 799.9 701.6 800.8 702.7 802.6 701.2 799.4 697.1 800.8 696 806.5 703.3 807.9 702.3 806.1 699.9 807.3 699 806.9 698.5 808.5 697.2 813.9 704.3 815.3 703.2 817.5 706.1 819.5 704.7 829.6 718.2 831.2 717 835.8 723.3 837.6 722 849.1 737.7 850.9 736.4 823.8 699.1 824.9 698.3 797.5 660.3 798.9 659.2 829.6 702A557.8 557.8 0 0 0 775.7 746ZM842.7 692.8L858.3 715.9 859.7 714.9 837.3 681.5 838.6 680.6 835.8 676.3 837.6 675.2 830.9 665 832.5 664 833.1 664.8 835 663.6 841.6 673.6 843.4 672.4 847.1 678 848.4 677.2 847.5 675.7 849.7 674.3 850.9 676 852.2 675.2 834.7 647.5 837.4 645.8 846 659.7 848.3 658.3 876.9 704.6 879.1 703.3 866.4 682.5 868.7 681.2 870.7 684.5 872.4 683.5 878 692.8 880.3 691.5 881.4 693.4 882.9 692.5 877.4 683 878.8 682.2 865.1 658.6 867.4 657.2 885.6 688.7 887.5 687.6 885.5 684 887.8 682.7 884 675.9 885.2 675.2 877.6 661.7 880.3 660.3 893.1 683.3 894.7 682.3 895.7 684.1 896.6 683.5 890.1 671.6 892 670.6 895.2 676.5 897.5 675.3 891.1 663.6A557.8 557.8 0 0 0 842.7 692.8ZM905.8 655.9L895.5 635.1 897.3 634.2 902.3 644.3 904.1 643.5 903.4 641.9 905.3 640.9 908.6 647.6 910.6 646.6 910.2 645.8 912.1 644.9 918.8 659 920.9 658 938.3 694.8 940 694 917.5 645.6 919.6 644.6 914.5 633.7 916.6 632.7 921 642.3 922.5 641.6 923.4 643.5 924.9 642.9 922 636.3 923.2 635.8 924 637.6 925.5 636.9 926.2 638.5 928.4 637.5 927.4 635.3 929.8 634.2 929.2 632.9 931.5 632 943.3 659.6 945.1 658.9 936.2 637.8 937.7 637.1 938 637.8 939.7 637.1 932.6 620.1 935.2 619.1 947.8 649.7 949.4 649 946.9 643 948.6 642.3 949 643.4 950.9 642.7 951.6 644.6 953.6 643.9 948.5 631.1 949.6 630.7 951.6 635.6A557.8 557.8 0 0 0 905.8 655.9ZM966.4 630L971.5 644.2 972.5 643.8 971.7 641.6 973.9 640.8 973.2 639 974.5 638.5 974.9 639.6 976 639.3 977.2 642.8 978.4 642.4 969.6 616.9 971.9 616.1 977.6 633 978.9 632.6 977.9 629.4 980 628.7 971.2 602.4 973.2 601.7 987.8 646 989.2 645.6 985.8 635.2 988.2 634.4 983.2 618.8 984.7 618.3 985.2 619.8 987.8 619 986.3 614.2 987.8 613.7 984.3 602.5 985.8 602 985 599.5 986.1 599.2 989 608.5 990.4 608.1 991.5 611.6 993.9 610.9 995.1 615 996.7 614.5 995 608.8 996.3 608.4 993.7 599.6 995.1 599.2 994.8 598.3 996 598 998.1 605.4 999.3 605 1005.1 625.5 1006.8 625.1 1007.5 627.7 1009 627.3 1008.3 625 1009.6 624.7 1010.8 629.2 1011.9 628.9 1008.6 616.8A557.8 557.8 0 0 0 966.4 630ZM1023.8 612.8L1029.2 635 1031.7 634.4 1021.4 590.9 1024.4 590.2 1031.9 622.8 1033.4 622.4 1027.3 595.8 1029.9 595.2 1034.6 616.2 1035.9 615.9 1037.4 622.9 1038.6 622.6 1038.9 623.7 1040.8 623.2 1042.5 631.3 1044.7 630.8 1043.6 625.2 1046.2 624.7 1044.1 614.6 1045.3 614.3 1046.7 621.4 1048.8 621 1051 632.4 1053.3 632 1050.6 618 1053.3 617.5 1046.6 582 1049.3 581.5 1055.1 613.2 1057.6 612.7 1060.4 628.8 1061.9 628.6 1061.1 624.1 1063.6 623.7 1062.3 616.4 1062.6 616.3 1060.7 605.2A557.8 557.8 0 0 0 1023.8 612.8ZM1076.1 602.8L1077.9 615.6 1079.7 615.4 1075.3 583.6 1076.5 583.5 1076.1 580.7 1077.4 580.5 1084 629.3 1086.1 629.1 1084.6 617.5 1086.8 617.3 1084.4 598.3 1085.9 598.1 1083.9 582.1 1086.7 581.8 1087.2 586.2 1089.1 586 1088.3 579.6 1091 579.3 1091.6 585 1093.8 584.8 1094.1 587 1095.3 586.9 1094.9 583.2 1097.7 582.9 1097.1 577.4 1099.4 577.1 1099.7 580 1101.5 579.9 1102.6 591.5 1103.3 591.5 1104.1 599.5A557.8 557.8 0 0 0 1076.1 602.8ZM1119.6 598.3L1118.7 584.8 1120.1 584.7 1120.6 593.4 1123.4 593.2 1122.9 585.9 1125.4 585.8 1125.6 587.9 1127.8 587.8 1127.9 589.7 1130 589.6 1129.9 587 1132.3 586.9 1133.1 606.8 1134.4 606.8 1134.6 612.4 1135.7 612.4 1135.6 609.2 1137.2 609.2 1137.2 609.8 1139.4 609.8 1139.3 606.9 1139.4 606.9 1139.1 597.4A557.8 557.8 0 0 0 1119.6 598.3Z"/><path id="skp" d="M1155 807.2L1155 753.5 1157.1 753.5 1157 789 1158.9 789 1158.3 845.2 1160.6 845.2 1161.6 789.1 1162.7 789.2 1162.4 803.2 1164.3 803.3 1164.1 810.6 1165.6 810.6 1167 764.2 1169.7 764.3 1167.9 811.8 1168.9 811.8 1169.6 793.5 1171.1 793.5 1169.6 826.5 1170.5 826.5 1171.8 798.3 1173.6 798.3 1172.8 812.8 1174.5 812.8 1177 769.5 1179.3 769.6 1176.4 814.9 1177.9 815 1180.9 771.2 1182.9 771.4 1178.6 830 1179.9 830.1 1180.8 818.2 1181.9 818.3 1179.9 843 1181.2 843.1 1183.4 817.5 1184.7 817.6 1186.2 800.2 1187.2 800.3 1186.1 812.4 1187.2 812.5 1189.7 786.5 1192.3 786.8 1187.9 830.9 1189.6 831.1 1189.7 830.6 1191.1 830.7 1192.7 816.5 1194.6 816.7 1191.5 843.3 1192.6 843.4 1205 740.5 1207 740.7 1196.6 823 1198.5 823.3 1197.9 828.1 1199.8 828.3 1198.7 836.8 1200.6 837.1 1200.3 839.2 1202.1 839.5 1211.4 776.7 1214.3 777.1 1214.3 777.3 1216.3 777.7 1208.5 825.6 1210.3 825.9 1206.9 845.7 1208.1 845.9 1212.5 819.9 1214.1 820.1 1222.8 771 1224.6 771.4 1221.4 788.6 1222.8 788.9 1216 825.5 1217.9 825.8 1219.1 819.9 1220.4 820.2 1217.2 836.8 1218.9 837.1 1220.8 827.4 1221.9 827.6 1219.9 837.3 1221.3 837.6 1219.8 844.8 1221.3 845.1 1221.2 845.3 1222.9 845.7 1226.6 829.2 1228.3 829.6 1227.4 833.2 1229.3 833.6 1231 826.6 1232.6 827 1233.8 822 1235 822.3 1221.2 880 1222.7 880.4 1219.8 892.2 1221.6 892.6 1227.3 870.2 1228.9 870.6 1221.5 899.2 1223.1 899.7 1252.6 788.7 1253.6 789 1265.4 745.2 1267.5 745.7 1251.8 802.8 1253.6 803.3 1227.8 895.3 1229.5 895.8 1244.4 843.9 1245.3 844.1 1258.4 799.2 1260 799.7 1249.1 836.5 1250.6 837 1272.3 764.9 1275.2 765.8 1246.5 858.6 1248 859.1 1266 801.9 1267.4 802.3 1249.8 857.4 1251.4 857.9 1254.9 847.1 1255.8 847.4 1257.3 842.8 1259.7 843.6 1268 819 1269.4 819.5 1240.6 904 1242.6 904.7 1291.4 765.4 1294 766.3 1269.7 834.3 1270.5 834.6 1264.4 851.7 1266 852.3 1253.5 886.5 1255 887.1 1247.7 906.6 1249.5 907.2 1274.2 842.3 1275.3 842.7 1277.7 836.6 1279.2 837.2 1277.5 841.5 1278.9 842.1 1279.3 841.2 1281.2 842 1265.4 881.1 1267.5 882 1283.6 842.9 1284.8 843.4 1280.6 853.5 1281.9 854 1293.7 826.1 1294.6 826.5 1309.3 792 1311.1 792.8 1284 855.7 1285.4 856.4 1300.3 822.2 1302.3 823.1 1291.4 847.6 1292.7 848.2 1290.6 852.9 1291.6 853.4 1290 856.9 1291.4 857.6 1302.1 834.3 1303.3 834.8 1277.6 890.3 1279.1 890.9 1297 852.7 1298.7 853.5 1302.8 844.8 1303.8 845.3 1271.8 911.8 1273.7 912.7 1275.8 908.5 1277.3 909.2 1313.2 837.3 1314.8 838.2 1319.4 829 1320.4 829.5 1301.5 866.6 1303.2 867.5 1312.7 848.9 1313.9 849.6 1303.9 868.9 1305.2 869.6 1329.8 822.7 1331.3 823.5 1330.5 825.1 1331.3 825.6 1323 841.2 1324.8 842.2 1314.1 862 1315.6 862.8 1342.4 814.1 1343.9 815 1294 904.9 1295.2 905.5 1292.1 911.1 1293.4 911.9 1316.3 871.6 1317.6 872.3 1333.5 844.8 1335.1 845.7 1328 857.9 1328.9 858.4 1299.6 908.4 1301.2 909.3 1315 886.1 1316.6 887 1369.8 798.9 1372.2 800.4 1366.2 810.2 1368.7 811.8 1360 825.9 1361.6 826.9 1333.5 871.5 1335.1 872.5 1321.4 894.1 1322.6 894.9 1362 833.7 1363.4 834.6 1353.8 849.2 1355.3 850.2 1329.4 889.7 1331 890.7 1317 911.8 1318.2 912.6 1354.8 858.1 1356.3 859 1395.9 800.7 1398.3 802.3 1316 921.7 1317.1 922.5 1338.9 891.2 1339.8 891.8 1358.5 865.2 1359.5 865.8 1345.8 885.1 1347.2 886 1329.6 910.6 1331.5 911.9 1313 937.4 1314.4 938.5 1327.6 920.6 1329.3 921.9 1389.9 841 1391.4 842.1 1369.7 870.8 1370.7 871.6 1410.9 818.8 1413.5 820.8 1338.3 918.1 1340.1 919.5 1389.8 856.2 1390.8 857.1 1386.9 862 1387.8 862.8 1400.8 846.5 1402.1 847.5 1323.2 945.7 1324.3 946.6 1403.5 849 1405.9 850.9 1350.3 918.3 1351.5 919.2 1350.2 920.7 1351.6 921.9 1333.2 943.7 1334.2 944.5 1352.1 923.4 1353.3 924.4 1385.8 886.6 1386.5 887.2 1408.9 861.3 1410.6 862.8 1387.1 889.7 1388 890.6 1355.6 927.4 1356.7 928.4 1379.9 902.3 1380.8 903.1 1382.6 901.1 1383.9 902.2 1382.9 903.3 1383.6 904 1385.6 901.8 1386.3 902.5 1394.2 893.9 1395.3 895 1396.1 894 1397.2 895 1361.8 933 1363.4 934.5 1426 868.3 1427.4 869.6 1432.7 864.1 1434.6 866 1399.8 902 1401.3 903.5 1384.3 920.9 1385.5 922.1 1384.4 923.2 1385.7 924.5 1416.7 893.5 1417.9 894.8 1382.1 930.2 1383 931 1356 957.5 1357 958.5 1364.5 951.2 1365.7 952.5 1386.3 932.6 1387 933.4 1426 896.2 1427.1 897.3 1379.1 942.8 1379.6 943.4 1399.4 924.8 1400.7 926.1 1392.7 933.5 1393.6 934.5 1406.3 922.7 1407.5 924 1352.7 974.1 1353.6 975 1408.7 925 1410 926.5 1425.1 912.9 1425.7 913.6 1364.7 968.1 1365.7 969.2 1449.9 894.9 1451.5 896.7 1441.4 905.5 1442.4 906.7 1402.1 941.5 1403.1 942.7 1361.1 978.7 1362.2 979.9 1389.4 957 1390.9 958.8 1419.7 934.9 1420.5 935.9 1399.3 953.4 1400.3 954.5 1396.8 957.4 1398.4 959.3 1413.6 947 1414.8 948.5 1479 897.4 1480.9 899.8 1425.3 943.4 1426.3 944.6 1389.8 973 1391.1 974.7 1410.5 960 1411.3 961 1493.4 898.8 1494.9 900.8 1470.7 918.9 1472.4 921.2 1402.4 972.7 1403.6 974.3 1441.4 946.8 1442.6 948.5 1443.5 947.9 1444.5 949.3 1442.3 950.8 1443.4 952.3 1400.4 982.5 1401.2 983.7 1477.3 930.7 1478.8 932.9 1429.8 966.4 1430.3 967.2 1446.1 956.4 1446.8 957.4 1443 960A347.8 347.8 0 0 0 1155 807.2ZM1448.5 968.4L1428.7 981 1429.4 982.1 1457.5 964.4 1458.5 965.9 1432.2 982.3 1432.9 983.4 1439.3 979.5 1439.9 980.6 1436.4 982.7 1437.2 984 1435.9 984.8 1436.4 985.7 1448 978.7 1448.8 980 1458.1 974.5 1458.8 975.7 1515.5 942.2 1516.6 944.1 1452.3 981.6 1453 982.8 1522.8 942.5 1524 944.6 1400.8 1014.8 1401.7 1016.5 1462.5 982.4 1463.3 983.8 1435.3 999.3 1436 1000.6 1404.7 1017.8 1405.4 1019.2 1435.2 1003 1436.1 1004.6 1477.6 982.4 1478.5 984.2 1483.4 981.6 1483.9 982.6 1498 975.2 1499.1 977.3 1533.9 959.4 1535.3 962.2 1440.8 1010.1 1441.6 1011.7 1435.9 1014.6 1436.2 1015.3 1451.8 1007.6 1452.4 1009 1449.5 1010.4 1450 1011.5 1455.7 1008.8 1456.4 1010.2 1455.2 1010.8 1456 1012.5 1483 999.8 1483.9 1001.7 1458.4 1013.6 1459.2 1015.3 1502.3 995.4 1503.2 997.4 1501.5 998.2 1502.4 1000.1 1491.7 1004.9 1492.1 1005.8 1414.5 1040.1 1415.1 1041.4 1476.9 1014.4 1477.7 1016.3 1430.8 1036.5 1431.6 1038.3 1454.6 1028.6 1455.1 1029.8 1494.2 1013.5 1494.8 1014.9 1460.6 1029 1461.1 1030.2 1500.7 1014.1 1501.5 1016.1 1498.8 1017.2 1499.5 1019 1466.7 1032 1467.3 1033.5 1488.3 1025.4 1489 1027.2 1488.9 1027.3 1489.3 1028.6 1490.7 1028 1491.1 1029.2 1510.9 1021.8 1511.5 1023.4 1510.2 1023.8 1510.9 1025.8 1519.3 1022.7 1520.1 1024.9 1536.9 1018.9 1537.9 1021.8 1524.6 1026.4 1525.4 1028.9 1462.5 1050.3 1463.2 1052.3 1513.9 1035.4 1514.3 1036.7 1517 1035.8 1517.4 1037.2 1523.5 1035.3 1523.8 1036.4 1562.7 1023.9 1563.4 1025.9 1490.3 1049 1490.6 1050.2 1516.8 1042 1517.1 1043 1497.4 1049.1 1497.8 1050.6 1495.9 1051.2 1496.4 1053 1483.4 1056.9 1483.8 1058 1454.8 1066.6 1455.2 1068 1472.8 1062.9 1473.3 1064.4 1502.3 1056.1 1502.6 1057.4 1496.7 1059 1497.2 1060.7 1563 1042.6 1563.8 1045.4 1509.9 1059.9 1510.3 1061.6 1521.4 1058.7 1521.8 1060.3 1504.7 1064.7 1505.1 1066.6 1443.4 1082.2 1443.7 1083.6 1573 1051.6 1573.5 1053.7 1553.7 1058.5 1554.2 1060.4 1505.3 1072 1505.7 1073.6 1508 1073.1 1508.4 1074.9 1476.7 1082.1 1477.3 1084.7 1512 1077.1 1512.3 1078.7 1554.4 1069.7 1554.9 1072.1 1500 1083.5 1500.2 1084.4 1526.4 1079.1 1526.9 1081.3 1524.6 1081.7 1525 1083.8 1515.4 1085.7 1515.8 1087.8 1505.5 1089.7 1505.8 1091.7 1460.4 1099.9 1460.8 1101.7 1581.3 1080.7 1581.7 1083.1 1494.3 1097.8 1494.5 1098.7 1570.3 1086.2 1570.8 1089 1511.7 1098.4 1511.9 1099.6 1468 1106.4 1468.3 1108.6 1428.7 1114.5 1429 1116.4 1547.2 1099.7 1547.5 1102.1 1495.4 1109.1 1495.5 1110.4 1560.6 1101.9 1560.9 1104.7 1487.7 1113.8 1487.9 1115.2 1477.5 1116.4 1477.7 1118.3 1490.9 1116.8 1491.1 1118.4 1513.4 1116 1513.6 1118 1459.7 1123.5 1459.8 1124.9 1508.7 1120.1 1508.8 1121.4 1417 1130.1 1417.1 1131.9 1521.9 1122.7 1522 1124.1 1575.4 1119.6 1575.6 1122.5 1514.1 1127.2 1514.3 1129.6 1489.7 1131.4 1489.7 1132.2 1582.9 1125.9 1583.2 1129.3 1496.5 1134.5 1496.5 1136.1 1480.4 1137 1480.4 1138.4 1465.3 1139.1 1465.4 1140.8 1496.3 1139.3 1496.4 1140.3 1471.7 1141.4 1471.8 1143.1 1445.8 1144.1 1445.8 1145.7 1538.2 1142.7 1538.3 1145.5 1508.6 1146.2 1508.6 1148.3 1496.5 1148.6 1496.6 1150.1 1495.3 1150.1 1495.4 1151.7 1521.5 1151.4 1521.5 1153.6 1466.4 1153.8 1466.4 1155.5 1583.7 1155.7 1583.7 1157.6 1492.8 1157 1492.8 1158 1464.4 1157.8 1464.4 1160.1 1491.9 1160.6 1491.8 1162.4 1480.6 1162.2 1480.5 1163.8 1537.3 1165.4 1537.3 1167 1489.2 1165.5 1489.1 1167.3 1420.2 1164.8 1420.1 1166.6 1508.5 1170.5 1508.4 1172.4 1509.7 1172.4 1509.6 1174.3 1510.2 1174.4 1510.1 1176.1 1460.3 1173.2 1460.1 1175.5 1519.1 1179.5 1519 1181.6 1505.6 1180.6 1505.4 1182.5 1514.7 1183.2 1514.5 1184.9 1510.4 1184.6 1510.2 1186.1 1539.8 1188.7 1539.5 1191.5 1487.5 1186.6 1487.4 1188.1 1540.9 1193.4 1540.6 1196.2 1438 1185.3 1437.9 1186.7 1489.2 1192.5 1489.1 1193.8 1508.3 1196.1 1508.1 1198.1 1555.1 1203.8 1554.8 1205.7 1542.9 1204.2 1542.5 1207.3 1564.5 1210.3 1564.1 1213.4 1481.3 1201.6 1481.1 1202.9 1530.4 1210.1 1530.2 1211.6 1575.8 1218.4 1575.5 1220.6 1494.2 1208 1494 1208.9 1439 1200.2 1438.7 1202.3 1513.6 1214.8 1513.2 1216.9 1516.3 1217.4 1516 1219.4 1493 1215.3 1492.7 1216.6 1469.6 1212.4 1469.3 1214.2 1481.3 1216.4 1481 1217.9 1517.3 1224.9 1517.1 1226 1505.6 1223.7 1505.3 1225.2 1500.4 1224.2 1500.1 1225.6 1506.3 1226.8 1506.1 1227.9 1503.5 1227.4 1503.2 1228.7 1500.5 1228.1 1500.3 1229.4 1513.8 1232.3 1513.6 1233.6 1430.6 1215.4 1430.1 1217.3 1488.5 1230.5 1488 1232.5 1437.8 1220.8 1437.5 1222 1493.4 1235.3A347.8 347.8 0 0 0 1448.5 968.4ZM1491 1244.7L1524 1253.5 1523.6 1255.1 1501.6 1249.1 1501.4 1250.1 1434.6 1231.7 1434 1233.8 1571.2 1272.6 1570.5 1275.1 1527 1262.5 1526.6 1264 1530.5 1265.2 1529.8 1267.6 1492.4 1256.4 1491.8 1258.3 1491.8 1258.3 1491.1 1260.3 1507 1265.2 1506.6 1266.3 1537.4 1276 1536.8 1278.2 1463.8 1254.6 1463.2 1256.4 1447.8 1251.3 1447 1253.6 1488.4 1267.6 1487.9 1269.1 1562.3 1294.6 1561.2 1297.6 1516.7 1282 1516.1 1283.7 1419.7 1249.3 1418.9 1251.4 1557.3 1301.9 1556.1 1304.9 1511.8 1288.4 1511.4 1289.3 1515.7 1290.9 1514.8 1293.3 1536 1301.5 1535.1 1303.9 1539.4 1305.6 1538.5 1308.1 1505.6 1295 1504.9 1296.7 1486.6 1289.3 1486.1 1290.6 1409.4 1259.2 1408.6 1261.1 1548.9 1319.8 1548 1321.9 1478.3 1292.4 1477.6 1294 1478.6 1294.5 1478 1295.7 1477.6 1295.6 1477 1296.8 1400.7 1263.2 1400.1 1264.8 1404.8 1266.9 1404.1 1268.5 1481.9 1304 1481.4 1305.1 1497 1312.2 1496.4 1313.5 1481 1306.3 1480.2 1308 1491.8 1313.4 1491.3 1314.5 1475.1 1306.8 1474.4 1308.2 1471.7 1306.9 1470.8 1308.8 1456.7 1301.9 1456.1 1303.1 1512.1 1330.7 1511 1332.9 1454.8 1304.9 1454.3 1305.9 1492.7 1325.2 1491.7 1327.1 1443.6 1302.5 1442.8 1304 1428.2 1296.5 1427.8 1297.2 1437.2 1302.2 1436.6 1303.4 1427.1 1298.3 1426.5 1299.3 1436.1 1304.4 1435.3 1305.9 1454.3 1316.1 1453.6 1317.4 1452.7 1317 1452.3 1317.8 1436.6 1309.2 1436 1310.2 1445 1315.1 1444.1 1316.8 1453.3 1321.9 1452.6 1323.3 1519.1 1360.9 1518 1362.7 1416.1 1304.4 1415.3 1305.8 1435.5 1317.5 1434.8 1318.7 1468.3 1338.3 1467.4 1340 1465.8 1339.1 1464.7 1340.9 1406.1 1305.7 1405.4 1306.7 1469.7 1345.7 1468.8 1347.2 1429.7 1323.2 1429.1 1324.3 1390.4 1300.4 1389.3 1302.2 1437.9 1332.7 1437.4 1333.4 1459.5 1347.4 1458.4 1349.1 1468.7 1355.7 1467.6 1357.5 1399 1313.1 1397.7 1315.1 1411.9 1324.4 1410.5 1326.4 1466 1363.6 1464.4 1366 1412.8 1330.8 1412.1 1331.8 1472.8 1373.6 1471.8 1375 1458.7 1365.9 1457.1 1368.2 1379.1 1313.1 1377.8 1314.8 1420.1 1345.1 1419 1346.6 1441.8 1363.2 1441.2 1364.2 1413.2 1343.7 1412.2 1345.1 1467.7 1386.1 1466.6 1387.6 1382.7 1325 1381.8 1326.2 1443.7 1373 1442.7 1374.3 1459 1386.7 1458.2 1387.7 1455.9 1386 1454.5 1387.7 1438.4 1375.2 1437.3 1376.6 1463.8 1397.4 1462.7 1398.9 1438.9 1380 1438.1 1381 1447.2 1388.2 1446 1389.7 1466.4 1406.2 1464.9 1408.1 1434.3 1383.1 1433 1384.7 1358.9 1323.4 1357.6 1324.9 1401.1 1361.4 1400.4 1362.2 1413.1 1372.9 1411.8 1374.3 1463.1 1418.1 1461.9 1419.5 1413.8 1378.1 1412.7 1379.4 1394.2 1363.4 1393.4 1364.4 1388.1 1359.7 1387.5 1360.5 1433.9 1401.5 1432.5 1403 1377.8 1354.1 1376.8 1355.2 1360.3 1340.3 1359.5 1341.3 1433.8 1408.9 1432.4 1410.5 1451.6 1428.2 1450.1 1429.7 1388.6 1372.4 1387.6 1373.5 1439 1421.8 1437.8 1423.2 1420.1 1406.4 1418.6 1408 1383.7 1374.5 1382.4 1375.8 1373.8 1367.5 1372.8 1368.5 1454.9 1449.1 1453.1 1451 1389.1 1387.5 1388.1 1388.4 1397.2 1397.5 1396.4 1398.3 1390.1 1391.9 1388.8 1393.2 1408.6 1413.4 1407.4 1414.6 1402.8 1409.8 1401.8 1410.8 1421.8 1431.6 1420.8 1432.6 1402.1 1413 1401.1 1414 1389.2 1401.5 1388.5 1402.2 1448 1465.1 1445.8 1467.1 1363.2 1378.5 1361.9 1379.7 1385.5 1405.3 1384.5 1406.1 1356.3 1375.2 1355.3 1376.2 1380 1403.4 1379.3 1404 1375.1 1399.4 1374.2 1400.3 1431.2 1464 1429.8 1465.2 1410.9 1443.8 1409.3 1445.1 1397.5 1431.7 1396.6 1432.4 1390.1 1424.9 1388.7 1426.2 1401.7 1441.4 1400.5 1442.4 1362.5 1397.9 1361.8 1398.5 1386.5 1427.5 1385 1428.8 1405.9 1453.6 1404.6 1454.7 1397.2 1445.8 1395.5 1447.1 1380.7 1429.2 1379.7 1430 1372.3 1420.9 1371.6 1421.5 1378.6 1430.1 1377.1 1431.3 1340.2 1385.4 1338.5 1386.8 1341.6 1390.8 1340.8 1391.4 1400.5 1467.4 1399.2 1468.5 1378.7 1442.2 1377.3 1443.2 1351 1409.1 1349.6 1410.1 1384 1455.2 1382.4 1456.4 1377.2 1449.4 1375.7 1450.5 1351 1417.4 1349.5 1418.5 1338.6 1403.8 1336.8 1405.1 1382.8 1468.3 1381.1 1469.5 1363.1 1444.5 1362.4 1445.1 1350.4 1428.3 1348.9 1429.3 1377.8 1470.2 1376.2 1471.3 1388.2 1488.5 1385.8 1490.1 1337.6 1420.1 1336.5 1420.8 1385.7 1492.7 1383.4 1494.3 1351.8 1447.3 1350 1448.5 1356.3 1457.9 1355.2 1458.7 1346.4 1445.4A347.8 347.8 0 0 0 1491 1244.7ZM1337.4 1451.1L1319.6 1422.2 1318.4 1423 1305.2 1401.3 1303.9 1402.1 1338.2 1459 1336.9 1459.7 1317.1 1426.5 1315.7 1427.2 1366.1 1512.5 1364.1 1513.7 1325.2 1447 1323.5 1448 1324.3 1449.5 1323.5 1450 1340.7 1480 1339.1 1480.8 1322.4 1451.3 1321.5 1451.8 1346.7 1496.6 1344.4 1497.9 1328.3 1468.7 1327.5 1469.1 1310 1437.3 1308.6 1438.1 1329.7 1476.9 1327.7 1477.9 1344.2 1508.8 1342 1510 1295.3 1421.3 1293.7 1422.1 1321 1474.6 1319.3 1475.4 1341.5 1518.6 1338.6 1520 1344.7 1532.1 1342 1533.4 1301.9 1452.3 1300.5 1453 1317.2 1487.1 1316.3 1487.6 1342.9 1542.5 1340.2 1543.8 1289.6 1437.7 1288 1438.5 1273.6 1407.9 1272.2 1408.6 1302.8 1474.7 1300.9 1475.6 1277.4 1423.8 1275.5 1424.6 1311.2 1504.5 1309.5 1505.2 1311.4 1509.5 1310.2 1510 1269.8 1417.7 1268.7 1418.2 1294.9 1478.9 1294 1479.3 1303.4 1501.2 1302.2 1501.7 1271.1 1428.4 1269 1429.3 1311.8 1532.2 1308.9 1533.4 1300.8 1513.5 1298.8 1514.3 1271.6 1446.3 1270.1 1446.8 1290.3 1498.1 1288.7 1498.8 1287.2 1494.9 1285.6 1495.6 1288.5 1503.2 1286.8 1503.8 1292.1 1517.8 1290.1 1518.5 1266.6 1455.4 1265 1456 1261.5 1446.4 1260 1446.9 1247.9 1413.3 1245.8 1414 1268.9 1479.6 1267.4 1480.1 1264.4 1471.7 1263.5 1472 1274.3 1503.4 1271.5 1504.4 1263.9 1481.4 1263 1481.7 1250 1442.4 1248.4 1443 1272.1 1516.2 1270.9 1516.5 1263.3 1492.8 1261.9 1493.3 1263.6 1498.6 1262 1499.1 1260.1 1492.8 1258.4 1493.4 1251.9 1472.1 1250.2 1472.6 1245.3 1456.4 1243.7 1456.8 1246.3 1465.8 1245.1 1466.2 1241.8 1454.7 1240.6 1455 1256.3 1510 1254.7 1510.4 1252.7 1503.3 1250.7 1503.9 1259.8 1536.9 1257.6 1537.5 1260.4 1547.7 1257.7 1548.5 1244.8 1499.3 1243.2 1499.8 1239.2 1484.4 1237.5 1484.9 1232.5 1464.9 1231.5 1465.2 1236.9 1486.7 1235.4 1487.1 1235.7 1488.4 1233.8 1488.8 1241.8 1522.5 1239.8 1522.9 1238.6 1517.4 1236.8 1517.8 1223.5 1459 1221.7 1459.4 1225.6 1477.2 1223.7 1477.6 1218 1450.8 1215.7 1451.2 1233.4 1537.2 1230.4 1537.8 1223.1 1500.6 1221.7 1500.9 1215.1 1466.4 1213.6 1466.7 1225.7 1531.1 1224.3 1531.3 1213 1469.9 1211.9 1470.1 1213.1 1476.3 1211.9 1476.5 1214.5 1490.9 1212.6 1491.2 1212.4 1489.7 1210.5 1490 1209.2 1482.4 1207.7 1482.7 1203.4 1455.5 1201.7 1455.7 1197.6 1429.1 1195.6 1429.4 1200.6 1463.1 1199.3 1463.3 1201.7 1479.9 1199.8 1480.1 1194.6 1441.9 1192.9 1442.1 1199 1488.5 1198 1488.7 1198.4 1491.6 1196.9 1491.8 1202.6 1537.7 1199.5 1538.1 1194.6 1495.9 1192.8 1496.2 1195.9 1523.8 1194.2 1524 1189.1 1475.3 1187.5 1475.5 1189.1 1491.6 1188 1491.7 1187.7 1489 1186.8 1489.1 1187.1 1492.3 1186.1 1492.4 1186.5 1496.7 1184.6 1496.9 1192 1582.9 1188.8 1583.2 1183.3 1512.8 1181.2 1512.9 1180 1496.5 1178 1496.7 1176.5 1474.2 1174.9 1474.3 1176.3 1496.7 1175.3 1496.8 1179 1560.2 1176 1560.4 1170.8 1460.2 1169.2 1460.3 1170.7 1493.2 1169.6 1493.2 1170.7 1516.6 1169.4 1516.7 1168.6 1495.7 1167.5 1495.8 1167.6 1498.3 1166 1498.4 1168.8 1583.3 1166.6 1583.4 1162.5 1431.8 1161.1 1431.8 1162.7 1502.7A347.8 347.8 0 0 0 1337.4 1451.1ZM1153.1 1502.8L1153.2 1483.7 1151.6 1483.7 1151.4 1497.4 1150.5 1497.3 1150.4 1509.7 1148.3 1509.7 1149.5 1446.2 1147.9 1446.1 1145.7 1535.1 1143.5 1535.1 1144.7 1495.9 1143.6 1495.9 1143.6 1494.8 1142.3 1494.8 1142.6 1488.1 1141.1 1488 1139.5 1526.9 1138.1 1526.8 1136.3 1566.9 1133.6 1566.7 1135 1539.1 1132.3 1539 1136.3 1470.9 1135 1470.8 1133.4 1496.1 1131.9 1496 1135.5 1443.2 1133.5 1443.1 1129.4 1498.8 1127.7 1498.7 1128.4 1489.4 1127 1489.3 1128.2 1475.6 1126.4 1475.4 1127.7 1461 1126.3 1460.9 1123.2 1494.2 1121.5 1494 1121.3 1496.1 1119.8 1495.9 1119.7 1497 1118 1496.9 1119.7 1481.4 1118.6 1481.3 1120.1 1468.4 1118.5 1468.2 1113.4 1511.6 1111.5 1511.4 1112.2 1506.2 1111 1506 1110.9 1506.9 1109.6 1506.8 1109.4 1508.3 1108.4 1508.2 1107.1 1518.1 1105.3 1517.8 1106.4 1509.7 1104.6 1509.4 1112.6 1453.3 1110.5 1453 1102.4 1507.3 1101.3 1507.2 1098.2 1527.2 1097.1 1527 1095.1 1539.8 1093.1 1539.4 1112.4 1419.6 1111 1419.4 1101.9 1473.9 1100.7 1473.7 1101.6 1468.3 1100.3 1468.1 1096.3 1491.2 1095 1491 1097.8 1475.3 1096.7 1475.1 1087.7 1524.1 1085.8 1523.7 1088.3 1510.1 1086.4 1509.7 1085.1 1516.3 1083.5 1516 1086.2 1502.1 1085.3 1501.9 1081 1523.2 1080 1523 1068.9 1577.6 1066.5 1577.1 1074.1 1540.7 1071.3 1540.1 1097.4 1419.9 1095.5 1419.5 1085.2 1465.1 1084.1 1464.8 1087 1452.2 1085.6 1451.9 1072.2 1508.9 1071.3 1508.7 1072.7 1502.8 1071.1 1502.4 1074.4 1488.7 1073.2 1488.4 1068.7 1506.8 1066.5 1506.2 1063.3 1518.9 1061.7 1518.5 1058.9 1529.2 1057.1 1528.7 1048.1 1563 1045.2 1562.3 1073.6 1457.1 1072.3 1456.7 1073.2 1453.5 1072.3 1453.3 1058.6 1502.6 1056.6 1502.1 1054.4 1509.9 1052.5 1509.4 1059.8 1484.2 1057.9 1483.6 1048.5 1515.5 1046.9 1515 1051.8 1498.8 1050.2 1498.3 1058.3 1471.8 1056.4 1471.2 1060 1459.7 1057.7 1459 1044.9 1498.7 1043.8 1498.3 1041.4 1505.9 1040.1 1505.5 1066.2 1426 1064.3 1425.4 1033.3 1517.8 1031.7 1517.3 1025.4 1535.8 1023.6 1535.1 1014.6 1561 1011.7 1560 1024.2 1524.5 1022.4 1523.8 1035.8 1486.5 1034.4 1486 1041.3 1467.1 1040.3 1466.8 1032 1489.3 1030.2 1488.6 1038.2 1467.3 1036.7 1466.7 1021.8 1506.1 1019.9 1505.4 1027.8 1484.9 1026.8 1484.5 1026.3 1485.8 1025.1 1485.4 1013.7 1514.4 1011.2 1513.5 1014.4 1505.5 1012.9 1504.9 1001 1534.2 998.6 1533.2 1018.4 1485.3 1016.7 1484.6 1008.3 1504.5 1006.3 1503.7 1040.3 1423.9 1038.6 1423.2 1039.1 1422 1037.7 1421.4 1039.1 1418.2 1037.8 1417.7 1011.7 1476.1 1010.1 1475.4 1013.7 1467.4 1012.2 1466.7 1006.1 1480 1005.1 1479.6 999.9 1490.9 998.4 1490.2 1011.9 1461.3 1010.7 1460.7 1017.1 1447.3 1015.6 1446.6 998.5 1482.5 996.3 1481.4 1017.2 1438.5 1015.7 1437.7 1004.6 1460 1002.9 1459.2 1001.9 1461.2 1000.5 1460.5 1010.3 1441.2 1009.5 1440.8 1029.5 1401.4 1028.1 1400.6 987.9 1478.3 986.9 1477.8 1000.7 1451.2 999.9 1450.8 998.1 1454.1 996.9 1453.5 999.1 1449.3 997.7 1448.6 992.6 1458 991.7 1457.5 1002.8 1437.1 1001.1 1436.2 974.7 1484.4 972.9 1483.4 1014.3 1408.8 1012.4 1407.7 995.7 1437.3 994.7 1436.7 1020.3 1391.9 1019 1391.2 975.7 1466.4 975.7 1466.4 981.5 1456.4A347.8 347.8 0 0 0 1153.1 1502.8ZM972.8 1451.2L960.4 1471.3 958.7 1470.2 974.3 1445.1 973.3 1444.5 952.2 1478.1 950.8 1477.2 950.6 1477.4 948.7 1476.2 948.9 1475.8 947.1 1474.7 985.2 1416 984.5 1415.5 944.3 1476.8 942.7 1475.8 948.5 1467.1 946.6 1465.9 975.9 1422.3 974.6 1421.4 952.4 1454.2 951.4 1453.5 951.8 1453 950 1451.8 932.7 1476.8 930.5 1475.3 982.1 1401.7 981.2 1401 943.2 1454.8 941.9 1453.9 957 1432.7 955.7 1431.8 972.4 1408.7 971.1 1407.7 957.5 1426.4 956.2 1425.6 955.2 1426.9 954.5 1426.4 965.9 1410.9 964.6 1409.9 964.6 1409.8 963.8 1409.2 905.9 1486 904 1484.6 962.1 1408.2 961.5 1407.7 959.4 1410.3 958.3 1409.5 907.9 1474.8 905.4 1472.9 918.1 1456.7 916.4 1455.3 963.5 1396 962.1 1394.8 930 1434.8 928.5 1433.6 957.9 1397.4 957 1396.7 960.9 1391.9 959.7 1391 894.9 1469.3 893.3 1467.9 963.4 1384.1 961.9 1382.8 944.3 1403.6 943.4 1402.8 914.4 1436.7 912.9 1435.4 902.9 1446.9 900.9 1445.2 915.5 1428.5 914.1 1427.3 928.9 1410.5 927.7 1409.4 892.3 1449 890.9 1447.8 928.4 1406.2 927 1405 927.1 1404.8 926.1 1403.9 930.4 1399.2 929.4 1398.3 885.9 1445.2 884 1443.4 914.1 1411.3 912.9 1410.2 954.8 1366 953.1 1364.5 927.6 1391 926.8 1390.3 933.8 1383.1 933 1382.4 917.5 1398.2 916.8 1397.5 937.6 1376.3 937 1375.7 936.6 1376.1 935.3 1374.8 901.8 1408.4 900.9 1407.5 888.9 1419.4 887.4 1418 901.7 1404 900.9 1403.1 923.8 1380.8 922.6 1379.5 895.1 1406.1 893.6 1404.7 892.3 1406 891 1404.6 952.1 1346.8 950.8 1345.4 890 1401.9 889 1400.8 876.9 1412 875.8 1410.8 863.9 1421.7 862.2 1419.8 843.5 1436.8 841.8 1435 911.7 1372.5 910.7 1371.4 889.3 1390.3 888.2 1389.1 890.3 1387.3 889.3 1386.1 872.1 1401 871 1399.8 955.4 1327 954.5 1325.9 886.2 1384.1 885.1 1382.8 877.2 1389.5 876 1388 911.8 1358.1 910.6 1356.6 879.6 1382.2 878.3 1380.7 825.8 1423.5 823.7 1420.9 871.2 1382.8 869.9 1381.2 870.9 1380.4 870.1 1379.4 909.5 1348.4 908.4 1347 872.6 1374.9 871.4 1373.4 861.5 1381.1 861.1 1380.6 879.1 1366.8A347.8 347.8 0 0 0 972.8 1451.2ZM873 1358.6L879.1 1354.2 878.6 1353.5 835.7 1384.2 834.5 1382.5 846.9 1373.6 846.1 1372.5 846 1372.6 845.1 1371.3 857.6 1362.6 856.9 1361.6 830 1380.2 828.7 1378.3 882.2 1341.6 881.3 1340.3 862.4 1353 861.9 1352.2 857.2 1355.3 856.5 1354.3 848.8 1359.5 848.2 1358.5 852 1356 851.1 1354.6 859.6 1349.1 858.8 1347.9 859.9 1347.2 859.2 1346.1 832.9 1363.1 832.2 1362.1 852.1 1349.4 851.5 1348.5 883.2 1328.3 882.4 1327 876.9 1330.5 876.3 1329.6 868.4 1334.5 867.7 1333.4 855.3 1341.1 854.2 1339.4 852.9 1340.2 852.2 1339 840.9 1345.9 840.1 1344.7 789.8 1375 788.8 1373.3 823.5 1352.7 822.7 1351.2 841.3 1340.2 840.3 1338.6 925.6 1288.8 925 1287.8 844.4 1334.4 843.6 1333 809.7 1352.4 808.1 1349.7 841.4 1331.1 840.5 1329.5 869.3 1313.6 868.4 1311.9 836.5 1329.4 835.8 1328.2 834.5 1329 833.7 1327.5 896.7 1293.7 896 1292.3 826.2 1329.3 825.7 1328.3 869.3 1305.4 868.7 1304.3 907.6 1284 906.7 1282.3 825.2 1324.1 824.2 1322.1 834.1 1317.1 833.6 1316.1 838.1 1313.8 837.5 1312.7 840.7 1311.1 839.8 1309.3 824.2 1317 823.6 1315.9 865.9 1295.3 865.3 1294 772.6 1338.4 771.4 1336.1 852.8 1297.7 852.4 1296.8 910.6 1269.5 910.1 1268.4 768.5 1333.9 767.4 1331.6 816.3 1309.4 815.4 1307.3 855 1289.6 854.6 1288.6 818 1304.9 817.4 1303.6 826 1299.9 825.2 1298.1 820.8 1300 820 1298.1 858 1281.8 857.4 1280.4 846.3 1285.1 845.6 1283.3 819.2 1294.2 818.4 1292.2 814.3 1293.8 813.3 1291.3 754.2 1314.9 753.3 1312.5 857.8 1271.6 857.1 1270 857.1 1270 856.5 1268.6 845.1 1272.9 844.8 1272.1 813.8 1283.8 813.2 1282 871.7 1260.2 871 1258.4 853.5 1264.7 853 1263.2 888.8 1250.3 888.2 1248.7 861.3 1258.1 860.9 1256.9 854.7 1259 854.4 1258.1 811.4 1272.8 810.9 1271.3 859 1255.1 858.4 1253.3 850.5 1256 850.2 1255 807.7 1269 807 1267.1 749.4 1285.7 748.8 1283.9 788.5 1271.3 787.8 1269.1 815.3 1260.6 814.8 1259 857.9 1245.8 857.7 1245.4 822.2 1256.2A347.8 347.8 0 0 0 873 1358.6ZM819.5 1246.6L807.3 1249.9 806.8 1248.1 800.8 1249.7 800.6 1248.7 805.1 1247.5 804.7 1246 890.4 1223.8 889.8 1221.7 768.9 1252.1 768.3 1249.6 888.2 1220.3 887.8 1218.7 776.8 1245.1 776.4 1243.6 773.9 1244.2 773.3 1241.7 797.5 1236.2 797.1 1234.4 885.5 1214.8 885.1 1212.9 787.5 1233.9 787.2 1232.5 791.8 1231.5 791.5 1230.3 805.9 1227.3 805.7 1226.2 828.3 1221.6 828 1220.1 793.3 1227 793 1225.5 800.1 1224.2 799.7 1222.3 872.2 1208.6 871.8 1206.7 777.2 1224 776.9 1222.3 806.3 1217.1 806.1 1215.9 858.5 1206.8 858.2 1205 806.7 1213.7 806.5 1212.4 781.3 1216.6 781.1 1215.1 778.4 1215.6 778.1 1213.8 801.1 1210.3 800.9 1208.6 788.6 1210.5 788.4 1209 738.7 1216.4 738.2 1213.5 745.4 1212.5 745.1 1210.6 844 1197.2 843.8 1195.4 791.5 1202.2 791.3 1200.9 881.7 1189.5 881.5 1187.7 780.2 1199.8 780 1198.2 803.5 1195.5 803.3 1194.2 732.7 1202.1 732.4 1199.2 844.6 1187.4 844.5 1186 849.7 1185.5 849.5 1183.4 815.8 1186.5 815.6 1184.6 843.2 1182.2 843.1 1181 820.6 1182.9 820.5 1181.6 855.6 1178.8 855.5 1176.9 799.8 1181 799.7 1179.2 814.1 1178.2 814 1176.6 818.4 1176.3 818.4 1175.2 803.4 1176.1 803.3 1174.6 826.6 1173.3 826.5 1171.6 791.6 1173.4 791.5 1171.5 814.3 1170.4 814.3 1168.8 818.2 1168.6 818.2 1167.6 815.6 1167.7 815.5 1165.9 755.7 1167.8 755.6 1165.2 759.5 1165.1 759.5 1162.7 866.1 1160.7 866.1 1158.9 834 1159.4 834 1158 817.9 1158.2 817.9 1157.1 825.5 1157.1 825.5 1155.3 741.6 1155.4 741.6 1152.5 836.9 1153.1 836.9 1151.6 747.3 1150.6 747.3 1148.5 840 1150 840 1148.6 728.3 1146.3 728.3 1143.6 840.1 1146.6 840.1 1145.6 892.2 1147.2 892.2 1145.5 837.2 1143.5 837.2 1142.6 731.5 1138.4 731.6 1135.6 820.4 1139.7 820.5 1138.2 834.5 1138.9 834.5 1137.3 829.1 1137 829.2 1136.7 807.7 1135.5A347.8 347.8 0 0 0 819.5 1246.6ZM808.5 1125.2L794.3 1124 794.5 1122.5 826.1 1125.3 826.2 1124.2 841.3 1125.6 841.5 1123.8 783.7 1118 783.8 1116.8 820 1120.6 820.1 1119.2 804.3 1117.6 804.6 1115.6 797.7 1114.8 797.9 1113.7 869.6 1122 869.9 1119.7 843.4 1116.4 843.7 1114.2 792.6 1107.5 792.9 1105.3 891.4 1118.8 891.7 1116.9 787.7 1101.8 788 1100.3 731 1091.8 731.5 1089 816.2 1102.2 816.5 1100.4 837.3 1103.7 837.7 1101.6 802.6 1095.7 802.9 1094.3 801 1094 801.3 1092.3 851.3 1101.2 851.5 1099.9 797.1 1090.1 797.4 1088.4 775.4 1084.3 775.6 1083.3 786.8 1085.4 787.1 1083.9 824.5 1091.1 824.7 1089.9 841.4 1093.2 841.6 1091.9 807.4 1085 807.7 1083.4 749 1071.3 749.4 1069.3 746.4 1068.6 747 1065.8 802.4 1077.9 802.6 1076.6 809 1078 809.4 1076.2 770.1 1067.3 770.8 1064.4 782.7 1067.2 783.1 1065.2 801.6 1069.7 802 1068.3 896 1091.4 896.3 1090.2 792.4 1064.2 792.7 1062.9 887.9 1087.1 888.4 1085.3 895 1087 895.6 1084.9 860.2 1075.4 860.8 1073.2 761.3 1045.5 762.1 1042.6 895.5 1080.8 895.9 1079.6 889.2 1077.6 889.8 1075.6 839.9 1060.6 840.4 1058.9 836.1 1057.6 836.4 1056.5 829.4 1054.3 830 1052.6 852 1059.6 852.5 1057.9 831.2 1051.1 831.7 1049.3 865.1 1060.2 865.5 1058.8 792.8 1034.6 793.2 1033.4 798.1 1035.1 798.5 1033.8 798.6 1033.8 798.9 1032.8 845.3 1048.7 845.9 1047 831.3 1041.9 831.7 1040.6 802.2 1030.2 802.7 1028.6 833.7 1039.7 834.1 1038.5 775.3 1017.1 775.9 1015.2 898.8 1060.6 899.3 1059.2 842.5 1037.9 842.9 1036.8 811.1 1024.7 811.7 1023.2 835.2 1032.3 835.5 1031.3 836.3 1031.6 837 1029.7 822.6 1024 823 1022.8 851.4 1034.1 851.8 1033.2 852.2 1033.3 852.7 1032 852.2 1031.7 852.8 1030.1 755.2 989.7 756.4 987 810.4 1009.7 811 1008.4 811.6 1008.6 812 1007.8 835.4 1017.8A347.8 347.8 0 0 0 808.5 1125.2ZM839.5 1008.7L865.8 1020.9 866.3 1019.8 771.8 975.6 773 973 802.3 987 803.4 984.7 824.7 995 825.1 994.1 822.3 992.8 823.1 991.3 877.6 1018.1 878.4 1016.5 900.6 1027.6 901.5 1025.7 872.8 1011.1 873.2 1010.3 873.1 1010.2 873.7 1009.1 884.6 1014.7 885.5 1013 869.6 1004.6 870.4 1003.2 823.5 978.2 824.3 976.7 920.3 1028.5 921.1 1026.9 859.5 993.2 860.2 991.9 857 990.1 857.8 988.7 884.4 1003.6 885.6 1001.5 856.1 984.8 857.1 983.1 837.7 972 838.3 970.9 873.1 991.1 873.7 990.1 870.2 988.1 871 986.8 881.3 992.9 882.2 991.4 836.3 963.9 837.1 962.6 791.8 935.1 793.3 932.7 849.8 967.4 850.7 966 871.6 979 872.1 978.3 901.3 996.5 902 995.4 896.9 992.1 898.1 990.2 866.7 970 867.5 968.7 847.7 955.8 848.2 955 822.8 938.5 824.4 936.1 862.5 961.3 863.7 959.7 924.3 1000.3 925.2 999 848.6 947 849.6 945.6 923.1 996 924.2 994.4 886.9 968.4 887.7 967.1 848.8 939.8 850 938 890.3 966.6 891 965.7 850.1 936.3 850.7 935.5 887.1 961.7 887.7 960.9 891.3 963.5 891.8 962.7 874.2 949.8A347.8 347.8 0 0 0 839.5 1008.7ZM880.4 941.5L892.2 950.7 893 949.6 851.8 917.3 853.5 915.1 916.4 965.1 917.9 963.2 890 940.7 890.7 939.9 903.9 950.7 904.6 949.8 903.2 948.7 903.8 948 866.5 917.2 867.6 915.9 900.6 943.4 901.3 942.5 836.1 887.9 837.7 886.1 845.8 892.9 846.9 891.5 867.2 908.9 868.5 907.5 883.1 920.1 883.8 919.2 873.9 910.6 874.6 909.8 868.8 904.8 870.1 903.3 878.8 911 880.2 909.5 933.4 957 934.6 955.7 943.7 963.9 945.2 962.3 872.4 895.4 874.3 893.3 907.4 924.2 908.6 922.9 897.3 912.2 898.6 910.8 885.8 898.5 887.6 896.6 930.6 938.2 931.9 936.9 900.1 905.8 901.3 904.5 895.8 899 896.9 897.8 896 896.8 896.9 895.9 936.2 935.3 937.3 934.1 899.9 896.2 900.1 895.9 911.1 907.1A347.8 347.8 0 0 0 880.4 941.5ZM918.5 900L911.6 892.5 912.3 891.8 914.6 894.2 915.9 893 900.8 876.5 902 875.4 913.5 888 914.9 886.8 930.5 904.2 931.4 903.4 926.5 897.9 927.3 897.2 931 901.4 931.6 900.8 941.3 911.8 942.5 910.8 931.2 897.8 931.9 897.1 916.5 879.3 917.4 878.6 921.9 883.8 923.1 882.9 911.1 868.8 912.5 867.6 913.8 869.1 916.1 867.2 880.9 824.8 883 823 983.8 946 985 944.9 914.7 858 915.8 857.1 930.8 875.8 931.9 875 920.1 860.2 921.3 859.2 910.5 845.6 912.1 844.3 929.8 866.9 931.4 865.6 939.1 875.7 940.2 874.8 900.4 822.9 902.4 821.5 966.2 905.7 967.7 904.5 954.3 886.5 955.2 885.8 921.7 840.7 923.1 839.6 929.8 848.7 931.6 847.4 939.9 858.7 940.8 858.1 940 857 940.6 856.5 952.1 872.5A347.8 347.8 0 0 0 918.5 900ZM960.3 866.8L958 863.4 959.6 862.4 980.4 893.6 981.2 893.1 975.5 884.6 976.3 884.1 922.7 802.9 925.2 801.3 982 888.8 983.2 888 970.2 867.8 971.2 867.2 965.3 857.9 966.3 857.2 971.3 865.1 972.3 864.4 994.2 899.3 995.9 898.3 1004.9 912.7 1006.8 911.6 982.6 871.9 983.6 871.3 983.6 871.4 985 870.6 983.6 868.3 984.8 867.6 983.2 865 984.2 864.4 980.6 858.4 982.1 857.5 1016.7 917 1018.5 916 992.3 870.1 993.1 869.7 948.3 790.8 951.2 789.1 1016.8 907 1018.5 906.1 995.7 864.6 996.5 864.2 992.1 856.1 993.2 855.5 1027.9 919.7 1028.5 919.4 990.5 848.6A347.8 347.8 0 0 0 960.3 866.8ZM999.6 843.8L975.9 796.3 978.1 795.2 1028 896.8 1029.2 896.2 968.2 770.9 971.1 769.6 1007.2 845.2 1008 844.8 1003.6 835.3 1005.4 834.5 1024.2 874.9 1026.2 874.1 1004 825.7 1005 825.2 983.8 778.5 986.3 777.3 992.4 791 994.2 790.2 1012.7 832.3 1013.7 831.9 1005 812 1006.2 811.5 1008.1 815.8 1009.2 815.3 1023.6 848.7 1024.8 848.1 1007.6 807.5 1009.3 806.7 1012.1 813.4 1013 813.1 1012.4 811.5 1013.6 811.1 1015 814.6 1016.6 814 1021.5 826.1 1022.7 825.6 1022.2 824.3 1023.3 823.9 995.3 753.5 997.4 752.7 1028.2 831.2A347.8 347.8 0 0 0 999.6 843.8ZM1037.4 827.7L1028 801.5 1029.2 801 1035.6 819.1 1037.5 818.4 1033.2 806.1 1035.1 805.4 1039.9 819.3 1041.2 818.8 1047.2 836.7 1049 836.1 1050.1 839.4 1051.9 838.8 1048.4 827.9 1049.4 827.6 1063.2 870.2 1065 869.6 1059.3 851.5 1060.1 851.3 1043.1 796.8 1044.3 796.4 1048.2 809.3 1049.9 808.8 1047.1 799.8 1049.1 799.2 1052.1 809.3 1054 808.7 1051.4 799.7 1053.2 799.1 1063.4 834.6 1064.9 834.1 1057 806.2 1058.4 805.8 1078.5 878.6 1079.7 878.2 1063.7 819.4A347.8 347.8 0 0 0 1037.4 827.7ZM1073.2 817L1078.5 838.9 1080.4 838.5 1078.2 829.4 1079.3 829.2 1065.2 768.8 1067.9 768.2 1074.3 796.7 1076.6 796.2 1086.2 840 1087.6 839.7 1083.3 819.5 1084.4 819.3 1088.6 839.1 1090.2 838.7 1077.8 777.9 1080.1 777.4 1084.8 801 1086.9 800.6 1093.9 836.6 1095 836.4 1075 730.4 1077.4 730 1081 750.2 1083.2 749.8 1102.8 860.2 1104.4 859.9 1096.2 812.2A347.8 347.8 0 0 0 1073.2 817ZM1105.8 810.7L1110 840.1 1111.5 839.9 1106 799.7 1107.9 799.4 1111.8 829.2 1112.7 829.1 1113.5 835.4 1115.3 835.2 1102.5 732.6 1104.8 732.3 1117.7 840.3 1119.3 840.1 1113.4 787.4 1114.5 787.3 1114.4 786.3 1115.3 786.2 1116.4 796.3 1118.2 796.1 1116.7 781.4 1118.9 781.2 1119 782.6 1120.1 782.5 1129.3 880.7 1129.8 880.6 1123.2 808.7A347.8 347.8 0 0 0 1105.8 810.7ZM1132.9 807.9L1131.3 781.9 1132.9 781.8 1133.7 795.9 1135.4 795.8 1135.8 803.7 1136.8 803.6 1133.8 743.9 1135.9 743.8 1142 876.3 1144.2 876.3 1141.1 794.8 1143 794.8 1143.1 798.1 1144 798 1145.7 853 1146.4 852.9 1145.1 807.3A347.8 347.8 0 0 0 1132.9 807.9Z"/></defs><use href="#gcp" fill="#FF0000" clip-path="url(#gco)"/><use href="#gcp" fill="#0000FF" clip-path="url(#gci)"/><use href="#gcp" fill="none" stroke="#000" stroke-width="1.3" stroke-linejoin="round" clip-path="url(#gcb)"/><use href="#skp" fill="#FF6000" clip-path="url(#sko)"/><use href="#skp" fill="#00FF00" clip-path="url(#ski)"/><use href="#skp" fill="none" stroke="#000" stroke-width="1.3" stroke-linejoin="round" clip-path="url(#skb)"/><g font-size="50.4" fill="#000"><text x="255.6" y="2581.7">2nd Circle</text><rect x="245.9" y="2633.5" width="22" height="22" rx="2.4" fill="#FF0000"/><text x="281.2" y="2658.8">+ strand</text><rect x="245.9" y="2710.6" width="22" height="22" rx="2.4" fill="#000000"/><text x="281.2" y="2735.9">- strand</text><text x="640.8" y="2581.7">3rd Circle</text><path d="M642 2634.5L652.5 2654.5L631.5 2654.5Z" fill="#00FFFF" stroke="#00FFFF" stroke-width="2.5" stroke-linejoin="round"/><text x="666.3" y="2658.8">CDS</text><path d="M642 2711.6L652.5 2731.6L631.5 2731.6Z" fill="#0000FF" stroke="#0000FF" stroke-width="2.5" stroke-linejoin="round"/><text x="666.3" y="2735.9">tRNA</text><path d="M642 2788.7L652.5 2808.7L631.5 2808.7Z" fill="#A020F0" stroke="#A020F0" stroke-width="2.5" stroke-linejoin="round"/><text x="666.3" y="2813">rRNA</text><path d="M642 2865.8L652.5 2885.8L631.5 2885.8Z" fill="#FF6A6A" stroke="#FF6A6A" stroke-width="2.5" stroke-linejoin="round"/><text x="666.3" y="2890.1">tmRNA</text><path d="M642 2942.9L652.5 2962.9L631.5 2962.9Z" fill="#BEBEBE" stroke="#BEBEBE" stroke-width="2.5" stroke-linejoin="round"/><text x="666.3" y="2967.2">other</text><text x="1025.9" y="2581.7">4th Circle</text><rect x="1016.2" y="2633.5" width="22" height="22" rx="2.4" fill="#BF5B17"/><text x="1051.5" y="2658.8">GH</text><rect x="1016.2" y="2710.6" width="22" height="22" rx="2.4" fill="#F0027F"/><text x="1051.5" y="2735.9">GT</text><rect x="1016.2" y="2787.7" width="22" height="22" rx="2.4" fill="#386CB0"/><text x="1051.5" y="2813">CBM</text><text x="1411" y="2581.7">5th Circle</text><rect x="1401.3" y="2633.5" width="22" height="22" rx="2.4" fill="#FF0000"/><text x="1436.6" y="2658.8">GC &gt; mean</text><rect x="1401.3" y="2710.6" width="22" height="22" rx="2.4" fill="#0000FF"/><text x="1436.6" y="2735.9">GC &lt; mean</text><text x="1796.2" y="2581.7">6th Circle</text><rect x="1786.5" y="2633.5" width="22" height="22" rx="2.4" fill="#FF6000"/><text x="1821.8" y="2658.8">GC Skew &gt; 0</text><rect x="1786.5" y="2710.6" width="22" height="22" rx="2.4" fill="#00FF00"/><text x="1821.8" y="2735.9">GC Skew &lt; 0</text></g></svg></body></html>
